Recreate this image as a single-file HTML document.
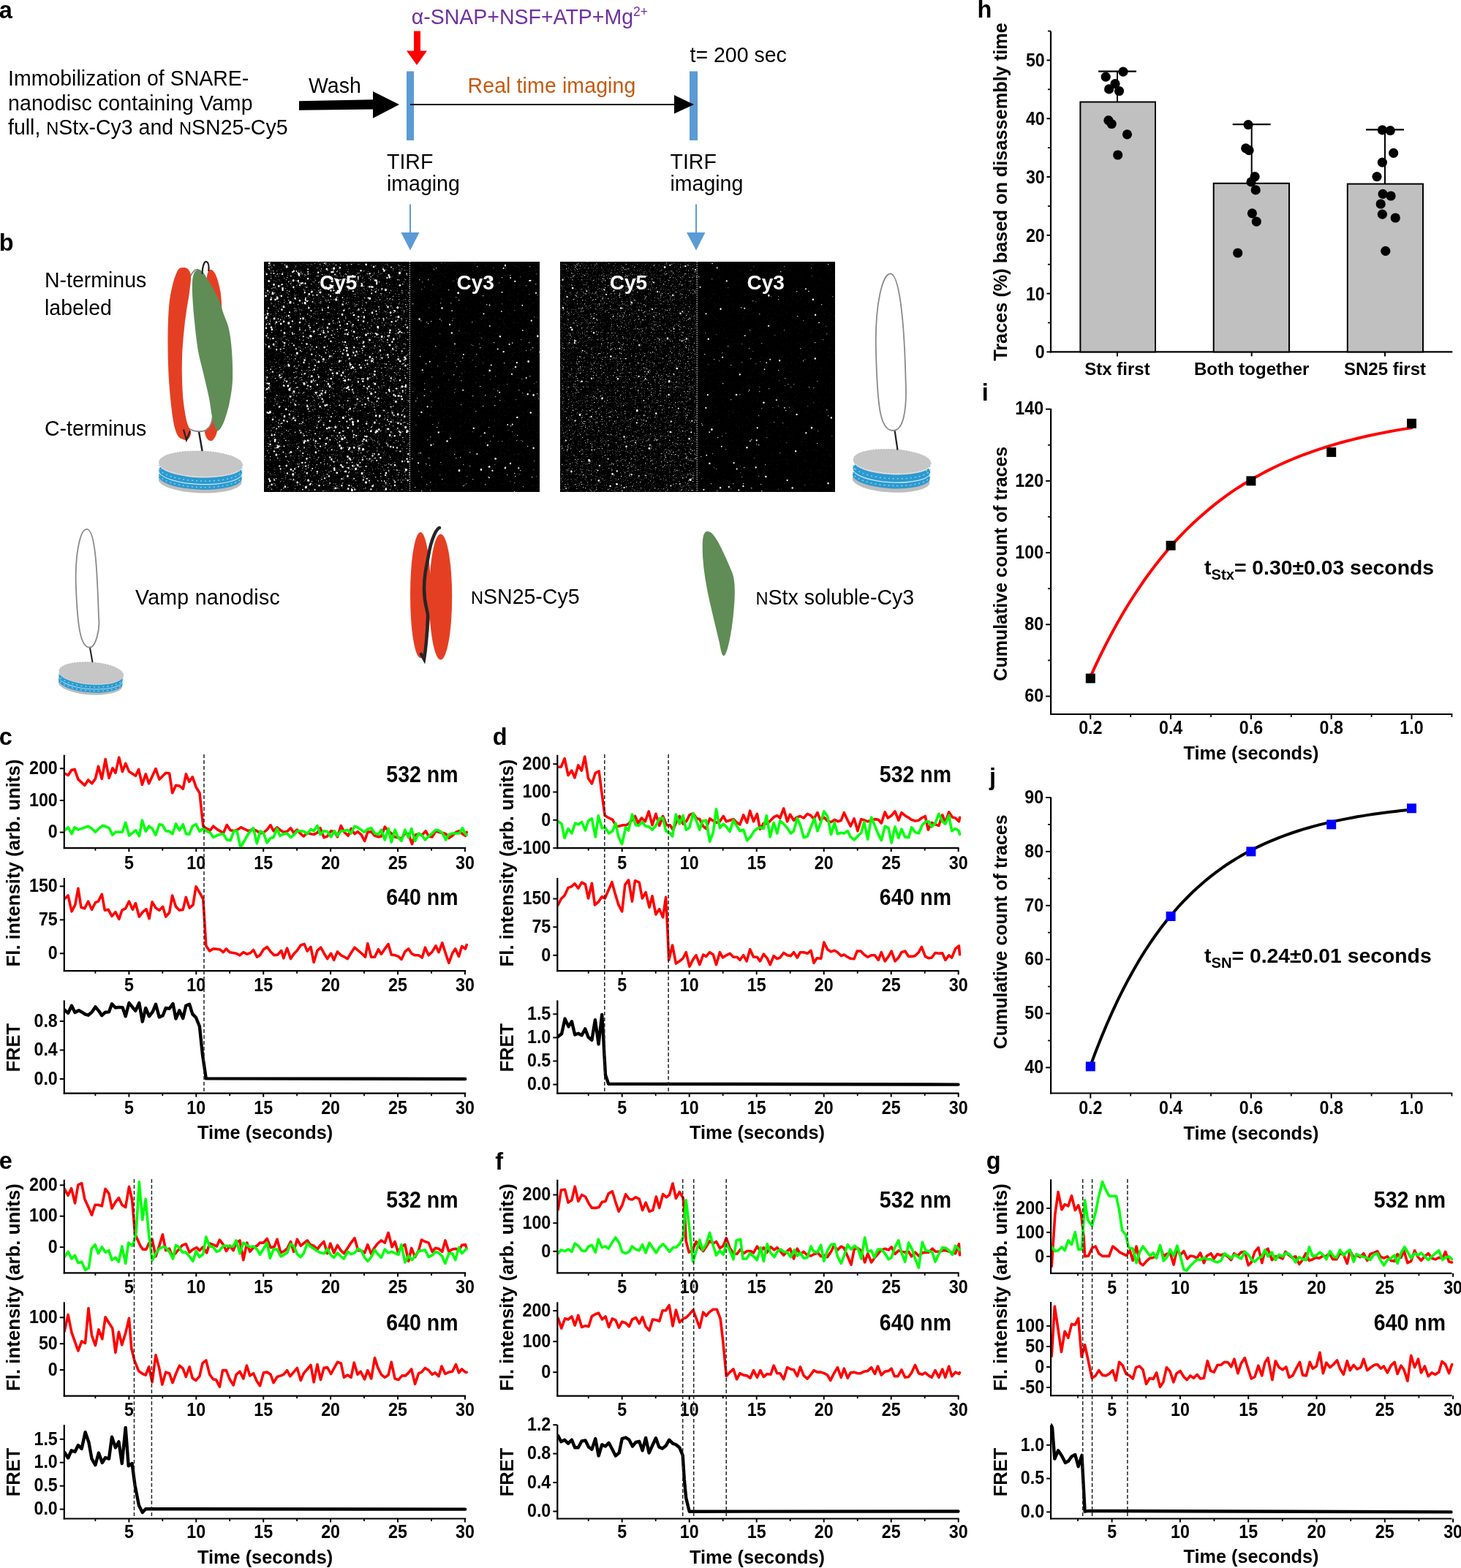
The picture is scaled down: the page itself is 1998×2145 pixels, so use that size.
<!DOCTYPE html>
<html><head><meta charset="utf-8"><style>
html,body{margin:0;padding:0;background:#fff;}
svg{display:block;}
text{font-family:'Liberation Sans', Arial, sans-serif;}
</style></head><body>
<svg xmlns="http://www.w3.org/2000/svg" width="1998" height="2145" viewBox="0 0 1998 2145" font-family="'Liberation Sans', Arial, sans-serif">
<rect width="1998" height="2145" fill="#fff"/>
<text x="-1.3" y="24.5" font-size="32.5" font-weight="bold">a</text>
<text transform="translate(11.0,117.0) scale(0.9727,1)" font-size="29.3">Immobilization of SNARE-</text>
<text transform="translate(11.0,150.7) scale(0.9727,1)" font-size="29.3" letter-spacing="0.11">nanodisc containing Vamp</text>
<text transform="translate(11.0,184.0) scale(0.9727,1)" font-size="29.3">full, <tspan font-size="24.3">N</tspan>Stx-Cy3 and <tspan font-size="24.3">N</tspan>SN25-Cy5</text>
<text transform="translate(422.0,127.0) scale(0.9727,1)" font-size="29.3">Wash</text>
<polygon points="409.0,138.3 510.0,136.3 510.0,125.0 546.0,143.0 510.0,161.8 510.0,149.5 409.0,150.8" fill="#000"/>
<rect x="556" y="97.5" width="10" height="94.5" fill="#5B9BD5"/>
<rect x="943" y="97.5" width="11" height="94.5" fill="#5B9BD5"/>
<line x1="561.0" y1="143.0" x2="924.0" y2="143.0" stroke="#000" stroke-width="2"/>
<polygon points="922.0,130.0 949.0,143.0 922.0,155.5" fill="#000"/>
<text transform="translate(639.5,127.0) scale(0.9727,1)" font-size="29.3" fill="#C55A11" letter-spacing="0.12">Real time imaging</text>
<text transform="translate(562.8,32.5) scale(0.9727,1)" font-size="29.3" fill="#7030A0">&#945;-SNAP+NSF+ATP+Mg<tspan font-size="18" dy="-10.2">2+</tspan></text>
<polygon points="566.0,42.5 575.0,42.5 575.0,69.5 584.0,69.5 570.0,89.0 556.0,69.5 566.0,69.5" fill="#FF0000"/>
<text transform="translate(943.5,85.0) scale(0.9727,1)" font-size="29.3">t= 200 sec</text>
<text transform="translate(529.0,230.8) scale(0.9727,1)" font-size="29.3">TIRF</text>
<text transform="translate(529.0,260.5) scale(0.9727,1)" font-size="29.3">imaging</text>
<text transform="translate(916.5,230.8) scale(0.9727,1)" font-size="29.3">TIRF</text>
<text transform="translate(916.5,260.5) scale(0.9727,1)" font-size="29.3">imaging</text>
<line x1="561.0" y1="279.4" x2="561.0" y2="320.0" stroke="#5B9BD5" stroke-width="2"/>
<polygon points="548.4,318.0 573.5,318.0 561.0,342.4" fill="#5B9BD5"/>
<line x1="952.0" y1="279.4" x2="952.0" y2="320.0" stroke="#5B9BD5" stroke-width="2"/>
<polygon points="939.0,318.0 964.5,318.0 952.0,342.4" fill="#5B9BD5"/>
<text x="-1.2" y="343.0" font-size="32.5" font-weight="bold">b</text>
<text transform="translate(61.0,392.8) scale(0.9727,1)" font-size="29.3">N-terminus</text>
<text transform="translate(61.0,430.7) scale(0.9727,1)" font-size="29.3">labeled</text>
<text transform="translate(61.0,596.4) scale(0.9727,1)" font-size="29.3">C-terminus</text>
<rect x="361" y="358" width="377" height="315" fill="#000"/>
<filter id="gr10" x="0" y="0" width="1" height="1" color-interpolation-filters="sRGB"><feTurbulence type="fractalNoise" baseFrequency="0.85" numOctaves="2" seed="7"/><feColorMatrix type="matrix" values="0 0 0 0 1 0 0 0 0 1 0 0 0 0 1 6 0 0 0 -3.9"/></filter>
<rect x="361.0" y="358" width="199.4" height="315" filter="url(#gr10)" opacity="0.5"/>
<path fill="rgb(210,210,210)" d="M463 507h1.3v1.3h-1.3zM525 657h1.3v1.3h-1.3zM443 634h1.3v1.3h-1.3zM422 562h1.3v1.3h-1.3zM452 584h1.3v1.3h-1.3zM402 500h1.3v1.3h-1.3zM510 663h1.3v1.3h-1.3zM505 516h1.3v1.3h-1.3zM543 382h1.3v1.3h-1.3zM528 434h1.3v1.3h-1.3zM400 546h1.3v1.3h-1.3zM531 634h1.3v1.3h-1.3zM543 419h1.3v1.3h-1.3zM537 534h1.3v1.3h-1.3zM410 662h1.3v1.3h-1.3zM514 488h1.3v1.3h-1.3zM404 508h1.3v1.3h-1.3zM505 535h1.3v1.3h-1.3zM447 634h1.3v1.3h-1.3zM533 521h1.3v1.3h-1.3zM413 374h1.3v1.3h-1.3zM452 644h1.3v1.3h-1.3zM434 541h1.3v1.3h-1.3zM384 669h1.3v1.3h-1.3zM402 551h1.3v1.3h-1.3zM418 411h1.3v1.3h-1.3zM518 385h1.3v1.3h-1.3zM480 498h1.3v1.3h-1.3zM498 643h1.3v1.3h-1.3zM388 519h1.3v1.3h-1.3zM391 432h1.3v1.3h-1.3zM420 429h1.3v1.3h-1.3zM507 445h1.3v1.3h-1.3zM423 625h1.3v1.3h-1.3zM548 659h1.3v1.3h-1.3zM433 536h1.3v1.3h-1.3zM489 585h1.3v1.3h-1.3zM437 361h1.3v1.3h-1.3zM461 667h1.3v1.3h-1.3zM365 456h1.3v1.3h-1.3zM541 479h1.3v1.3h-1.3zM365 616h1.3v1.3h-1.3zM367 664h1.3v1.3h-1.3zM450 539h1.3v1.3h-1.3zM387 547h1.3v1.3h-1.3zM439 488h1.3v1.3h-1.3zM481 618h1.3v1.3h-1.3zM532 400h1.3v1.3h-1.3zM466 636h1.3v1.3h-1.3zM399 454h1.3v1.3h-1.3zM392 379h1.3v1.3h-1.3zM547 519h1.3v1.3h-1.3zM380 578h1.3v1.3h-1.3zM381 574h1.3v1.3h-1.3zM508 550h1.3v1.3h-1.3zM482 459h1.3v1.3h-1.3zM378 552h1.3v1.3h-1.3zM366 428h1.3v1.3h-1.3zM525 658h1.3v1.3h-1.3zM552 604h1.3v1.3h-1.3zM429 547h1.3v1.3h-1.3zM521 503h1.3v1.3h-1.3zM517 529h1.3v1.3h-1.3zM499 502h1.3v1.3h-1.3zM394 385h1.3v1.3h-1.3zM367 363h1.3v1.3h-1.3zM489 610h1.3v1.3h-1.3zM511 556h1.3v1.3h-1.3zM472 433h1.3v1.3h-1.3zM476 396h1.3v1.3h-1.3zM553 645h1.3v1.3h-1.3zM441 494h1.3v1.3h-1.3zM389 362h1.3v1.3h-1.3zM363 471h1.3v1.3h-1.3zM521 657h1.3v1.3h-1.3zM397 550h1.3v1.3h-1.3zM410 616h1.3v1.3h-1.3zM465 480h1.3v1.3h-1.3zM516 604h1.3v1.3h-1.3zM396 434h1.3v1.3h-1.3zM485 505h1.3v1.3h-1.3zM369 624h1.3v1.3h-1.3zM372 399h1.3v1.3h-1.3zM394 410h1.3v1.3h-1.3zM449 402h1.3v1.3h-1.3zM487 461h1.3v1.3h-1.3zM469 520h1.3v1.3h-1.3zM498 589h1.3v1.3h-1.3zM549 397h1.3v1.3h-1.3zM555 419h1.3v1.3h-1.3zM456 483h1.3v1.3h-1.3zM483 558h1.3v1.3h-1.3zM411 372h1.3v1.3h-1.3zM438 412h1.3v1.3h-1.3zM557 498h1.3v1.3h-1.3zM490 616h1.3v1.3h-1.3zM417 510h1.3v1.3h-1.3zM431 520h1.3v1.3h-1.3zM370 406h1.3v1.3h-1.3zM380 425h1.3v1.3h-1.3zM403 516h1.3v1.3h-1.3zM533 669h1.3v1.3h-1.3zM449 463h1.3v1.3h-1.3zM502 587h1.3v1.3h-1.3zM463 576h1.3v1.3h-1.3zM413 414h1.3v1.3h-1.3zM393 406h1.3v1.3h-1.3zM417 451h1.3v1.3h-1.3zM520 651h1.3v1.3h-1.3zM473 535h1.3v1.3h-1.3zM388 568h1.3v1.3h-1.3zM472 569h1.3v1.3h-1.3zM395 398h1.3v1.3h-1.3zM543 437h1.3v1.3h-1.3zM424 471h1.3v1.3h-1.3zM471 451h1.3v1.3h-1.3zM503 547h1.3v1.3h-1.3zM513 542h1.3v1.3h-1.3zM505 511h1.3v1.3h-1.3zM537 555h1.3v1.3h-1.3zM381 439h1.3v1.3h-1.3zM538 519h1.3v1.3h-1.3zM366 462h1.3v1.3h-1.3zM419 531h1.3v1.3h-1.3zM516 657h1.3v1.3h-1.3zM395 619h1.3v1.3h-1.3zM423 588h1.3v1.3h-1.3zM434 512h1.3v1.3h-1.3zM473 472h1.3v1.3h-1.3zM546 537h1.3v1.3h-1.3zM389 517h1.3v1.3h-1.3zM445 410h1.3v1.3h-1.3zM412 579h1.3v1.3h-1.3zM433 647h1.3v1.3h-1.3zM379 626h1.3v1.3h-1.3zM455 513h1.3v1.3h-1.3zM534 431h1.3v1.3h-1.3zM468 467h1.3v1.3h-1.3zM498 556h1.3v1.3h-1.3zM482 481h1.3v1.3h-1.3zM506 382h1.3v1.3h-1.3zM426 658h1.3v1.3h-1.3zM548 435h1.3v1.3h-1.3zM553 577h1.3v1.3h-1.3zM558 548h1.3v1.3h-1.3zM518 570h1.3v1.3h-1.3zM461 605h1.3v1.3h-1.3zM381 637h1.3v1.3h-1.3zM376 663h1.3v1.3h-1.3zM377 612h1.3v1.3h-1.3zM380 605h1.3v1.3h-1.3zM464 391h1.3v1.3h-1.3zM469 595h1.3v1.3h-1.3zM403 490h1.3v1.3h-1.3zM534 591h1.3v1.3h-1.3zM433 377h1.3v1.3h-1.3zM469 517h1.3v1.3h-1.3zM507 531h1.3v1.3h-1.3zM416 400h1.3v1.3h-1.3zM557 454h1.3v1.3h-1.3zM498 449h1.3v1.3h-1.3zM431 611h1.3v1.3h-1.3zM431 486h1.3v1.3h-1.3zM378 405h1.3v1.3h-1.3zM447 369h1.3v1.3h-1.3zM482 535h1.3v1.3h-1.3zM405 515h1.3v1.3h-1.3zM480 452h1.3v1.3h-1.3zM450 543h1.3v1.3h-1.3zM405 515h1.3v1.3h-1.3zM460 371h1.3v1.3h-1.3zM518 607h1.3v1.3h-1.3zM421 636h1.3v1.3h-1.3zM435 386h1.3v1.3h-1.3zM412 469h1.3v1.3h-1.3zM524 437h1.3v1.3h-1.3zM410 429h1.3v1.3h-1.3zM447 648h1.3v1.3h-1.3zM491 638h1.3v1.3h-1.3zM501 530h1.3v1.3h-1.3zM391 588h1.3v1.3h-1.3zM447 473h1.3v1.3h-1.3zM558 400h1.3v1.3h-1.3zM379 374h1.3v1.3h-1.3zM519 409h1.3v1.3h-1.3zM534 418h1.3v1.3h-1.3zM377 654h1.3v1.3h-1.3zM520 647h1.3v1.3h-1.3zM477 645h1.3v1.3h-1.3zM554 416h1.3v1.3h-1.3zM493 619h1.3v1.3h-1.3zM520 589h1.3v1.3h-1.3zM520 401h1.3v1.3h-1.3zM554 488h1.3v1.3h-1.3zM367 610h1.3v1.3h-1.3zM531 576h1.3v1.3h-1.3zM551 528h1.3v1.3h-1.3zM440 375h1.3v1.3h-1.3zM527 581h1.3v1.3h-1.3zM537 484h1.3v1.3h-1.3zM550 562h1.3v1.3h-1.3zM448 410h1.3v1.3h-1.3zM370 380h1.3v1.3h-1.3zM499 485h1.3v1.3h-1.3zM463 495h1.3v1.3h-1.3zM512 460h1.3v1.3h-1.3zM464 373h1.3v1.3h-1.3zM531 643h1.3v1.3h-1.3zM502 441h1.3v1.3h-1.3zM530 639h1.3v1.3h-1.3zM402 456h1.3v1.3h-1.3zM371 669h1.3v1.3h-1.3zM498 407h1.3v1.3h-1.3zM476 439h1.3v1.3h-1.3zM525 444h1.3v1.3h-1.3zM552 476h1.3v1.3h-1.3zM489 517h1.3v1.3h-1.3zM496 469h1.3v1.3h-1.3zM425 432h1.3v1.3h-1.3zM408 611h1.3v1.3h-1.3zM551 560h1.3v1.3h-1.3zM463 548h1.3v1.3h-1.3zM388 473h1.3v1.3h-1.3zM557 504h1.3v1.3h-1.3zM550 388h1.3v1.3h-1.3zM486 508h1.3v1.3h-1.3zM434 606h1.3v1.3h-1.3zM464 401h1.3v1.3h-1.3zM510 495h1.3v1.3h-1.3zM512 435h1.3v1.3h-1.3zM371 407h1.3v1.3h-1.3zM456 541h1.3v1.3h-1.3zM407 416h1.3v1.3h-1.3zM557 464h1.3v1.3h-1.3zM374 362h1.3v1.3h-1.3zM481 533h1.3v1.3h-1.3zM412 519h1.3v1.3h-1.3zM435 449h1.3v1.3h-1.3zM533 625h1.3v1.3h-1.3zM412 506h1.3v1.3h-1.3zM455 461h1.3v1.3h-1.3zM476 454h1.3v1.3h-1.3zM434 451h1.3v1.3h-1.3zM474 639h1.3v1.3h-1.3zM553 513h1.3v1.3h-1.3zM408 499h1.3v1.3h-1.3zM485 553h1.3v1.3h-1.3zM559 646h1.3v1.3h-1.3zM377 654h1.3v1.3h-1.3zM458 480h1.3v1.3h-1.3zM425 643h1.3v1.3h-1.3zM537 478h1.3v1.3h-1.3zM451 636h1.3v1.3h-1.3zM526 502h1.3v1.3h-1.3zM501 627h1.3v1.3h-1.3zM521 509h1.3v1.3h-1.3zM386 467h1.3v1.3h-1.3zM369 463h1.3v1.3h-1.3zM446 478h1.3v1.3h-1.3zM520 485h1.3v1.3h-1.3zM457 380h1.3v1.3h-1.3zM507 584h1.3v1.3h-1.3zM407 569h1.3v1.3h-1.3zM551 497h1.3v1.3h-1.3zM469 412h1.3v1.3h-1.3zM436 599h1.3v1.3h-1.3zM550 536h1.3v1.3h-1.3zM502 374h1.3v1.3h-1.3zM499 667h1.3v1.3h-1.3zM476 560h1.3v1.3h-1.3zM518 435h1.3v1.3h-1.3zM513 652h1.3v1.3h-1.3zM414 593h1.3v1.3h-1.3zM414 455h1.3v1.3h-1.3zM537 367h1.3v1.3h-1.3zM445 359h1.3v1.3h-1.3zM518 473h1.3v1.3h-1.3zM481 445h1.3v1.3h-1.3zM403 591h1.3v1.3h-1.3zM493 638h1.3v1.3h-1.3zM477 421h1.3v1.3h-1.3zM445 534h1.3v1.3h-1.3zM374 418h1.3v1.3h-1.3zM443 520h1.3v1.3h-1.3zM465 595h1.3v1.3h-1.3zM458 661h1.3v1.3h-1.3zM495 625h1.3v1.3h-1.3zM518 579h1.3v1.3h-1.3zM366 461h1.3v1.3h-1.3zM450 413h1.3v1.3h-1.3zM539 509h1.3v1.3h-1.3zM557 579h1.3v1.3h-1.3zM491 609h1.3v1.3h-1.3zM509 620h1.3v1.3h-1.3zM482 427h1.3v1.3h-1.3zM369 603h1.3v1.3h-1.3zM409 464h1.3v1.3h-1.3zM389 520h1.3v1.3h-1.3zM426 474h1.3v1.3h-1.3zM460 400h1.3v1.3h-1.3zM471 530h1.3v1.3h-1.3zM494 421h1.3v1.3h-1.3zM464 576h1.3v1.3h-1.3zM368 399h1.3v1.3h-1.3zM533 408h1.3v1.3h-1.3zM465 382h1.3v1.3h-1.3zM379 406h1.3v1.3h-1.3zM528 417h1.3v1.3h-1.3zM454 565h1.3v1.3h-1.3zM394 631h1.3v1.3h-1.3zM534 590h1.3v1.3h-1.3zM429 521h1.3v1.3h-1.3zM421 639h1.3v1.3h-1.3zM365 506h1.3v1.3h-1.3zM382 502h1.3v1.3h-1.3zM510 491h1.3v1.3h-1.3zM506 456h1.3v1.3h-1.3zM497 653h1.3v1.3h-1.3zM480 668h1.3v1.3h-1.3zM489 373h1.3v1.3h-1.3zM548 574h1.3v1.3h-1.3zM404 548h1.3v1.3h-1.3zM498 543h1.3v1.3h-1.3zM460 406h1.3v1.3h-1.3zM508 583h1.3v1.3h-1.3zM362 543h1.3v1.3h-1.3zM419 523h1.3v1.3h-1.3zM401 414h1.3v1.3h-1.3zM471 514h1.3v1.3h-1.3zM399 455h1.3v1.3h-1.3zM376 517h1.3v1.3h-1.3zM395 414h1.3v1.3h-1.3zM430 609h1.3v1.3h-1.3zM385 593h1.3v1.3h-1.3zM409 579h1.3v1.3h-1.3zM373 370h1.3v1.3h-1.3zM438 632h1.3v1.3h-1.3zM411 516h1.3v1.3h-1.3zM491 461h1.3v1.3h-1.3zM473 414h1.3v1.3h-1.3zM480 361h1.3v1.3h-1.3zM476 567h1.3v1.3h-1.3zM435 616h1.3v1.3h-1.3zM463 384h1.3v1.3h-1.3zM431 492h1.3v1.3h-1.3zM383 437h1.3v1.3h-1.3zM374 584h1.3v1.3h-1.3zM439 655h1.3v1.3h-1.3zM476 396h1.3v1.3h-1.3zM421 462h1.3v1.3h-1.3z"/>
<path fill="rgb(170,170,170)" d="M550 590h1.3v1.3h-1.3zM424 600h1.3v1.3h-1.3zM470 471h1.3v1.3h-1.3zM468 660h1.3v1.3h-1.3zM442 547h1.3v1.3h-1.3zM414 465h1.3v1.3h-1.3zM553 630h1.3v1.3h-1.3zM464 382h1.3v1.3h-1.3zM515 429h1.3v1.3h-1.3zM483 626h1.3v1.3h-1.3zM374 554h1.3v1.3h-1.3zM530 610h1.3v1.3h-1.3zM391 363h1.3v1.3h-1.3zM497 370h1.3v1.3h-1.3zM517 457h1.3v1.3h-1.3zM400 562h1.3v1.3h-1.3zM455 390h1.3v1.3h-1.3zM404 486h1.3v1.3h-1.3zM478 439h1.3v1.3h-1.3zM495 606h1.3v1.3h-1.3zM374 661h1.3v1.3h-1.3zM498 499h1.3v1.3h-1.3zM397 562h1.3v1.3h-1.3zM414 537h1.3v1.3h-1.3zM469 377h1.3v1.3h-1.3zM513 502h1.3v1.3h-1.3zM500 362h1.3v1.3h-1.3zM387 522h1.3v1.3h-1.3zM436 399h1.3v1.3h-1.3zM445 361h1.3v1.3h-1.3zM493 608h1.3v1.3h-1.3zM451 554h1.3v1.3h-1.3zM515 612h1.3v1.3h-1.3zM377 467h1.3v1.3h-1.3zM404 424h1.3v1.3h-1.3zM514 574h1.3v1.3h-1.3zM466 493h1.3v1.3h-1.3zM387 476h1.3v1.3h-1.3zM439 452h1.3v1.3h-1.3zM440 447h1.3v1.3h-1.3zM402 421h1.3v1.3h-1.3zM418 603h1.3v1.3h-1.3zM510 523h1.3v1.3h-1.3zM482 666h1.3v1.3h-1.3zM521 464h1.3v1.3h-1.3zM435 397h1.3v1.3h-1.3zM406 372h1.3v1.3h-1.3zM473 375h1.3v1.3h-1.3zM507 631h1.3v1.3h-1.3zM481 486h1.3v1.3h-1.3zM419 626h1.3v1.3h-1.3zM377 495h1.3v1.3h-1.3zM552 426h1.3v1.3h-1.3zM515 616h1.3v1.3h-1.3zM369 439h1.3v1.3h-1.3zM475 505h1.3v1.3h-1.3zM371 593h1.3v1.3h-1.3zM397 623h1.3v1.3h-1.3zM495 450h1.3v1.3h-1.3zM529 408h1.3v1.3h-1.3zM366 431h1.3v1.3h-1.3zM433 635h1.3v1.3h-1.3zM480 528h1.3v1.3h-1.3zM413 623h1.3v1.3h-1.3zM414 523h1.3v1.3h-1.3zM490 424h1.3v1.3h-1.3zM447 427h1.3v1.3h-1.3zM438 633h1.3v1.3h-1.3zM366 666h1.3v1.3h-1.3zM444 612h1.3v1.3h-1.3zM453 497h1.3v1.3h-1.3zM537 582h1.3v1.3h-1.3zM438 574h1.3v1.3h-1.3zM485 557h1.3v1.3h-1.3zM454 452h1.3v1.3h-1.3zM484 463h1.3v1.3h-1.3zM368 527h1.3v1.3h-1.3zM494 476h1.3v1.3h-1.3zM375 545h1.3v1.3h-1.3zM552 424h1.3v1.3h-1.3zM375 400h1.3v1.3h-1.3zM460 664h1.3v1.3h-1.3zM446 459h1.3v1.3h-1.3zM404 524h1.3v1.3h-1.3zM525 497h1.3v1.3h-1.3zM387 667h1.3v1.3h-1.3zM526 670h1.3v1.3h-1.3zM401 540h1.3v1.3h-1.3zM449 427h1.3v1.3h-1.3zM437 534h1.3v1.3h-1.3zM495 476h1.3v1.3h-1.3zM402 571h1.3v1.3h-1.3zM553 558h1.3v1.3h-1.3zM433 628h1.3v1.3h-1.3zM456 524h1.3v1.3h-1.3zM421 558h1.3v1.3h-1.3zM416 645h1.3v1.3h-1.3zM549 669h1.3v1.3h-1.3zM469 600h1.3v1.3h-1.3zM441 671h1.3v1.3h-1.3zM554 382h1.3v1.3h-1.3zM483 562h1.3v1.3h-1.3zM497 623h1.3v1.3h-1.3zM439 367h1.3v1.3h-1.3zM455 438h1.3v1.3h-1.3zM475 371h1.3v1.3h-1.3zM503 565h1.3v1.3h-1.3zM543 541h1.3v1.3h-1.3zM433 495h1.3v1.3h-1.3zM440 421h1.3v1.3h-1.3zM552 470h1.3v1.3h-1.3zM541 456h1.3v1.3h-1.3zM436 575h1.3v1.3h-1.3zM366 402h1.3v1.3h-1.3zM495 482h1.3v1.3h-1.3zM367 619h1.3v1.3h-1.3zM424 477h1.3v1.3h-1.3zM427 560h1.3v1.3h-1.3zM499 624h1.3v1.3h-1.3zM448 560h1.3v1.3h-1.3zM444 609h1.3v1.3h-1.3zM427 506h1.3v1.3h-1.3zM388 599h1.3v1.3h-1.3zM525 573h1.3v1.3h-1.3zM495 417h1.3v1.3h-1.3zM407 372h1.3v1.3h-1.3zM397 530h1.3v1.3h-1.3zM487 384h1.3v1.3h-1.3zM397 387h1.3v1.3h-1.3zM376 570h1.3v1.3h-1.3zM527 426h1.3v1.3h-1.3zM466 597h1.3v1.3h-1.3zM448 518h1.3v1.3h-1.3zM517 396h1.3v1.3h-1.3zM487 635h1.3v1.3h-1.3zM526 636h1.3v1.3h-1.3zM439 487h1.3v1.3h-1.3zM460 601h1.3v1.3h-1.3zM405 541h1.3v1.3h-1.3zM409 448h1.3v1.3h-1.3zM369 362h1.3v1.3h-1.3zM407 494h1.3v1.3h-1.3zM544 656h1.3v1.3h-1.3zM531 644h1.3v1.3h-1.3zM363 400h1.3v1.3h-1.3zM404 523h1.3v1.3h-1.3zM401 521h1.3v1.3h-1.3zM418 641h1.3v1.3h-1.3zM467 556h1.3v1.3h-1.3zM381 514h1.3v1.3h-1.3zM559 649h1.3v1.3h-1.3zM476 413h1.3v1.3h-1.3zM435 544h1.3v1.3h-1.3zM538 427h1.3v1.3h-1.3zM487 553h1.3v1.3h-1.3zM524 438h1.3v1.3h-1.3zM420 621h1.3v1.3h-1.3zM504 380h1.3v1.3h-1.3zM388 413h1.3v1.3h-1.3zM457 457h1.3v1.3h-1.3zM433 581h1.3v1.3h-1.3zM469 553h1.3v1.3h-1.3zM481 526h1.3v1.3h-1.3zM527 513h1.3v1.3h-1.3zM514 429h1.3v1.3h-1.3zM532 661h1.3v1.3h-1.3zM532 533h1.3v1.3h-1.3zM416 525h1.3v1.3h-1.3zM551 446h1.3v1.3h-1.3zM532 514h1.3v1.3h-1.3zM501 576h1.3v1.3h-1.3zM399 469h1.3v1.3h-1.3zM429 491h1.3v1.3h-1.3zM384 389h1.3v1.3h-1.3zM469 478h1.3v1.3h-1.3zM485 402h1.3v1.3h-1.3zM479 441h1.3v1.3h-1.3zM524 523h1.3v1.3h-1.3zM542 473h1.3v1.3h-1.3zM534 397h1.3v1.3h-1.3zM545 415h1.3v1.3h-1.3zM371 394h1.3v1.3h-1.3zM441 405h1.3v1.3h-1.3zM376 377h1.3v1.3h-1.3zM554 537h1.3v1.3h-1.3zM541 433h1.3v1.3h-1.3zM518 570h1.3v1.3h-1.3zM423 450h1.3v1.3h-1.3zM431 606h1.3v1.3h-1.3zM553 369h1.3v1.3h-1.3zM404 503h1.3v1.3h-1.3zM384 583h1.3v1.3h-1.3zM495 615h1.3v1.3h-1.3zM374 654h1.3v1.3h-1.3zM461 370h1.3v1.3h-1.3zM554 533h1.3v1.3h-1.3zM363 533h1.3v1.3h-1.3zM418 590h1.3v1.3h-1.3zM383 579h1.3v1.3h-1.3zM507 600h1.3v1.3h-1.3zM388 482h1.3v1.3h-1.3zM404 364h1.3v1.3h-1.3zM388 472h1.3v1.3h-1.3zM544 649h1.3v1.3h-1.3zM383 658h1.3v1.3h-1.3zM508 629h1.3v1.3h-1.3zM435 625h1.3v1.3h-1.3zM365 425h1.3v1.3h-1.3zM449 490h1.3v1.3h-1.3zM410 579h1.3v1.3h-1.3zM545 646h1.3v1.3h-1.3zM532 529h1.3v1.3h-1.3zM454 522h1.3v1.3h-1.3zM486 595h1.3v1.3h-1.3zM480 664h1.3v1.3h-1.3zM469 612h1.3v1.3h-1.3zM387 508h1.3v1.3h-1.3zM555 438h1.3v1.3h-1.3zM465 449h1.3v1.3h-1.3zM544 362h1.3v1.3h-1.3zM385 515h1.3v1.3h-1.3zM438 370h1.3v1.3h-1.3zM536 409h1.3v1.3h-1.3zM453 487h1.3v1.3h-1.3zM373 393h1.3v1.3h-1.3zM435 552h1.3v1.3h-1.3zM537 566h1.3v1.3h-1.3zM422 497h1.3v1.3h-1.3zM528 387h1.3v1.3h-1.3zM452 486h1.3v1.3h-1.3zM492 589h1.3v1.3h-1.3zM517 370h1.3v1.3h-1.3zM466 382h1.3v1.3h-1.3zM433 366h1.3v1.3h-1.3zM544 603h1.3v1.3h-1.3zM412 480h1.3v1.3h-1.3zM467 488h1.3v1.3h-1.3zM484 637h1.3v1.3h-1.3zM450 504h1.3v1.3h-1.3zM374 472h1.3v1.3h-1.3zM472 374h1.3v1.3h-1.3zM419 595h1.3v1.3h-1.3zM406 663h1.3v1.3h-1.3zM385 511h1.3v1.3h-1.3zM547 608h1.3v1.3h-1.3zM366 606h1.3v1.3h-1.3zM552 455h1.3v1.3h-1.3zM454 525h1.3v1.3h-1.3zM408 553h1.3v1.3h-1.3zM495 380h1.3v1.3h-1.3zM416 375h1.3v1.3h-1.3zM540 445h1.3v1.3h-1.3zM394 471h1.3v1.3h-1.3zM530 564h1.3v1.3h-1.3zM430 559h1.3v1.3h-1.3zM403 646h1.3v1.3h-1.3zM472 435h1.3v1.3h-1.3zM550 497h1.3v1.3h-1.3zM525 460h1.3v1.3h-1.3zM398 485h1.3v1.3h-1.3zM401 509h1.3v1.3h-1.3zM371 454h1.3v1.3h-1.3zM408 537h1.3v1.3h-1.3zM537 405h1.3v1.3h-1.3zM498 556h1.3v1.3h-1.3zM417 475h1.3v1.3h-1.3zM509 483h1.3v1.3h-1.3zM510 647h1.3v1.3h-1.3zM435 377h1.3v1.3h-1.3zM447 615h1.3v1.3h-1.3zM383 642h1.3v1.3h-1.3zM408 386h1.3v1.3h-1.3zM393 666h1.3v1.3h-1.3zM492 377h1.3v1.3h-1.3zM461 629h1.3v1.3h-1.3zM402 553h1.3v1.3h-1.3zM488 464h1.3v1.3h-1.3zM458 599h1.3v1.3h-1.3zM391 382h1.3v1.3h-1.3zM496 651h1.3v1.3h-1.3zM544 487h1.3v1.3h-1.3zM463 468h1.3v1.3h-1.3zM428 454h1.3v1.3h-1.3zM400 537h1.3v1.3h-1.3zM431 383h1.3v1.3h-1.3zM476 646h1.3v1.3h-1.3zM554 471h1.3v1.3h-1.3zM555 486h1.3v1.3h-1.3zM397 655h1.3v1.3h-1.3zM378 612h1.3v1.3h-1.3zM489 437h1.3v1.3h-1.3zM473 386h1.3v1.3h-1.3zM402 537h1.3v1.3h-1.3zM407 610h1.3v1.3h-1.3zM474 362h1.3v1.3h-1.3zM540 474h1.3v1.3h-1.3zM540 517h1.3v1.3h-1.3zM392 397h1.3v1.3h-1.3zM497 474h1.3v1.3h-1.3zM517 372h1.3v1.3h-1.3zM531 494h1.3v1.3h-1.3zM376 442h1.3v1.3h-1.3zM367 443h1.3v1.3h-1.3zM545 409h1.3v1.3h-1.3zM472 505h1.3v1.3h-1.3zM415 536h1.3v1.3h-1.3zM438 414h1.3v1.3h-1.3zM367 598h1.3v1.3h-1.3zM421 515h1.3v1.3h-1.3zM425 388h1.3v1.3h-1.3zM536 564h1.3v1.3h-1.3zM436 385h1.3v1.3h-1.3zM450 394h1.3v1.3h-1.3zM446 521h1.3v1.3h-1.3zM382 516h1.3v1.3h-1.3zM396 523h1.3v1.3h-1.3zM493 387h1.3v1.3h-1.3zM362 430h1.3v1.3h-1.3zM497 391h1.3v1.3h-1.3zM556 509h1.3v1.3h-1.3zM486 657h1.3v1.3h-1.3zM492 561h1.3v1.3h-1.3zM465 361h1.3v1.3h-1.3zM492 548h1.3v1.3h-1.3zM541 602h1.3v1.3h-1.3zM455 369h1.3v1.3h-1.3zM513 363h1.3v1.3h-1.3zM364 432h1.3v1.3h-1.3zM378 520h1.3v1.3h-1.3zM442 663h1.3v1.3h-1.3zM380 412h1.3v1.3h-1.3zM473 563h1.3v1.3h-1.3zM368 368h1.3v1.3h-1.3zM505 448h1.3v1.3h-1.3z"/>
<path fill="rgb(90,90,90)" d="M390 620h1.3v1.3h-1.3zM446 492h1.3v1.3h-1.3zM367 472h1.3v1.3h-1.3zM511 511h1.3v1.3h-1.3zM518 531h1.3v1.3h-1.3zM458 581h1.3v1.3h-1.3zM552 656h1.3v1.3h-1.3zM469 501h1.3v1.3h-1.3zM385 565h1.3v1.3h-1.3zM453 518h1.3v1.3h-1.3zM489 405h1.3v1.3h-1.3zM413 508h1.3v1.3h-1.3zM463 438h1.3v1.3h-1.3zM511 441h1.3v1.3h-1.3zM524 641h1.3v1.3h-1.3zM520 463h1.3v1.3h-1.3zM378 473h1.3v1.3h-1.3zM504 658h1.3v1.3h-1.3zM418 617h1.3v1.3h-1.3zM488 475h1.3v1.3h-1.3zM552 631h1.3v1.3h-1.3zM392 464h1.3v1.3h-1.3zM539 521h1.3v1.3h-1.3zM445 671h1.3v1.3h-1.3zM525 617h1.3v1.3h-1.3zM492 391h1.3v1.3h-1.3zM526 605h1.3v1.3h-1.3zM525 436h1.3v1.3h-1.3zM436 592h1.3v1.3h-1.3zM425 571h1.3v1.3h-1.3zM363 623h1.3v1.3h-1.3zM383 645h1.3v1.3h-1.3zM491 549h1.3v1.3h-1.3zM410 439h1.3v1.3h-1.3zM376 546h1.3v1.3h-1.3zM413 538h1.3v1.3h-1.3zM528 565h1.3v1.3h-1.3zM505 376h1.3v1.3h-1.3zM435 543h1.3v1.3h-1.3zM424 651h1.3v1.3h-1.3zM424 453h1.3v1.3h-1.3zM554 494h1.3v1.3h-1.3zM512 474h1.3v1.3h-1.3zM543 546h1.3v1.3h-1.3zM420 541h1.3v1.3h-1.3zM441 547h1.3v1.3h-1.3zM528 586h1.3v1.3h-1.3zM439 570h1.3v1.3h-1.3zM485 543h1.3v1.3h-1.3zM512 395h1.3v1.3h-1.3zM437 574h1.3v1.3h-1.3zM459 591h1.3v1.3h-1.3zM559 567h1.3v1.3h-1.3zM530 468h1.3v1.3h-1.3zM434 568h1.3v1.3h-1.3zM518 499h1.3v1.3h-1.3zM412 374h1.3v1.3h-1.3zM469 509h1.3v1.3h-1.3zM483 386h1.3v1.3h-1.3zM495 414h1.3v1.3h-1.3zM393 376h1.3v1.3h-1.3zM550 421h1.3v1.3h-1.3zM463 502h1.3v1.3h-1.3zM504 407h1.3v1.3h-1.3zM417 637h1.3v1.3h-1.3zM388 458h1.3v1.3h-1.3zM400 548h1.3v1.3h-1.3zM468 584h1.3v1.3h-1.3zM550 603h1.3v1.3h-1.3zM419 482h1.3v1.3h-1.3zM369 535h1.3v1.3h-1.3zM497 646h1.3v1.3h-1.3zM393 373h1.3v1.3h-1.3zM405 425h1.3v1.3h-1.3zM374 383h1.3v1.3h-1.3zM380 377h1.3v1.3h-1.3zM429 456h1.3v1.3h-1.3zM378 666h1.3v1.3h-1.3zM545 405h1.3v1.3h-1.3zM384 464h1.3v1.3h-1.3zM380 617h1.3v1.3h-1.3zM431 429h1.3v1.3h-1.3zM395 491h1.3v1.3h-1.3zM471 443h1.3v1.3h-1.3zM527 590h1.3v1.3h-1.3zM473 601h1.3v1.3h-1.3zM411 371h1.3v1.3h-1.3zM490 433h1.3v1.3h-1.3zM477 613h1.3v1.3h-1.3zM372 515h1.3v1.3h-1.3zM374 409h1.3v1.3h-1.3zM376 548h1.3v1.3h-1.3zM378 370h1.3v1.3h-1.3zM415 545h1.3v1.3h-1.3zM486 646h1.3v1.3h-1.3zM457 462h1.3v1.3h-1.3zM404 462h1.3v1.3h-1.3zM417 415h1.3v1.3h-1.3zM458 661h1.3v1.3h-1.3zM436 568h1.3v1.3h-1.3zM460 538h1.3v1.3h-1.3zM544 534h1.3v1.3h-1.3zM493 544h1.3v1.3h-1.3zM432 494h1.3v1.3h-1.3zM446 657h1.3v1.3h-1.3zM526 415h1.3v1.3h-1.3zM522 612h1.3v1.3h-1.3zM401 492h1.3v1.3h-1.3zM438 538h1.3v1.3h-1.3zM382 614h1.3v1.3h-1.3zM488 646h1.3v1.3h-1.3zM442 658h1.3v1.3h-1.3zM454 506h1.3v1.3h-1.3zM419 361h1.3v1.3h-1.3zM552 506h1.3v1.3h-1.3zM426 492h1.3v1.3h-1.3zM558 411h1.3v1.3h-1.3zM505 646h1.3v1.3h-1.3zM372 595h1.3v1.3h-1.3zM423 608h1.3v1.3h-1.3zM467 533h1.3v1.3h-1.3zM472 392h1.3v1.3h-1.3zM531 654h1.3v1.3h-1.3zM511 551h1.3v1.3h-1.3zM545 587h1.3v1.3h-1.3zM419 664h1.3v1.3h-1.3zM521 527h1.3v1.3h-1.3zM416 657h1.3v1.3h-1.3zM540 531h1.3v1.3h-1.3zM452 398h1.3v1.3h-1.3zM414 638h1.3v1.3h-1.3zM467 661h1.3v1.3h-1.3zM403 530h1.3v1.3h-1.3zM516 377h1.3v1.3h-1.3zM534 481h1.3v1.3h-1.3zM518 578h1.3v1.3h-1.3zM379 550h1.3v1.3h-1.3zM435 402h1.3v1.3h-1.3zM504 462h1.3v1.3h-1.3zM468 595h1.3v1.3h-1.3zM507 553h1.3v1.3h-1.3zM443 631h1.3v1.3h-1.3zM458 466h1.3v1.3h-1.3zM480 446h1.3v1.3h-1.3zM460 563h1.3v1.3h-1.3zM370 613h1.3v1.3h-1.3zM547 420h1.3v1.3h-1.3zM540 401h1.3v1.3h-1.3zM503 464h1.3v1.3h-1.3zM475 387h1.3v1.3h-1.3zM511 372h1.3v1.3h-1.3zM421 508h1.3v1.3h-1.3zM404 383h1.3v1.3h-1.3zM460 584h1.3v1.3h-1.3zM546 506h1.3v1.3h-1.3zM458 383h1.3v1.3h-1.3zM435 640h1.3v1.3h-1.3zM533 520h1.3v1.3h-1.3zM556 435h1.3v1.3h-1.3zM398 574h1.3v1.3h-1.3zM524 527h1.3v1.3h-1.3zM438 469h1.3v1.3h-1.3zM394 602h1.3v1.3h-1.3zM473 553h1.3v1.3h-1.3zM541 452h1.3v1.3h-1.3zM532 623h1.3v1.3h-1.3zM461 480h1.3v1.3h-1.3zM465 582h1.3v1.3h-1.3zM466 623h1.3v1.3h-1.3zM555 655h1.3v1.3h-1.3zM384 505h1.3v1.3h-1.3zM448 442h1.3v1.3h-1.3zM521 471h1.3v1.3h-1.3zM394 524h1.3v1.3h-1.3zM515 587h1.3v1.3h-1.3zM551 578h1.3v1.3h-1.3zM433 399h1.3v1.3h-1.3zM419 522h1.3v1.3h-1.3zM447 452h1.3v1.3h-1.3zM521 544h1.3v1.3h-1.3zM418 439h1.3v1.3h-1.3zM424 434h1.3v1.3h-1.3zM504 491h1.3v1.3h-1.3zM428 573h1.3v1.3h-1.3zM425 594h1.3v1.3h-1.3zM438 428h1.3v1.3h-1.3zM533 444h1.3v1.3h-1.3zM439 652h1.3v1.3h-1.3zM503 616h1.3v1.3h-1.3zM511 594h1.3v1.3h-1.3zM389 647h1.3v1.3h-1.3zM525 527h1.3v1.3h-1.3zM384 565h1.3v1.3h-1.3zM450 505h1.3v1.3h-1.3zM376 591h1.3v1.3h-1.3zM400 392h1.3v1.3h-1.3zM502 392h1.3v1.3h-1.3zM409 660h1.3v1.3h-1.3zM451 390h1.3v1.3h-1.3zM391 388h1.3v1.3h-1.3zM538 541h1.3v1.3h-1.3zM364 520h1.3v1.3h-1.3zM546 643h1.3v1.3h-1.3zM453 367h1.3v1.3h-1.3zM414 664h1.3v1.3h-1.3zM446 652h1.3v1.3h-1.3zM504 528h1.3v1.3h-1.3zM514 670h1.3v1.3h-1.3zM549 616h1.3v1.3h-1.3zM554 462h1.3v1.3h-1.3zM455 665h1.3v1.3h-1.3zM478 544h1.3v1.3h-1.3zM377 587h1.3v1.3h-1.3zM458 442h1.3v1.3h-1.3zM373 570h1.3v1.3h-1.3zM508 468h1.3v1.3h-1.3zM482 446h1.3v1.3h-1.3zM495 461h1.3v1.3h-1.3zM363 372h1.3v1.3h-1.3zM505 564h1.3v1.3h-1.3zM501 536h1.3v1.3h-1.3zM537 610h1.3v1.3h-1.3zM511 523h1.3v1.3h-1.3zM444 600h1.3v1.3h-1.3zM369 533h1.3v1.3h-1.3zM398 385h1.3v1.3h-1.3zM418 416h1.3v1.3h-1.3zM532 586h1.3v1.3h-1.3zM435 626h1.3v1.3h-1.3zM392 391h1.3v1.3h-1.3zM490 628h1.3v1.3h-1.3zM414 575h1.3v1.3h-1.3zM400 651h1.3v1.3h-1.3zM427 385h1.3v1.3h-1.3zM387 658h1.3v1.3h-1.3zM429 539h1.3v1.3h-1.3zM370 649h1.3v1.3h-1.3zM514 515h1.3v1.3h-1.3zM409 662h1.3v1.3h-1.3zM428 599h1.3v1.3h-1.3zM559 390h1.3v1.3h-1.3zM497 400h1.3v1.3h-1.3zM546 577h1.3v1.3h-1.3zM440 540h1.3v1.3h-1.3zM532 389h1.3v1.3h-1.3zM364 589h1.3v1.3h-1.3zM400 657h1.3v1.3h-1.3zM556 503h1.3v1.3h-1.3zM516 496h1.3v1.3h-1.3zM405 504h1.3v1.3h-1.3zM428 444h1.3v1.3h-1.3zM426 473h1.3v1.3h-1.3zM407 633h1.3v1.3h-1.3zM525 549h1.3v1.3h-1.3zM452 611h1.3v1.3h-1.3zM476 505h1.3v1.3h-1.3zM557 590h1.3v1.3h-1.3zM431 426h1.3v1.3h-1.3zM453 530h1.3v1.3h-1.3zM418 521h1.3v1.3h-1.3zM488 400h1.3v1.3h-1.3zM474 483h1.3v1.3h-1.3zM404 409h1.3v1.3h-1.3zM550 415h1.3v1.3h-1.3zM404 572h1.3v1.3h-1.3zM546 368h1.3v1.3h-1.3zM422 442h1.3v1.3h-1.3zM482 638h1.3v1.3h-1.3zM533 602h1.3v1.3h-1.3zM469 617h1.3v1.3h-1.3zM501 414h1.3v1.3h-1.3zM497 668h1.3v1.3h-1.3zM503 554h1.3v1.3h-1.3zM459 375h1.3v1.3h-1.3zM442 650h1.3v1.3h-1.3zM486 435h1.3v1.3h-1.3zM481 478h1.3v1.3h-1.3zM440 621h1.3v1.3h-1.3zM510 629h1.3v1.3h-1.3zM433 425h1.3v1.3h-1.3zM531 436h1.3v1.3h-1.3zM424 555h1.3v1.3h-1.3zM457 615h1.3v1.3h-1.3zM552 640h1.3v1.3h-1.3zM453 451h1.3v1.3h-1.3zM556 547h1.3v1.3h-1.3zM438 398h1.3v1.3h-1.3zM444 625h1.3v1.3h-1.3zM464 541h1.3v1.3h-1.3zM409 387h1.3v1.3h-1.3zM402 626h1.3v1.3h-1.3zM453 621h1.3v1.3h-1.3zM399 538h1.3v1.3h-1.3zM471 524h1.3v1.3h-1.3zM523 365h1.3v1.3h-1.3zM407 606h1.3v1.3h-1.3zM559 531h1.3v1.3h-1.3zM407 407h1.3v1.3h-1.3zM525 455h1.3v1.3h-1.3zM488 396h1.3v1.3h-1.3zM422 502h1.3v1.3h-1.3zM428 509h1.3v1.3h-1.3zM402 485h1.3v1.3h-1.3zM537 577h1.3v1.3h-1.3zM392 415h1.3v1.3h-1.3zM511 423h1.3v1.3h-1.3zM493 616h1.3v1.3h-1.3zM547 452h1.3v1.3h-1.3zM436 414h1.3v1.3h-1.3zM372 595h1.3v1.3h-1.3zM437 448h1.3v1.3h-1.3zM484 388h1.3v1.3h-1.3zM518 426h1.3v1.3h-1.3zM366 636h1.3v1.3h-1.3zM482 588h1.3v1.3h-1.3zM373 599h1.3v1.3h-1.3zM542 587h1.3v1.3h-1.3zM443 526h1.3v1.3h-1.3zM530 601h1.3v1.3h-1.3zM514 531h1.3v1.3h-1.3zM548 545h1.3v1.3h-1.3zM510 532h1.3v1.3h-1.3zM380 591h1.3v1.3h-1.3zM546 413h1.3v1.3h-1.3zM401 630h1.3v1.3h-1.3zM430 421h1.3v1.3h-1.3zM545 420h1.3v1.3h-1.3zM477 555h1.3v1.3h-1.3zM549 613h1.3v1.3h-1.3zM525 404h1.3v1.3h-1.3zM392 629h1.3v1.3h-1.3zM427 662h1.3v1.3h-1.3zM517 595h1.3v1.3h-1.3zM459 555h1.3v1.3h-1.3zM501 617h1.3v1.3h-1.3zM533 552h1.3v1.3h-1.3zM383 671h1.3v1.3h-1.3zM455 668h1.3v1.3h-1.3zM424 506h1.3v1.3h-1.3zM446 606h1.3v1.3h-1.3zM390 650h1.3v1.3h-1.3zM448 590h1.3v1.3h-1.3zM510 424h1.3v1.3h-1.3zM516 451h1.3v1.3h-1.3zM432 538h1.3v1.3h-1.3zM432 481h1.3v1.3h-1.3zM558 479h1.3v1.3h-1.3zM439 558h1.3v1.3h-1.3zM369 657h1.3v1.3h-1.3zM454 585h1.3v1.3h-1.3zM551 566h1.3v1.3h-1.3zM433 505h1.3v1.3h-1.3zM507 362h1.3v1.3h-1.3zM534 520h1.3v1.3h-1.3zM490 484h1.3v1.3h-1.3zM465 613h1.3v1.3h-1.3zM425 554h1.3v1.3h-1.3zM478 614h1.3v1.3h-1.3zM404 639h1.3v1.3h-1.3zM471 547h1.3v1.3h-1.3zM535 515h1.3v1.3h-1.3zM488 545h1.3v1.3h-1.3zM393 589h1.3v1.3h-1.3zM504 407h1.3v1.3h-1.3zM407 649h1.3v1.3h-1.3zM402 395h1.3v1.3h-1.3zM525 665h1.3v1.3h-1.3zM379 375h1.3v1.3h-1.3zM515 384h1.3v1.3h-1.3z"/>
<path fill="rgb(130,130,130)" d="M549 437h1.3v1.3h-1.3zM427 404h1.3v1.3h-1.3zM388 380h1.3v1.3h-1.3zM417 392h1.3v1.3h-1.3zM556 423h1.3v1.3h-1.3zM417 437h1.3v1.3h-1.3zM394 526h1.3v1.3h-1.3zM485 405h1.3v1.3h-1.3zM370 588h1.3v1.3h-1.3zM466 377h1.3v1.3h-1.3zM479 428h1.3v1.3h-1.3zM463 598h1.3v1.3h-1.3zM532 409h1.3v1.3h-1.3zM535 365h1.3v1.3h-1.3zM416 523h1.3v1.3h-1.3zM363 544h1.3v1.3h-1.3zM489 620h1.3v1.3h-1.3zM527 485h1.3v1.3h-1.3zM521 401h1.3v1.3h-1.3zM457 561h1.3v1.3h-1.3zM367 532h1.3v1.3h-1.3zM394 402h1.3v1.3h-1.3zM440 655h1.3v1.3h-1.3zM445 643h1.3v1.3h-1.3zM487 600h1.3v1.3h-1.3zM437 396h1.3v1.3h-1.3zM487 551h1.3v1.3h-1.3zM522 583h1.3v1.3h-1.3zM429 385h1.3v1.3h-1.3zM401 369h1.3v1.3h-1.3zM559 392h1.3v1.3h-1.3zM478 382h1.3v1.3h-1.3zM476 528h1.3v1.3h-1.3zM461 453h1.3v1.3h-1.3zM458 569h1.3v1.3h-1.3zM462 459h1.3v1.3h-1.3zM517 554h1.3v1.3h-1.3zM552 364h1.3v1.3h-1.3zM529 361h1.3v1.3h-1.3zM399 573h1.3v1.3h-1.3zM408 474h1.3v1.3h-1.3zM554 409h1.3v1.3h-1.3zM499 651h1.3v1.3h-1.3zM465 644h1.3v1.3h-1.3zM557 485h1.3v1.3h-1.3zM554 649h1.3v1.3h-1.3zM449 528h1.3v1.3h-1.3zM403 404h1.3v1.3h-1.3zM422 572h1.3v1.3h-1.3zM414 572h1.3v1.3h-1.3zM486 418h1.3v1.3h-1.3zM512 412h1.3v1.3h-1.3zM456 366h1.3v1.3h-1.3zM517 406h1.3v1.3h-1.3zM390 653h1.3v1.3h-1.3zM451 557h1.3v1.3h-1.3zM551 650h1.3v1.3h-1.3zM519 491h1.3v1.3h-1.3zM385 433h1.3v1.3h-1.3zM425 460h1.3v1.3h-1.3zM511 602h1.3v1.3h-1.3zM388 476h1.3v1.3h-1.3zM535 562h1.3v1.3h-1.3zM445 495h1.3v1.3h-1.3zM385 424h1.3v1.3h-1.3zM487 541h1.3v1.3h-1.3zM543 433h1.3v1.3h-1.3zM549 367h1.3v1.3h-1.3zM417 452h1.3v1.3h-1.3zM452 409h1.3v1.3h-1.3zM373 565h1.3v1.3h-1.3zM438 584h1.3v1.3h-1.3zM484 415h1.3v1.3h-1.3zM549 498h1.3v1.3h-1.3zM375 393h1.3v1.3h-1.3zM556 613h1.3v1.3h-1.3zM434 502h1.3v1.3h-1.3zM488 484h1.3v1.3h-1.3zM371 501h1.3v1.3h-1.3zM416 493h1.3v1.3h-1.3zM476 512h1.3v1.3h-1.3zM418 574h1.3v1.3h-1.3zM509 514h1.3v1.3h-1.3zM521 489h1.3v1.3h-1.3zM460 616h1.3v1.3h-1.3zM469 653h1.3v1.3h-1.3zM542 512h1.3v1.3h-1.3zM464 477h1.3v1.3h-1.3zM422 445h1.3v1.3h-1.3zM526 571h1.3v1.3h-1.3zM525 425h1.3v1.3h-1.3zM522 638h1.3v1.3h-1.3zM386 372h1.3v1.3h-1.3zM523 518h1.3v1.3h-1.3zM502 618h1.3v1.3h-1.3zM405 390h1.3v1.3h-1.3zM396 593h1.3v1.3h-1.3zM444 392h1.3v1.3h-1.3zM445 508h1.3v1.3h-1.3zM489 460h1.3v1.3h-1.3zM534 664h1.3v1.3h-1.3zM401 569h1.3v1.3h-1.3zM383 480h1.3v1.3h-1.3zM440 595h1.3v1.3h-1.3zM389 420h1.3v1.3h-1.3zM446 570h1.3v1.3h-1.3zM406 503h1.3v1.3h-1.3zM393 487h1.3v1.3h-1.3zM362 624h1.3v1.3h-1.3zM394 465h1.3v1.3h-1.3zM504 610h1.3v1.3h-1.3zM414 566h1.3v1.3h-1.3zM552 385h1.3v1.3h-1.3zM502 374h1.3v1.3h-1.3zM486 416h1.3v1.3h-1.3zM520 374h1.3v1.3h-1.3zM445 600h1.3v1.3h-1.3zM536 501h1.3v1.3h-1.3zM395 655h1.3v1.3h-1.3zM510 432h1.3v1.3h-1.3zM509 376h1.3v1.3h-1.3zM425 425h1.3v1.3h-1.3zM537 540h1.3v1.3h-1.3zM389 501h1.3v1.3h-1.3zM446 412h1.3v1.3h-1.3zM504 548h1.3v1.3h-1.3zM541 616h1.3v1.3h-1.3zM524 368h1.3v1.3h-1.3zM432 539h1.3v1.3h-1.3zM387 460h1.3v1.3h-1.3zM438 543h1.3v1.3h-1.3zM461 428h1.3v1.3h-1.3zM408 652h1.3v1.3h-1.3zM505 660h1.3v1.3h-1.3zM543 463h1.3v1.3h-1.3zM539 632h1.3v1.3h-1.3zM429 477h1.3v1.3h-1.3zM514 394h1.3v1.3h-1.3zM550 400h1.3v1.3h-1.3zM490 412h1.3v1.3h-1.3zM435 657h1.3v1.3h-1.3zM547 530h1.3v1.3h-1.3zM478 501h1.3v1.3h-1.3zM369 476h1.3v1.3h-1.3zM382 629h1.3v1.3h-1.3zM512 543h1.3v1.3h-1.3zM393 494h1.3v1.3h-1.3zM527 441h1.3v1.3h-1.3zM477 581h1.3v1.3h-1.3zM523 664h1.3v1.3h-1.3zM463 518h1.3v1.3h-1.3zM456 409h1.3v1.3h-1.3zM385 360h1.3v1.3h-1.3zM520 488h1.3v1.3h-1.3zM408 623h1.3v1.3h-1.3zM530 421h1.3v1.3h-1.3zM502 533h1.3v1.3h-1.3zM402 425h1.3v1.3h-1.3zM546 458h1.3v1.3h-1.3zM488 416h1.3v1.3h-1.3zM537 574h1.3v1.3h-1.3zM546 460h1.3v1.3h-1.3zM450 381h1.3v1.3h-1.3zM506 373h1.3v1.3h-1.3zM417 489h1.3v1.3h-1.3zM549 435h1.3v1.3h-1.3zM407 635h1.3v1.3h-1.3zM430 360h1.3v1.3h-1.3zM369 628h1.3v1.3h-1.3zM369 647h1.3v1.3h-1.3zM371 365h1.3v1.3h-1.3zM533 503h1.3v1.3h-1.3zM425 361h1.3v1.3h-1.3zM508 437h1.3v1.3h-1.3zM435 457h1.3v1.3h-1.3zM421 418h1.3v1.3h-1.3zM395 566h1.3v1.3h-1.3zM377 428h1.3v1.3h-1.3zM453 502h1.3v1.3h-1.3zM498 421h1.3v1.3h-1.3zM510 532h1.3v1.3h-1.3zM428 518h1.3v1.3h-1.3zM485 497h1.3v1.3h-1.3zM510 381h1.3v1.3h-1.3zM390 394h1.3v1.3h-1.3zM416 397h1.3v1.3h-1.3zM524 619h1.3v1.3h-1.3zM489 382h1.3v1.3h-1.3zM544 509h1.3v1.3h-1.3zM393 608h1.3v1.3h-1.3zM542 420h1.3v1.3h-1.3zM414 603h1.3v1.3h-1.3zM427 542h1.3v1.3h-1.3zM438 396h1.3v1.3h-1.3zM400 535h1.3v1.3h-1.3zM521 403h1.3v1.3h-1.3zM527 662h1.3v1.3h-1.3zM364 518h1.3v1.3h-1.3zM546 363h1.3v1.3h-1.3zM528 669h1.3v1.3h-1.3zM429 428h1.3v1.3h-1.3zM521 396h1.3v1.3h-1.3zM491 480h1.3v1.3h-1.3zM419 506h1.3v1.3h-1.3zM370 370h1.3v1.3h-1.3zM412 424h1.3v1.3h-1.3zM405 607h1.3v1.3h-1.3zM455 531h1.3v1.3h-1.3zM422 670h1.3v1.3h-1.3zM421 368h1.3v1.3h-1.3zM404 422h1.3v1.3h-1.3zM492 460h1.3v1.3h-1.3zM385 654h1.3v1.3h-1.3zM524 467h1.3v1.3h-1.3zM511 553h1.3v1.3h-1.3zM473 501h1.3v1.3h-1.3zM442 578h1.3v1.3h-1.3zM391 364h1.3v1.3h-1.3zM488 595h1.3v1.3h-1.3zM424 479h1.3v1.3h-1.3zM457 423h1.3v1.3h-1.3zM517 449h1.3v1.3h-1.3zM484 667h1.3v1.3h-1.3zM479 617h1.3v1.3h-1.3zM559 483h1.3v1.3h-1.3zM494 432h1.3v1.3h-1.3zM522 441h1.3v1.3h-1.3zM389 460h1.3v1.3h-1.3zM481 572h1.3v1.3h-1.3zM381 621h1.3v1.3h-1.3zM550 656h1.3v1.3h-1.3zM515 517h1.3v1.3h-1.3zM525 568h1.3v1.3h-1.3zM419 461h1.3v1.3h-1.3zM409 634h1.3v1.3h-1.3zM425 531h1.3v1.3h-1.3zM403 668h1.3v1.3h-1.3zM541 577h1.3v1.3h-1.3zM426 453h1.3v1.3h-1.3zM514 397h1.3v1.3h-1.3zM470 438h1.3v1.3h-1.3zM454 510h1.3v1.3h-1.3zM548 454h1.3v1.3h-1.3zM372 585h1.3v1.3h-1.3zM365 536h1.3v1.3h-1.3zM422 602h1.3v1.3h-1.3zM410 374h1.3v1.3h-1.3zM538 547h1.3v1.3h-1.3zM511 374h1.3v1.3h-1.3zM492 444h1.3v1.3h-1.3zM543 670h1.3v1.3h-1.3zM432 635h1.3v1.3h-1.3zM435 393h1.3v1.3h-1.3zM525 478h1.3v1.3h-1.3zM506 598h1.3v1.3h-1.3zM473 382h1.3v1.3h-1.3zM491 373h1.3v1.3h-1.3zM482 459h1.3v1.3h-1.3zM413 640h1.3v1.3h-1.3zM472 515h1.3v1.3h-1.3zM422 506h1.3v1.3h-1.3zM491 469h1.3v1.3h-1.3zM370 414h1.3v1.3h-1.3zM531 471h1.3v1.3h-1.3zM474 407h1.3v1.3h-1.3zM388 410h1.3v1.3h-1.3zM497 435h1.3v1.3h-1.3zM481 641h1.3v1.3h-1.3zM394 589h1.3v1.3h-1.3zM551 577h1.3v1.3h-1.3zM545 382h1.3v1.3h-1.3zM522 466h1.3v1.3h-1.3zM447 565h1.3v1.3h-1.3zM540 500h1.3v1.3h-1.3zM417 655h1.3v1.3h-1.3zM556 376h1.3v1.3h-1.3zM458 626h1.3v1.3h-1.3zM546 513h1.3v1.3h-1.3zM449 645h1.3v1.3h-1.3zM526 369h1.3v1.3h-1.3zM443 628h1.3v1.3h-1.3zM518 465h1.3v1.3h-1.3zM454 479h1.3v1.3h-1.3zM469 655h1.3v1.3h-1.3zM389 427h1.3v1.3h-1.3zM549 400h1.3v1.3h-1.3zM375 612h1.3v1.3h-1.3zM370 377h1.3v1.3h-1.3zM475 611h1.3v1.3h-1.3zM535 597h1.3v1.3h-1.3zM454 630h1.3v1.3h-1.3zM558 606h1.3v1.3h-1.3zM500 654h1.3v1.3h-1.3zM484 418h1.3v1.3h-1.3zM467 631h1.3v1.3h-1.3zM530 570h1.3v1.3h-1.3zM392 400h1.3v1.3h-1.3zM382 374h1.3v1.3h-1.3zM448 512h1.3v1.3h-1.3zM508 439h1.3v1.3h-1.3zM457 668h1.3v1.3h-1.3zM518 422h1.3v1.3h-1.3zM402 501h1.3v1.3h-1.3zM365 438h1.3v1.3h-1.3zM488 424h1.3v1.3h-1.3zM455 441h1.3v1.3h-1.3zM548 370h1.3v1.3h-1.3zM467 533h1.3v1.3h-1.3zM366 645h1.3v1.3h-1.3zM469 531h1.3v1.3h-1.3zM488 664h1.3v1.3h-1.3zM489 361h1.3v1.3h-1.3zM498 385h1.3v1.3h-1.3zM366 441h1.3v1.3h-1.3zM453 595h1.3v1.3h-1.3zM431 639h1.3v1.3h-1.3zM394 545h1.3v1.3h-1.3zM422 657h1.3v1.3h-1.3zM511 476h1.3v1.3h-1.3zM535 504h1.3v1.3h-1.3zM513 564h1.3v1.3h-1.3zM538 605h1.3v1.3h-1.3zM392 500h1.3v1.3h-1.3zM376 392h1.3v1.3h-1.3zM552 496h1.3v1.3h-1.3zM541 492h1.3v1.3h-1.3zM433 613h1.3v1.3h-1.3zM460 377h1.3v1.3h-1.3zM428 408h1.3v1.3h-1.3zM439 571h1.3v1.3h-1.3zM492 525h1.3v1.3h-1.3zM406 634h1.3v1.3h-1.3zM454 439h1.3v1.3h-1.3zM533 498h1.3v1.3h-1.3zM531 461h1.3v1.3h-1.3zM380 611h1.3v1.3h-1.3zM517 633h1.3v1.3h-1.3zM394 561h1.3v1.3h-1.3zM507 454h1.3v1.3h-1.3zM363 436h1.3v1.3h-1.3zM545 402h1.3v1.3h-1.3zM554 654h1.3v1.3h-1.3zM409 423h1.3v1.3h-1.3zM507 491h1.3v1.3h-1.3zM424 532h1.3v1.3h-1.3zM453 596h1.3v1.3h-1.3zM472 493h1.3v1.3h-1.3z"/>
<path fill="#fff" d="M501.4 497.9a1.1 1.1 0 1 0 2.2 0a1.1 1.1 0 1 0 -2.2 0zM538.7 636.3a1.3 1.3 0 1 0 2.7 0a1.3 1.3 0 1 0 -2.7 0zM490.5 499.2a1.1 1.1 0 1 0 2.2 0a1.1 1.1 0 1 0 -2.2 0zM494.6 628.8a1.3 1.3 0 1 0 2.6 0a1.3 1.3 0 1 0 -2.6 0zM538.0 424.7a1.0 1.0 0 1 0 2.0 0a1.0 1.0 0 1 0 -2.0 0zM556.6 631.5a1.1 1.1 0 1 0 2.1 0a1.1 1.1 0 1 0 -2.1 0zM434.6 577.0a1.1 1.1 0 1 0 2.2 0a1.1 1.1 0 1 0 -2.2 0zM420.0 368.1a0.9 0.9 0 1 0 1.8 0a0.9 0.9 0 1 0 -1.8 0zM508.9 392.7a1.0 1.0 0 1 0 2.0 0a1.0 1.0 0 1 0 -2.0 0zM456.1 589.3a1.0 1.0 0 1 0 2.0 0a1.0 1.0 0 1 0 -2.0 0zM557.1 620.9a1.2 1.2 0 1 0 2.4 0a1.2 1.2 0 1 0 -2.4 0zM472.0 475.3a0.9 0.9 0 1 0 1.8 0a0.9 0.9 0 1 0 -1.8 0zM382.9 442.9a1.3 1.3 0 1 0 2.6 0a1.3 1.3 0 1 0 -2.6 0zM370.3 662.9a1.3 1.3 0 1 0 2.6 0a1.3 1.3 0 1 0 -2.6 0zM508.3 623.4a1.2 1.2 0 1 0 2.5 0a1.2 1.2 0 1 0 -2.5 0zM429.6 669.8a1.0 1.0 0 1 0 2.0 0a1.0 1.0 0 1 0 -2.0 0zM415.8 414.6a1.4 1.4 0 1 0 2.7 0a1.4 1.4 0 1 0 -2.7 0zM494.0 518.3a1.0 1.0 0 1 0 2.0 0a1.0 1.0 0 1 0 -2.0 0zM409.1 390.2a1.0 1.0 0 1 0 2.0 0a1.0 1.0 0 1 0 -2.0 0zM435.2 571.2a0.9 0.9 0 1 0 1.8 0a0.9 0.9 0 1 0 -1.8 0zM436.2 486.3a0.8 0.8 0 1 0 1.7 0a0.8 0.8 0 1 0 -1.7 0zM514.1 386.4a1.2 1.2 0 1 0 2.4 0a1.2 1.2 0 1 0 -2.4 0zM502.5 407.5a1.1 1.1 0 1 0 2.2 0a1.1 1.1 0 1 0 -2.2 0zM542.0 643.1a0.9 0.9 0 1 0 1.9 0a0.9 0.9 0 1 0 -1.9 0zM416.5 632.7a1.0 1.0 0 1 0 2.1 0a1.0 1.0 0 1 0 -2.1 0zM556.6 657.1a1.1 1.1 0 1 0 2.2 0a1.1 1.1 0 1 0 -2.2 0zM467.9 638.8a1.0 1.0 0 1 0 1.9 0a1.0 1.0 0 1 0 -1.9 0zM432.9 526.4a1.0 1.0 0 1 0 1.9 0a1.0 1.0 0 1 0 -1.9 0zM546.0 520.3a0.9 0.9 0 1 0 1.7 0a0.9 0.9 0 1 0 -1.7 0zM396.7 542.6a0.9 0.9 0 1 0 1.8 0a0.9 0.9 0 1 0 -1.8 0zM550.0 598.5a0.8 0.8 0 1 0 1.6 0a0.8 0.8 0 1 0 -1.6 0zM366.2 421.5a1.0 1.0 0 1 0 2.1 0a1.0 1.0 0 1 0 -2.1 0zM393.3 498.4a0.9 0.9 0 1 0 1.8 0a0.9 0.9 0 1 0 -1.8 0zM467.6 483.7a1.1 1.1 0 1 0 2.3 0a1.1 1.1 0 1 0 -2.3 0zM414.5 605.6a1.4 1.4 0 1 0 2.8 0a1.4 1.4 0 1 0 -2.8 0zM504.4 374.3a1.1 1.1 0 1 0 2.2 0a1.1 1.1 0 1 0 -2.2 0zM477.7 559.1a1.1 1.1 0 1 0 2.1 0a1.1 1.1 0 1 0 -2.1 0zM410.5 387.6a1.4 1.4 0 1 0 2.8 0a1.4 1.4 0 1 0 -2.8 0zM449.9 528.6a1.2 1.2 0 1 0 2.3 0a1.2 1.2 0 1 0 -2.3 0zM364.8 429.2a1.2 1.2 0 1 0 2.3 0a1.2 1.2 0 1 0 -2.3 0zM539.0 664.0a1.0 1.0 0 1 0 1.9 0a1.0 1.0 0 1 0 -1.9 0zM371.6 401.6a1.4 1.4 0 1 0 2.7 0a1.4 1.4 0 1 0 -2.7 0zM423.8 460.0a1.4 1.4 0 1 0 2.9 0a1.4 1.4 0 1 0 -2.9 0zM539.3 425.5a0.9 0.9 0 1 0 1.7 0a0.9 0.9 0 1 0 -1.7 0zM463.2 440.6a1.0 1.0 0 1 0 2.0 0a1.0 1.0 0 1 0 -2.0 0zM468.1 571.4a1.4 1.4 0 1 0 2.7 0a1.4 1.4 0 1 0 -2.7 0zM489.0 381.3a0.9 0.9 0 1 0 1.8 0a0.9 0.9 0 1 0 -1.8 0zM498.4 553.0a1.3 1.3 0 1 0 2.6 0a1.3 1.3 0 1 0 -2.6 0zM424.8 522.0a1.3 1.3 0 1 0 2.5 0a1.3 1.3 0 1 0 -2.5 0zM384.9 374.9a1.2 1.2 0 1 0 2.4 0a1.2 1.2 0 1 0 -2.4 0zM483.1 654.7a1.0 1.0 0 1 0 2.0 0a1.0 1.0 0 1 0 -2.0 0zM453.6 510.8a1.2 1.2 0 1 0 2.5 0a1.2 1.2 0 1 0 -2.5 0zM481.2 377.2a1.2 1.2 0 1 0 2.4 0a1.2 1.2 0 1 0 -2.4 0zM548.6 528.9a1.3 1.3 0 1 0 2.5 0a1.3 1.3 0 1 0 -2.5 0zM473.2 479.7a1.1 1.1 0 1 0 2.1 0a1.1 1.1 0 1 0 -2.1 0zM400.2 392.8a1.2 1.2 0 1 0 2.4 0a1.2 1.2 0 1 0 -2.4 0zM428.0 601.9a0.8 0.8 0 1 0 1.6 0a0.8 0.8 0 1 0 -1.6 0zM533.9 635.8a0.8 0.8 0 1 0 1.7 0a0.8 0.8 0 1 0 -1.7 0zM413.1 577.8a0.9 0.9 0 1 0 1.9 0a0.9 0.9 0 1 0 -1.9 0zM421.7 502.3a0.8 0.8 0 1 0 1.7 0a0.8 0.8 0 1 0 -1.7 0zM546.2 617.5a1.1 1.1 0 1 0 2.2 0a1.1 1.1 0 1 0 -2.2 0zM455.4 367.1a1.3 1.3 0 1 0 2.5 0a1.3 1.3 0 1 0 -2.5 0zM496.0 427.4a0.8 0.8 0 1 0 1.6 0a0.8 0.8 0 1 0 -1.6 0zM544.2 541.5a1.2 1.2 0 1 0 2.3 0a1.2 1.2 0 1 0 -2.3 0zM529.2 419.7a1.3 1.3 0 1 0 2.6 0a1.3 1.3 0 1 0 -2.6 0zM366.2 565.2a1.1 1.1 0 1 0 2.2 0a1.1 1.1 0 1 0 -2.2 0zM459.7 510.6a1.3 1.3 0 1 0 2.5 0a1.3 1.3 0 1 0 -2.5 0zM495.3 614.7a1.4 1.4 0 1 0 2.7 0a1.4 1.4 0 1 0 -2.7 0zM388.9 665.7a1.1 1.1 0 1 0 2.1 0a1.1 1.1 0 1 0 -2.1 0zM397.0 377.5a0.8 0.8 0 1 0 1.7 0a0.8 0.8 0 1 0 -1.7 0zM513.5 589.3a0.9 0.9 0 1 0 1.9 0a0.9 0.9 0 1 0 -1.9 0zM506.4 378.8a0.8 0.8 0 1 0 1.6 0a0.8 0.8 0 1 0 -1.6 0zM554.0 526.9a1.0 1.0 0 1 0 1.9 0a1.0 1.0 0 1 0 -1.9 0zM372.7 471.2a1.3 1.3 0 1 0 2.7 0a1.3 1.3 0 1 0 -2.7 0zM371.7 508.6a1.2 1.2 0 1 0 2.4 0a1.2 1.2 0 1 0 -2.4 0zM555.0 591.1a1.3 1.3 0 1 0 2.6 0a1.3 1.3 0 1 0 -2.6 0zM499.4 361.9a1.3 1.3 0 1 0 2.6 0a1.3 1.3 0 1 0 -2.6 0zM380.8 556.6a1.2 1.2 0 1 0 2.5 0a1.2 1.2 0 1 0 -2.5 0zM491.4 633.0a1.0 1.0 0 1 0 2.0 0a1.0 1.0 0 1 0 -2.0 0zM488.3 636.5a1.1 1.1 0 1 0 2.1 0a1.1 1.1 0 1 0 -2.1 0zM496.1 518.3a1.0 1.0 0 1 0 2.0 0a1.0 1.0 0 1 0 -2.0 0zM524.2 561.5a0.9 0.9 0 1 0 1.9 0a0.9 0.9 0 1 0 -1.9 0zM504.5 408.4a1.3 1.3 0 1 0 2.5 0a1.3 1.3 0 1 0 -2.5 0zM470.0 424.3a0.9 0.9 0 1 0 1.8 0a0.9 0.9 0 1 0 -1.8 0zM435.2 664.2a1.3 1.3 0 1 0 2.6 0a1.3 1.3 0 1 0 -2.6 0zM400.5 371.1a1.2 1.2 0 1 0 2.4 0a1.2 1.2 0 1 0 -2.4 0zM553.9 642.8a1.4 1.4 0 1 0 2.7 0a1.4 1.4 0 1 0 -2.7 0zM449.3 443.1a1.1 1.1 0 1 0 2.1 0a1.1 1.1 0 1 0 -2.1 0zM414.7 525.1a1.4 1.4 0 1 0 2.7 0a1.4 1.4 0 1 0 -2.7 0zM488.9 433.3a1.3 1.3 0 1 0 2.6 0a1.3 1.3 0 1 0 -2.6 0zM493.8 388.0a1.1 1.1 0 1 0 2.2 0a1.1 1.1 0 1 0 -2.2 0zM478.0 628.8a1.2 1.2 0 1 0 2.5 0a1.2 1.2 0 1 0 -2.5 0zM533.5 556.5a1.0 1.0 0 1 0 2.1 0a1.0 1.0 0 1 0 -2.1 0zM480.8 632.6a0.8 0.8 0 1 0 1.6 0a0.8 0.8 0 1 0 -1.6 0zM436.4 556.3a1.2 1.2 0 1 0 2.4 0a1.2 1.2 0 1 0 -2.4 0zM380.2 583.8a1.0 1.0 0 1 0 2.0 0a1.0 1.0 0 1 0 -2.0 0zM385.3 396.7a1.3 1.3 0 1 0 2.6 0a1.3 1.3 0 1 0 -2.6 0zM458.7 362.5a0.8 0.8 0 1 0 1.6 0a0.8 0.8 0 1 0 -1.6 0zM413.1 387.1a0.9 0.9 0 1 0 1.7 0a0.9 0.9 0 1 0 -1.7 0zM390.1 624.6a1.0 1.0 0 1 0 2.0 0a1.0 1.0 0 1 0 -2.0 0zM524.3 370.3a1.1 1.1 0 1 0 2.1 0a1.1 1.1 0 1 0 -2.1 0zM450.5 390.3a1.3 1.3 0 1 0 2.6 0a1.3 1.3 0 1 0 -2.6 0zM504.0 392.3a1.4 1.4 0 1 0 2.8 0a1.4 1.4 0 1 0 -2.8 0zM528.3 380.2a1.1 1.1 0 1 0 2.2 0a1.1 1.1 0 1 0 -2.2 0zM372.2 463.0a1.3 1.3 0 1 0 2.7 0a1.3 1.3 0 1 0 -2.7 0zM548.6 545.9a1.2 1.2 0 1 0 2.5 0a1.2 1.2 0 1 0 -2.5 0zM470.4 645.1a0.9 0.9 0 1 0 1.8 0a0.9 0.9 0 1 0 -1.8 0zM426.6 412.9a0.9 0.9 0 1 0 1.8 0a0.9 0.9 0 1 0 -1.8 0zM457.0 375.4a1.0 1.0 0 1 0 2.0 0a1.0 1.0 0 1 0 -2.0 0zM405.3 660.0a1.4 1.4 0 1 0 2.8 0a1.4 1.4 0 1 0 -2.8 0zM427.1 403.5a0.8 0.8 0 1 0 1.6 0a0.8 0.8 0 1 0 -1.6 0zM481.3 589.6a0.8 0.8 0 1 0 1.6 0a0.8 0.8 0 1 0 -1.6 0zM399.4 648.9a1.4 1.4 0 1 0 2.7 0a1.4 1.4 0 1 0 -2.7 0zM449.7 487.6a1.3 1.3 0 1 0 2.6 0a1.3 1.3 0 1 0 -2.6 0zM417.0 666.6a1.4 1.4 0 1 0 2.7 0a1.4 1.4 0 1 0 -2.7 0zM514.1 457.3a1.3 1.3 0 1 0 2.5 0a1.3 1.3 0 1 0 -2.5 0zM408.6 411.2a1.3 1.3 0 1 0 2.6 0a1.3 1.3 0 1 0 -2.6 0zM504.7 627.6a0.9 0.9 0 1 0 1.7 0a0.9 0.9 0 1 0 -1.7 0zM364.4 564.3a1.2 1.2 0 1 0 2.4 0a1.2 1.2 0 1 0 -2.4 0zM447.7 454.1a1.0 1.0 0 1 0 2.1 0a1.0 1.0 0 1 0 -2.1 0zM454.4 372.2a1.1 1.1 0 1 0 2.3 0a1.1 1.1 0 1 0 -2.3 0zM441.4 452.6a1.0 1.0 0 1 0 2.0 0a1.0 1.0 0 1 0 -2.0 0zM463.5 554.2a0.9 0.9 0 1 0 1.9 0a0.9 0.9 0 1 0 -1.9 0zM527.2 537.4a0.9 0.9 0 1 0 1.8 0a0.9 0.9 0 1 0 -1.8 0zM464.3 445.2a0.9 0.9 0 1 0 1.7 0a0.9 0.9 0 1 0 -1.7 0zM521.6 489.7a1.0 1.0 0 1 0 2.1 0a1.0 1.0 0 1 0 -2.1 0zM504.2 465.2a1.3 1.3 0 1 0 2.7 0a1.3 1.3 0 1 0 -2.7 0zM400.1 383.7a1.2 1.2 0 1 0 2.3 0a1.2 1.2 0 1 0 -2.3 0zM420.3 559.5a1.0 1.0 0 1 0 2.0 0a1.0 1.0 0 1 0 -2.0 0zM392.4 528.0a1.4 1.4 0 1 0 2.8 0a1.4 1.4 0 1 0 -2.8 0zM514.1 630.0a1.0 1.0 0 1 0 2.1 0a1.0 1.0 0 1 0 -2.1 0zM380.7 610.4a1.1 1.1 0 1 0 2.2 0a1.1 1.1 0 1 0 -2.2 0zM529.0 485.4a1.3 1.3 0 1 0 2.6 0a1.3 1.3 0 1 0 -2.6 0zM470.4 598.6a1.1 1.1 0 1 0 2.1 0a1.1 1.1 0 1 0 -2.1 0zM446.2 553.9a1.0 1.0 0 1 0 1.9 0a1.0 1.0 0 1 0 -1.9 0zM471.9 644.9a1.1 1.1 0 1 0 2.1 0a1.1 1.1 0 1 0 -2.1 0zM466.9 430.3a1.2 1.2 0 1 0 2.3 0a1.2 1.2 0 1 0 -2.3 0zM482.7 453.8a1.4 1.4 0 1 0 2.8 0a1.4 1.4 0 1 0 -2.8 0zM467.7 509.7a1.3 1.3 0 1 0 2.6 0a1.3 1.3 0 1 0 -2.6 0zM421.4 402.4a1.4 1.4 0 1 0 2.8 0a1.4 1.4 0 1 0 -2.8 0zM537.5 540.0a1.1 1.1 0 1 0 2.3 0a1.1 1.1 0 1 0 -2.3 0zM482.4 482.7a1.1 1.1 0 1 0 2.2 0a1.1 1.1 0 1 0 -2.2 0zM556.4 589.8a1.1 1.1 0 1 0 2.1 0a1.1 1.1 0 1 0 -2.1 0zM387.6 610.4a0.9 0.9 0 1 0 1.8 0a0.9 0.9 0 1 0 -1.8 0zM545.6 390.3a1.3 1.3 0 1 0 2.7 0a1.3 1.3 0 1 0 -2.7 0zM484.4 669.7a0.9 0.9 0 1 0 1.7 0a0.9 0.9 0 1 0 -1.7 0zM494.7 603.5a1.0 1.0 0 1 0 2.0 0a1.0 1.0 0 1 0 -2.0 0zM546.0 594.9a0.9 0.9 0 1 0 1.9 0a0.9 0.9 0 1 0 -1.9 0zM374.0 435.8a1.2 1.2 0 1 0 2.3 0a1.2 1.2 0 1 0 -2.3 0zM398.7 439.4a1.2 1.2 0 1 0 2.4 0a1.2 1.2 0 1 0 -2.4 0zM473.5 633.1a1.0 1.0 0 1 0 2.0 0a1.0 1.0 0 1 0 -2.0 0zM420.3 374.8a0.9 0.9 0 1 0 1.8 0a0.9 0.9 0 1 0 -1.8 0zM365.3 397.7a1.0 1.0 0 1 0 1.9 0a1.0 1.0 0 1 0 -1.9 0zM418.9 547.9a1.0 1.0 0 1 0 2.0 0a1.0 1.0 0 1 0 -2.0 0zM496.9 433.6a1.1 1.1 0 1 0 2.1 0a1.1 1.1 0 1 0 -2.1 0zM495.0 521.6a1.3 1.3 0 1 0 2.6 0a1.3 1.3 0 1 0 -2.6 0zM366.4 524.9a1.4 1.4 0 1 0 2.8 0a1.4 1.4 0 1 0 -2.8 0zM425.0 484.7a1.2 1.2 0 1 0 2.5 0a1.2 1.2 0 1 0 -2.5 0zM529.6 608.7a0.8 0.8 0 1 0 1.7 0a0.8 0.8 0 1 0 -1.7 0zM489.4 423.0a1.1 1.1 0 1 0 2.2 0a1.1 1.1 0 1 0 -2.2 0zM482.9 594.8a1.1 1.1 0 1 0 2.2 0a1.1 1.1 0 1 0 -2.2 0zM551.9 488.8a1.4 1.4 0 1 0 2.8 0a1.4 1.4 0 1 0 -2.8 0zM426.2 641.1a1.0 1.0 0 1 0 2.0 0a1.0 1.0 0 1 0 -2.0 0zM378.0 408.0a1.3 1.3 0 1 0 2.5 0a1.3 1.3 0 1 0 -2.5 0zM482.8 431.0a1.3 1.3 0 1 0 2.6 0a1.3 1.3 0 1 0 -2.6 0zM486.9 462.1a1.1 1.1 0 1 0 2.3 0a1.1 1.1 0 1 0 -2.3 0zM469.0 424.8a1.1 1.1 0 1 0 2.2 0a1.1 1.1 0 1 0 -2.2 0zM548.6 454.9a0.9 0.9 0 1 0 1.8 0a0.9 0.9 0 1 0 -1.8 0zM495.1 479.4a0.8 0.8 0 1 0 1.7 0a0.8 0.8 0 1 0 -1.7 0zM374.8 601.7a1.4 1.4 0 1 0 2.9 0a1.4 1.4 0 1 0 -2.9 0zM488.4 575.9a1.2 1.2 0 1 0 2.3 0a1.2 1.2 0 1 0 -2.3 0zM375.0 603.6a1.0 1.0 0 1 0 1.9 0a1.0 1.0 0 1 0 -1.9 0zM473.1 531.0a1.3 1.3 0 1 0 2.6 0a1.3 1.3 0 1 0 -2.6 0zM460.4 450.5a0.8 0.8 0 1 0 1.7 0a0.8 0.8 0 1 0 -1.7 0zM362.2 404.8a1.4 1.4 0 1 0 2.8 0a1.4 1.4 0 1 0 -2.8 0zM400.5 656.0a0.9 0.9 0 1 0 1.8 0a0.9 0.9 0 1 0 -1.8 0zM443.3 554.8a1.4 1.4 0 1 0 2.9 0a1.4 1.4 0 1 0 -2.9 0zM424.4 425.1a1.0 1.0 0 1 0 2.0 0a1.0 1.0 0 1 0 -2.0 0zM387.6 455.5a1.4 1.4 0 1 0 2.8 0a1.4 1.4 0 1 0 -2.8 0zM482.7 537.6a0.8 0.8 0 1 0 1.7 0a0.8 0.8 0 1 0 -1.7 0zM546.4 504.4a0.9 0.9 0 1 0 1.8 0a0.9 0.9 0 1 0 -1.8 0zM369.8 373.8a0.8 0.8 0 1 0 1.6 0a0.8 0.8 0 1 0 -1.6 0zM512.6 456.0a1.0 1.0 0 1 0 2.0 0a1.0 1.0 0 1 0 -2.0 0zM430.7 537.3a1.3 1.3 0 1 0 2.6 0a1.3 1.3 0 1 0 -2.6 0zM415.2 612.3a0.9 0.9 0 1 0 1.8 0a0.9 0.9 0 1 0 -1.8 0zM517.2 419.8a0.9 0.9 0 1 0 1.8 0a0.9 0.9 0 1 0 -1.8 0zM543.8 433.5a1.3 1.3 0 1 0 2.5 0a1.3 1.3 0 1 0 -2.5 0zM553.6 491.0a1.2 1.2 0 1 0 2.3 0a1.2 1.2 0 1 0 -2.3 0zM544.5 450.5a0.8 0.8 0 1 0 1.7 0a0.8 0.8 0 1 0 -1.7 0zM386.4 618.6a1.0 1.0 0 1 0 2.0 0a1.0 1.0 0 1 0 -2.0 0zM363.9 532.1a1.3 1.3 0 1 0 2.6 0a1.3 1.3 0 1 0 -2.6 0zM507.9 427.7a1.2 1.2 0 1 0 2.3 0a1.2 1.2 0 1 0 -2.3 0zM510.9 512.6a1.4 1.4 0 1 0 2.8 0a1.4 1.4 0 1 0 -2.8 0zM390.8 521.7a1.3 1.3 0 1 0 2.6 0a1.3 1.3 0 1 0 -2.6 0zM473.6 443.1a1.3 1.3 0 1 0 2.6 0a1.3 1.3 0 1 0 -2.6 0zM487.5 546.0a1.3 1.3 0 1 0 2.7 0a1.3 1.3 0 1 0 -2.7 0zM436.9 600.1a0.9 0.9 0 1 0 1.7 0a0.9 0.9 0 1 0 -1.7 0zM395.0 427.3a1.0 1.0 0 1 0 2.1 0a1.0 1.0 0 1 0 -2.1 0zM428.1 453.3a1.3 1.3 0 1 0 2.7 0a1.3 1.3 0 1 0 -2.7 0zM417.0 407.7a1.0 1.0 0 1 0 2.0 0a1.0 1.0 0 1 0 -2.0 0zM363.4 459.4a1.1 1.1 0 1 0 2.2 0a1.1 1.1 0 1 0 -2.2 0zM415.7 603.2a1.2 1.2 0 1 0 2.4 0a1.2 1.2 0 1 0 -2.4 0zM410.7 591.7a0.9 0.9 0 1 0 1.7 0a0.9 0.9 0 1 0 -1.7 0zM493.8 647.6a1.3 1.3 0 1 0 2.5 0a1.3 1.3 0 1 0 -2.5 0zM486.5 480.9a1.1 1.1 0 1 0 2.1 0a1.1 1.1 0 1 0 -2.1 0zM493.6 390.7a1.4 1.4 0 1 0 2.7 0a1.4 1.4 0 1 0 -2.7 0zM419.1 412.1a1.1 1.1 0 1 0 2.2 0a1.1 1.1 0 1 0 -2.2 0zM478.4 519.8a0.8 0.8 0 1 0 1.6 0a0.8 0.8 0 1 0 -1.6 0zM385.2 394.4a1.3 1.3 0 1 0 2.6 0a1.3 1.3 0 1 0 -2.6 0zM511.1 578.2a1.3 1.3 0 1 0 2.5 0a1.3 1.3 0 1 0 -2.5 0zM545.2 453.8a1.4 1.4 0 1 0 2.8 0a1.4 1.4 0 1 0 -2.8 0zM511.2 508.1a1.3 1.3 0 1 0 2.7 0a1.3 1.3 0 1 0 -2.7 0zM504.7 488.3a1.2 1.2 0 1 0 2.3 0a1.2 1.2 0 1 0 -2.3 0zM473.4 476.1a1.3 1.3 0 1 0 2.6 0a1.3 1.3 0 1 0 -2.6 0zM511.1 620.9a0.9 0.9 0 1 0 1.9 0a0.9 0.9 0 1 0 -1.9 0zM452.3 372.2a1.4 1.4 0 1 0 2.8 0a1.4 1.4 0 1 0 -2.8 0zM412.0 633.0a1.3 1.3 0 1 0 2.6 0a1.3 1.3 0 1 0 -2.6 0zM514.0 388.5a1.1 1.1 0 1 0 2.2 0a1.1 1.1 0 1 0 -2.2 0zM463.2 398.6a0.8 0.8 0 1 0 1.7 0a0.8 0.8 0 1 0 -1.7 0zM542.7 420.8a1.1 1.1 0 1 0 2.1 0a1.1 1.1 0 1 0 -2.1 0zM476.6 627.3a1.0 1.0 0 1 0 2.1 0a1.0 1.0 0 1 0 -2.1 0zM466.1 664.3a1.2 1.2 0 1 0 2.5 0a1.2 1.2 0 1 0 -2.5 0zM369.1 409.6a1.4 1.4 0 1 0 2.9 0a1.4 1.4 0 1 0 -2.9 0zM405.2 529.9a1.0 1.0 0 1 0 2.0 0a1.0 1.0 0 1 0 -2.0 0zM502.0 544.8a1.4 1.4 0 1 0 2.8 0a1.4 1.4 0 1 0 -2.8 0zM447.5 420.7a1.2 1.2 0 1 0 2.5 0a1.2 1.2 0 1 0 -2.5 0zM543.0 585.8a0.9 0.9 0 1 0 1.8 0a0.9 0.9 0 1 0 -1.8 0zM482.0 503.0a1.2 1.2 0 1 0 2.5 0a1.2 1.2 0 1 0 -2.5 0zM413.4 435.6a1.2 1.2 0 1 0 2.3 0a1.2 1.2 0 1 0 -2.3 0zM409.9 435.8a1.0 1.0 0 1 0 2.0 0a1.0 1.0 0 1 0 -2.0 0zM419.1 554.4a0.9 0.9 0 1 0 1.8 0a0.9 0.9 0 1 0 -1.8 0zM404.5 370.9a0.9 0.9 0 1 0 1.8 0a0.9 0.9 0 1 0 -1.8 0zM465.5 613.1a1.4 1.4 0 1 0 2.7 0a1.4 1.4 0 1 0 -2.7 0zM378.4 609.5a1.1 1.1 0 1 0 2.2 0a1.1 1.1 0 1 0 -2.2 0zM474.9 529.9a1.2 1.2 0 1 0 2.3 0a1.2 1.2 0 1 0 -2.3 0zM445.5 368.0a1.3 1.3 0 1 0 2.6 0a1.3 1.3 0 1 0 -2.6 0zM533.8 576.6a0.9 0.9 0 1 0 1.9 0a0.9 0.9 0 1 0 -1.9 0zM536.1 477.0a1.0 1.0 0 1 0 1.9 0a1.0 1.0 0 1 0 -1.9 0zM419.8 381.2a1.3 1.3 0 1 0 2.6 0a1.3 1.3 0 1 0 -2.6 0zM399.3 457.1a1.0 1.0 0 1 0 2.0 0a1.0 1.0 0 1 0 -2.0 0zM444.6 482.7a0.9 0.9 0 1 0 1.8 0a0.9 0.9 0 1 0 -1.8 0zM460.6 398.1a1.3 1.3 0 1 0 2.7 0a1.3 1.3 0 1 0 -2.7 0zM500.9 654.7a1.0 1.0 0 1 0 2.0 0a1.0 1.0 0 1 0 -2.0 0zM551.8 492.5a0.9 0.9 0 1 0 1.8 0a0.9 0.9 0 1 0 -1.8 0zM536.7 611.9a1.2 1.2 0 1 0 2.4 0a1.2 1.2 0 1 0 -2.4 0zM439.6 545.8a1.0 1.0 0 1 0 1.9 0a1.0 1.0 0 1 0 -1.9 0zM469.4 478.7a0.9 0.9 0 1 0 1.8 0a0.9 0.9 0 1 0 -1.8 0zM475.6 519.4a1.0 1.0 0 1 0 1.9 0a1.0 1.0 0 1 0 -1.9 0zM533.6 517.4a1.2 1.2 0 1 0 2.4 0a1.2 1.2 0 1 0 -2.4 0zM382.6 477.8a1.0 1.0 0 1 0 2.0 0a1.0 1.0 0 1 0 -2.0 0zM521.5 395.1a0.9 0.9 0 1 0 1.7 0a0.9 0.9 0 1 0 -1.7 0zM413.2 620.1a1.1 1.1 0 1 0 2.2 0a1.1 1.1 0 1 0 -2.2 0zM383.0 516.4a1.0 1.0 0 1 0 2.0 0a1.0 1.0 0 1 0 -2.0 0zM553.6 517.0a0.9 0.9 0 1 0 1.8 0a0.9 0.9 0 1 0 -1.8 0zM429.7 500.1a1.1 1.1 0 1 0 2.3 0a1.1 1.1 0 1 0 -2.3 0zM508.1 490.5a1.0 1.0 0 1 0 2.1 0a1.0 1.0 0 1 0 -2.1 0zM432.8 645.2a1.2 1.2 0 1 0 2.4 0a1.2 1.2 0 1 0 -2.4 0zM418.5 647.2a1.3 1.3 0 1 0 2.6 0a1.3 1.3 0 1 0 -2.6 0zM468.1 589.8a1.1 1.1 0 1 0 2.2 0a1.1 1.1 0 1 0 -2.2 0zM407.2 374.7a1.4 1.4 0 1 0 2.7 0a1.4 1.4 0 1 0 -2.7 0zM409.9 479.7a0.8 0.8 0 1 0 1.7 0a0.8 0.8 0 1 0 -1.7 0zM371.7 573.7a1.3 1.3 0 1 0 2.6 0a1.3 1.3 0 1 0 -2.6 0zM501.8 531.6a0.9 0.9 0 1 0 1.7 0a0.9 0.9 0 1 0 -1.7 0zM542.2 612.5a0.9 0.9 0 1 0 1.7 0a0.9 0.9 0 1 0 -1.7 0zM362.8 448.8a1.2 1.2 0 1 0 2.4 0a1.2 1.2 0 1 0 -2.4 0zM418.0 627.6a1.3 1.3 0 1 0 2.7 0a1.3 1.3 0 1 0 -2.7 0zM532.0 454.9a1.0 1.0 0 1 0 1.9 0a1.0 1.0 0 1 0 -1.9 0zM479.3 503.9a1.1 1.1 0 1 0 2.3 0a1.1 1.1 0 1 0 -2.3 0zM386.8 439.9a1.3 1.3 0 1 0 2.6 0a1.3 1.3 0 1 0 -2.6 0zM409.1 588.8a0.9 0.9 0 1 0 1.8 0a0.9 0.9 0 1 0 -1.8 0zM402.5 408.1a1.1 1.1 0 1 0 2.1 0a1.1 1.1 0 1 0 -2.1 0zM368.4 607.9a1.2 1.2 0 1 0 2.4 0a1.2 1.2 0 1 0 -2.4 0zM386.8 575.3a1.3 1.3 0 1 0 2.6 0a1.3 1.3 0 1 0 -2.6 0zM386.7 419.6a1.2 1.2 0 1 0 2.3 0a1.2 1.2 0 1 0 -2.3 0zM460.5 596.3a0.9 0.9 0 1 0 1.8 0a0.9 0.9 0 1 0 -1.8 0zM511.8 383.5a1.3 1.3 0 1 0 2.7 0a1.3 1.3 0 1 0 -2.7 0zM463.1 493.9a1.3 1.3 0 1 0 2.7 0a1.3 1.3 0 1 0 -2.7 0zM490.0 613.5a1.3 1.3 0 1 0 2.5 0a1.3 1.3 0 1 0 -2.5 0zM534.4 440.3a1.3 1.3 0 1 0 2.6 0a1.3 1.3 0 1 0 -2.6 0zM514.5 548.8a1.1 1.1 0 1 0 2.2 0a1.1 1.1 0 1 0 -2.2 0zM381.3 513.3a1.2 1.2 0 1 0 2.4 0a1.2 1.2 0 1 0 -2.4 0zM366.8 360.3a1.4 1.4 0 1 0 2.9 0a1.4 1.4 0 1 0 -2.9 0zM543.3 491.6a1.4 1.4 0 1 0 2.9 0a1.4 1.4 0 1 0 -2.9 0zM413.0 669.7a0.9 0.9 0 1 0 1.8 0a0.9 0.9 0 1 0 -1.8 0zM530.5 376.3a1.2 1.2 0 1 0 2.4 0a1.2 1.2 0 1 0 -2.4 0zM395.7 413.5a1.4 1.4 0 1 0 2.7 0a1.4 1.4 0 1 0 -2.7 0zM534.0 365.6a0.8 0.8 0 1 0 1.7 0a0.8 0.8 0 1 0 -1.7 0zM447.9 525.3a1.2 1.2 0 1 0 2.3 0a1.2 1.2 0 1 0 -2.3 0zM367.8 442.9a0.9 0.9 0 1 0 1.8 0a0.9 0.9 0 1 0 -1.8 0zM555.3 374.7a0.9 0.9 0 1 0 1.8 0a0.9 0.9 0 1 0 -1.8 0zM384.8 389.1a1.0 1.0 0 1 0 2.1 0a1.0 1.0 0 1 0 -2.1 0zM366.5 384.5a1.2 1.2 0 1 0 2.3 0a1.2 1.2 0 1 0 -2.3 0zM518.3 568.8a1.2 1.2 0 1 0 2.3 0a1.2 1.2 0 1 0 -2.3 0zM425.6 398.8a1.1 1.1 0 1 0 2.3 0a1.1 1.1 0 1 0 -2.3 0zM367.8 658.0a1.4 1.4 0 1 0 2.8 0a1.4 1.4 0 1 0 -2.8 0zM364.2 516.3a1.1 1.1 0 1 0 2.3 0a1.1 1.1 0 1 0 -2.3 0zM441.3 455.1a1.3 1.3 0 1 0 2.6 0a1.3 1.3 0 1 0 -2.6 0zM382.6 641.2a1.0 1.0 0 1 0 2.0 0a1.0 1.0 0 1 0 -2.0 0zM430.5 603.6a1.3 1.3 0 1 0 2.6 0a1.3 1.3 0 1 0 -2.6 0zM495.9 467.9a1.3 1.3 0 1 0 2.6 0a1.3 1.3 0 1 0 -2.6 0zM547.6 542.2a1.2 1.2 0 1 0 2.5 0a1.2 1.2 0 1 0 -2.5 0zM419.1 555.9a1.3 1.3 0 1 0 2.6 0a1.3 1.3 0 1 0 -2.6 0zM474.3 651.3a1.2 1.2 0 1 0 2.3 0a1.2 1.2 0 1 0 -2.3 0zM499.2 659.9a1.4 1.4 0 1 0 2.7 0a1.4 1.4 0 1 0 -2.7 0zM516.9 587.5a1.3 1.3 0 1 0 2.7 0a1.3 1.3 0 1 0 -2.7 0zM458.6 408.9a0.9 0.9 0 1 0 1.7 0a0.9 0.9 0 1 0 -1.7 0zM516.5 545.2a1.1 1.1 0 1 0 2.2 0a1.1 1.1 0 1 0 -2.2 0zM452.3 385.2a0.9 0.9 0 1 0 1.8 0a0.9 0.9 0 1 0 -1.8 0zM506.8 494.0a1.4 1.4 0 1 0 2.8 0a1.4 1.4 0 1 0 -2.8 0zM485.9 595.9a1.1 1.1 0 1 0 2.2 0a1.1 1.1 0 1 0 -2.2 0zM452.8 615.2a0.9 0.9 0 1 0 1.9 0a0.9 0.9 0 1 0 -1.9 0zM531.7 472.2a1.3 1.3 0 1 0 2.7 0a1.3 1.3 0 1 0 -2.7 0zM423.2 448.1a0.9 0.9 0 1 0 1.7 0a0.9 0.9 0 1 0 -1.7 0zM432.3 585.2a0.9 0.9 0 1 0 1.8 0a0.9 0.9 0 1 0 -1.8 0zM456.1 643.0a1.2 1.2 0 1 0 2.5 0a1.2 1.2 0 1 0 -2.5 0zM373.8 617.5a1.1 1.1 0 1 0 2.3 0a1.1 1.1 0 1 0 -2.3 0zM477.6 573.7a1.0 1.0 0 1 0 1.9 0a1.0 1.0 0 1 0 -1.9 0zM366.6 474.2a1.2 1.2 0 1 0 2.3 0a1.2 1.2 0 1 0 -2.3 0zM531.3 459.2a0.9 0.9 0 1 0 1.9 0a0.9 0.9 0 1 0 -1.9 0zM430.1 593.3a1.0 1.0 0 1 0 2.0 0a1.0 1.0 0 1 0 -2.0 0zM535.4 564.6a1.2 1.2 0 1 0 2.4 0a1.2 1.2 0 1 0 -2.4 0zM390.8 364.9a1.4 1.4 0 1 0 2.7 0a1.4 1.4 0 1 0 -2.7 0zM501.7 518.0a1.3 1.3 0 1 0 2.5 0a1.3 1.3 0 1 0 -2.5 0zM476.2 664.1a1.2 1.2 0 1 0 2.4 0a1.2 1.2 0 1 0 -2.4 0zM472.5 451.3a1.3 1.3 0 1 0 2.6 0a1.3 1.3 0 1 0 -2.6 0zM539.1 659.4a1.0 1.0 0 1 0 2.1 0a1.0 1.0 0 1 0 -2.1 0zM378.5 611.7a1.4 1.4 0 1 0 2.9 0a1.4 1.4 0 1 0 -2.9 0zM541.1 531.6a1.2 1.2 0 1 0 2.4 0a1.2 1.2 0 1 0 -2.4 0zM416.8 410.1a1.0 1.0 0 1 0 1.9 0a1.0 1.0 0 1 0 -1.9 0zM411.8 512.1a0.8 0.8 0 1 0 1.6 0a0.8 0.8 0 1 0 -1.6 0zM495.9 656.5a0.9 0.9 0 1 0 1.7 0a0.9 0.9 0 1 0 -1.7 0zM442.8 360.1a0.9 0.9 0 1 0 1.9 0a0.9 0.9 0 1 0 -1.9 0zM387.9 469.3a1.3 1.3 0 1 0 2.6 0a1.3 1.3 0 1 0 -2.6 0zM470.7 468.0a1.3 1.3 0 1 0 2.7 0a1.3 1.3 0 1 0 -2.7 0zM532.8 611.1a1.4 1.4 0 1 0 2.8 0a1.4 1.4 0 1 0 -2.8 0zM363.5 375.0a1.2 1.2 0 1 0 2.4 0a1.2 1.2 0 1 0 -2.4 0zM440.6 437.1a1.0 1.0 0 1 0 2.0 0a1.0 1.0 0 1 0 -2.0 0zM396.7 642.3a1.3 1.3 0 1 0 2.7 0a1.3 1.3 0 1 0 -2.7 0zM500.0 597.1a1.4 1.4 0 1 0 2.8 0a1.4 1.4 0 1 0 -2.8 0zM515.5 447.5a1.3 1.3 0 1 0 2.5 0a1.3 1.3 0 1 0 -2.5 0zM389.8 602.5a0.8 0.8 0 1 0 1.7 0a0.8 0.8 0 1 0 -1.7 0zM526.9 647.1a1.1 1.1 0 1 0 2.1 0a1.1 1.1 0 1 0 -2.1 0zM423.1 662.7a1.0 1.0 0 1 0 1.9 0a1.0 1.0 0 1 0 -1.9 0zM508.1 665.0a1.4 1.4 0 1 0 2.8 0a1.4 1.4 0 1 0 -2.8 0zM386.8 527.5a1.3 1.3 0 1 0 2.7 0a1.3 1.3 0 1 0 -2.7 0zM454.7 394.1a0.8 0.8 0 1 0 1.7 0a0.8 0.8 0 1 0 -1.7 0zM488.7 522.4a1.2 1.2 0 1 0 2.4 0a1.2 1.2 0 1 0 -2.4 0zM458.3 410.3a1.4 1.4 0 1 0 2.9 0a1.4 1.4 0 1 0 -2.9 0zM496.5 528.3a1.1 1.1 0 1 0 2.3 0a1.1 1.1 0 1 0 -2.3 0zM513.1 383.9a1.4 1.4 0 1 0 2.8 0a1.4 1.4 0 1 0 -2.8 0zM543.1 578.9a1.3 1.3 0 1 0 2.7 0a1.3 1.3 0 1 0 -2.7 0zM488.7 379.2a1.1 1.1 0 1 0 2.2 0a1.1 1.1 0 1 0 -2.2 0zM396.3 447.1a1.1 1.1 0 1 0 2.2 0a1.1 1.1 0 1 0 -2.2 0zM512.2 626.6a0.9 0.9 0 1 0 1.8 0a0.9 0.9 0 1 0 -1.8 0zM444.8 392.6a1.0 1.0 0 1 0 2.1 0a1.0 1.0 0 1 0 -2.1 0zM498.6 424.4a0.9 0.9 0 1 0 1.8 0a0.9 0.9 0 1 0 -1.8 0zM496.3 473.8a1.3 1.3 0 1 0 2.7 0a1.3 1.3 0 1 0 -2.7 0zM535.2 467.7a1.2 1.2 0 1 0 2.4 0a1.2 1.2 0 1 0 -2.4 0zM476.7 612.8a1.4 1.4 0 1 0 2.8 0a1.4 1.4 0 1 0 -2.8 0zM406.8 384.2a1.1 1.1 0 1 0 2.1 0a1.1 1.1 0 1 0 -2.1 0zM441.1 491.5a1.3 1.3 0 1 0 2.5 0a1.3 1.3 0 1 0 -2.5 0zM482.9 612.4a1.3 1.3 0 1 0 2.7 0a1.3 1.3 0 1 0 -2.7 0zM473.7 605.3a0.8 0.8 0 1 0 1.6 0a0.8 0.8 0 1 0 -1.6 0zM399.8 644.3a1.0 1.0 0 1 0 2.0 0a1.0 1.0 0 1 0 -2.0 0zM522.9 368.2a1.1 1.1 0 1 0 2.2 0a1.1 1.1 0 1 0 -2.2 0zM474.8 668.6a1.4 1.4 0 1 0 2.8 0a1.4 1.4 0 1 0 -2.8 0zM474.3 485.6a1.4 1.4 0 1 0 2.7 0a1.4 1.4 0 1 0 -2.7 0zM402.2 641.4a0.9 0.9 0 1 0 1.7 0a0.9 0.9 0 1 0 -1.7 0zM457.6 667.8a1.4 1.4 0 1 0 2.8 0a1.4 1.4 0 1 0 -2.8 0zM414.3 495.8a1.2 1.2 0 1 0 2.4 0a1.2 1.2 0 1 0 -2.4 0zM427.7 520.1a0.8 0.8 0 1 0 1.7 0a0.8 0.8 0 1 0 -1.7 0zM428.6 505.6a1.2 1.2 0 1 0 2.5 0a1.2 1.2 0 1 0 -2.5 0zM480.0 670.5a1.4 1.4 0 1 0 2.7 0a1.4 1.4 0 1 0 -2.7 0zM434.9 515.6a1.0 1.0 0 1 0 1.9 0a1.0 1.0 0 1 0 -1.9 0zM537.8 568.3a1.0 1.0 0 1 0 2.0 0a1.0 1.0 0 1 0 -2.0 0zM508.7 493.4a1.0 1.0 0 1 0 2.0 0a1.0 1.0 0 1 0 -2.0 0zM553.4 584.5a1.3 1.3 0 1 0 2.5 0a1.3 1.3 0 1 0 -2.5 0zM481.2 577.5a1.3 1.3 0 1 0 2.5 0a1.3 1.3 0 1 0 -2.5 0zM445.8 586.2a1.3 1.3 0 1 0 2.6 0a1.3 1.3 0 1 0 -2.6 0zM438.4 538.4a1.4 1.4 0 1 0 2.8 0a1.4 1.4 0 1 0 -2.8 0zM369.3 505.1a0.9 0.9 0 1 0 1.8 0a0.9 0.9 0 1 0 -1.8 0zM499.3 458.1a1.3 1.3 0 1 0 2.5 0a1.3 1.3 0 1 0 -2.5 0zM423.5 528.9a1.2 1.2 0 1 0 2.4 0a1.2 1.2 0 1 0 -2.4 0zM366.5 530.3a1.0 1.0 0 1 0 1.9 0a1.0 1.0 0 1 0 -1.9 0zM539.9 549.5a1.4 1.4 0 1 0 2.9 0a1.4 1.4 0 1 0 -2.9 0zM408.1 377.1a1.1 1.1 0 1 0 2.2 0a1.1 1.1 0 1 0 -2.2 0zM379.8 391.4a1.4 1.4 0 1 0 2.8 0a1.4 1.4 0 1 0 -2.8 0zM505.8 589.9a1.4 1.4 0 1 0 2.9 0a1.4 1.4 0 1 0 -2.9 0zM512.4 591.5a1.4 1.4 0 1 0 2.8 0a1.4 1.4 0 1 0 -2.8 0zM512.6 399.4a1.1 1.1 0 1 0 2.2 0a1.1 1.1 0 1 0 -2.2 0zM482.4 597.9a1.0 1.0 0 1 0 2.0 0a1.0 1.0 0 1 0 -2.0 0zM366.9 655.4a1.2 1.2 0 1 0 2.4 0a1.2 1.2 0 1 0 -2.4 0zM466.3 655.1a1.1 1.1 0 1 0 2.2 0a1.1 1.1 0 1 0 -2.2 0zM549.6 534.6a1.1 1.1 0 1 0 2.2 0a1.1 1.1 0 1 0 -2.2 0zM451.0 405.1a1.0 1.0 0 1 0 1.9 0a1.0 1.0 0 1 0 -1.9 0zM419.6 602.6a1.3 1.3 0 1 0 2.7 0a1.3 1.3 0 1 0 -2.7 0zM470.6 520.6a1.3 1.3 0 1 0 2.5 0a1.3 1.3 0 1 0 -2.5 0zM485.2 641.4a1.4 1.4 0 1 0 2.7 0a1.4 1.4 0 1 0 -2.7 0zM420.0 527.6a1.1 1.1 0 1 0 2.3 0a1.1 1.1 0 1 0 -2.3 0zM513.6 425.7a0.9 0.9 0 1 0 1.7 0a0.9 0.9 0 1 0 -1.7 0zM526.1 396.6a1.4 1.4 0 1 0 2.7 0a1.4 1.4 0 1 0 -2.7 0zM366.9 367.4a0.8 0.8 0 1 0 1.7 0a0.8 0.8 0 1 0 -1.7 0zM381.7 637.6a0.9 0.9 0 1 0 1.8 0a0.9 0.9 0 1 0 -1.8 0zM459.4 646.8a1.4 1.4 0 1 0 2.8 0a1.4 1.4 0 1 0 -2.8 0zM373.4 389.3a1.2 1.2 0 1 0 2.3 0a1.2 1.2 0 1 0 -2.3 0zM400.0 572.0a1.2 1.2 0 1 0 2.5 0a1.2 1.2 0 1 0 -2.5 0zM532.2 451.8a1.3 1.3 0 1 0 2.7 0a1.3 1.3 0 1 0 -2.7 0zM556.9 631.8a1.2 1.2 0 1 0 2.5 0a1.2 1.2 0 1 0 -2.5 0zM526.5 660.5a1.1 1.1 0 1 0 2.2 0a1.1 1.1 0 1 0 -2.2 0zM394.0 500.1a1.2 1.2 0 1 0 2.3 0a1.2 1.2 0 1 0 -2.3 0zM519.0 479.5a1.1 1.1 0 1 0 2.1 0a1.1 1.1 0 1 0 -2.1 0zM475.5 640.1a1.2 1.2 0 1 0 2.4 0a1.2 1.2 0 1 0 -2.4 0zM556.6 447.4a0.8 0.8 0 1 0 1.6 0a0.8 0.8 0 1 0 -1.6 0zM417.1 637.7a1.1 1.1 0 1 0 2.3 0a1.1 1.1 0 1 0 -2.3 0zM538.3 657.3a0.8 0.8 0 1 0 1.6 0a0.8 0.8 0 1 0 -1.6 0zM365.3 428.9a0.9 0.9 0 1 0 1.7 0a0.9 0.9 0 1 0 -1.7 0zM405.0 483.3a1.4 1.4 0 1 0 2.7 0a1.4 1.4 0 1 0 -2.7 0zM538.5 596.2a1.2 1.2 0 1 0 2.5 0a1.2 1.2 0 1 0 -2.5 0zM461.7 435.6a0.9 0.9 0 1 0 1.8 0a0.9 0.9 0 1 0 -1.8 0zM402.4 575.1a1.3 1.3 0 1 0 2.6 0a1.3 1.3 0 1 0 -2.6 0zM498.7 493.1a1.1 1.1 0 1 0 2.2 0a1.1 1.1 0 1 0 -2.2 0zM424.3 661.3a0.9 0.9 0 1 0 1.8 0a0.9 0.9 0 1 0 -1.8 0zM476.7 627.2a1.4 1.4 0 1 0 2.8 0a1.4 1.4 0 1 0 -2.8 0zM443.3 654.2a0.9 0.9 0 1 0 1.7 0a0.9 0.9 0 1 0 -1.7 0zM377.9 540.8a0.8 0.8 0 1 0 1.6 0a0.8 0.8 0 1 0 -1.6 0zM374.5 594.7a1.0 1.0 0 1 0 1.9 0a1.0 1.0 0 1 0 -1.9 0zM540.6 439.4a0.9 0.9 0 1 0 1.7 0a0.9 0.9 0 1 0 -1.7 0zM531.9 580.1a0.8 0.8 0 1 0 1.6 0a0.8 0.8 0 1 0 -1.6 0zM451.3 397.4a1.2 1.2 0 1 0 2.4 0a1.2 1.2 0 1 0 -2.4 0zM409.1 451.0a0.9 0.9 0 1 0 1.8 0a0.9 0.9 0 1 0 -1.8 0zM387.9 569.6a1.2 1.2 0 1 0 2.3 0a1.2 1.2 0 1 0 -2.3 0zM549.2 631.2a1.0 1.0 0 1 0 1.9 0a1.0 1.0 0 1 0 -1.9 0zM467.2 416.6a1.4 1.4 0 1 0 2.8 0a1.4 1.4 0 1 0 -2.8 0zM363.6 443.5a0.9 0.9 0 1 0 1.9 0a0.9 0.9 0 1 0 -1.9 0zM484.1 389.2a1.1 1.1 0 1 0 2.3 0a1.1 1.1 0 1 0 -2.3 0zM509.8 365.0a1.3 1.3 0 1 0 2.6 0a1.3 1.3 0 1 0 -2.6 0zM421.4 445.5a1.0 1.0 0 1 0 2.0 0a1.0 1.0 0 1 0 -2.0 0zM553.1 500.2a1.3 1.3 0 1 0 2.7 0a1.3 1.3 0 1 0 -2.7 0zM373.5 374.1a1.0 1.0 0 1 0 2.0 0a1.0 1.0 0 1 0 -2.0 0zM383.8 404.9a1.1 1.1 0 1 0 2.1 0a1.1 1.1 0 1 0 -2.1 0zM479.9 572.7a1.1 1.1 0 1 0 2.2 0a1.1 1.1 0 1 0 -2.2 0zM452.3 628.4a1.1 1.1 0 1 0 2.1 0a1.1 1.1 0 1 0 -2.1 0zM434.0 372.7a1.2 1.2 0 1 0 2.4 0a1.2 1.2 0 1 0 -2.4 0zM498.1 597.0a0.9 0.9 0 1 0 1.9 0a0.9 0.9 0 1 0 -1.9 0zM543.5 455.6a1.0 1.0 0 1 0 2.0 0a1.0 1.0 0 1 0 -2.0 0zM530.2 488.7a0.9 0.9 0 1 0 1.9 0a0.9 0.9 0 1 0 -1.9 0zM504.0 657.6a1.0 1.0 0 1 0 2.0 0a1.0 1.0 0 1 0 -2.0 0zM418.2 470.6a1.3 1.3 0 1 0 2.6 0a1.3 1.3 0 1 0 -2.6 0zM421.1 421.3a1.2 1.2 0 1 0 2.4 0a1.2 1.2 0 1 0 -2.4 0zM396.4 618.5a1.4 1.4 0 1 0 2.9 0a1.4 1.4 0 1 0 -2.9 0zM532.7 427.7a1.4 1.4 0 1 0 2.8 0a1.4 1.4 0 1 0 -2.8 0zM494.3 553.9a0.9 0.9 0 1 0 1.9 0a0.9 0.9 0 1 0 -1.9 0zM474.6 548.3a0.9 0.9 0 1 0 1.9 0a0.9 0.9 0 1 0 -1.9 0zM375.3 409.8a1.4 1.4 0 1 0 2.8 0a1.4 1.4 0 1 0 -2.8 0zM527.9 606.5a0.9 0.9 0 1 0 1.8 0a0.9 0.9 0 1 0 -1.8 0zM390.0 559.9a1.3 1.3 0 1 0 2.6 0a1.3 1.3 0 1 0 -2.6 0zM461.6 389.6a0.9 0.9 0 1 0 1.8 0a0.9 0.9 0 1 0 -1.8 0zM544.9 590.0a0.9 0.9 0 1 0 1.8 0a0.9 0.9 0 1 0 -1.8 0zM431.8 474.8a1.1 1.1 0 1 0 2.2 0a1.1 1.1 0 1 0 -2.2 0zM451.2 466.9a1.2 1.2 0 1 0 2.5 0a1.2 1.2 0 1 0 -2.5 0zM546.2 591.7a1.3 1.3 0 1 0 2.7 0a1.3 1.3 0 1 0 -2.7 0zM420.2 372.0a0.9 0.9 0 1 0 1.9 0a0.9 0.9 0 1 0 -1.9 0zM450.5 601.6a0.9 0.9 0 1 0 1.7 0a0.9 0.9 0 1 0 -1.7 0zM436.2 540.7a1.3 1.3 0 1 0 2.6 0a1.3 1.3 0 1 0 -2.6 0zM441.5 581.3a1.1 1.1 0 1 0 2.2 0a1.1 1.1 0 1 0 -2.2 0zM446.1 599.2a1.2 1.2 0 1 0 2.4 0a1.2 1.2 0 1 0 -2.4 0zM555.4 627.7a1.2 1.2 0 1 0 2.4 0a1.2 1.2 0 1 0 -2.4 0zM519.1 626.2a1.3 1.3 0 1 0 2.6 0a1.3 1.3 0 1 0 -2.6 0zM369.5 447.9a1.4 1.4 0 1 0 2.9 0a1.4 1.4 0 1 0 -2.9 0zM480.8 532.9a1.2 1.2 0 1 0 2.4 0a1.2 1.2 0 1 0 -2.4 0zM364.3 524.4a1.0 1.0 0 1 0 2.1 0a1.0 1.0 0 1 0 -2.1 0zM377.4 586.3a0.9 0.9 0 1 0 1.8 0a0.9 0.9 0 1 0 -1.8 0zM476.1 614.7a0.9 0.9 0 1 0 1.7 0a0.9 0.9 0 1 0 -1.7 0zM483.0 475.3a1.2 1.2 0 1 0 2.5 0a1.2 1.2 0 1 0 -2.5 0zM395.4 531.8a1.0 1.0 0 1 0 1.9 0a1.0 1.0 0 1 0 -1.9 0zM440.8 549.8a1.0 1.0 0 1 0 2.0 0a1.0 1.0 0 1 0 -2.0 0zM432.4 403.7a1.1 1.1 0 1 0 2.2 0a1.1 1.1 0 1 0 -2.2 0zM499.4 638.1a1.1 1.1 0 1 0 2.3 0a1.1 1.1 0 1 0 -2.3 0zM444.0 536.9a1.1 1.1 0 1 0 2.1 0a1.1 1.1 0 1 0 -2.1 0zM436.7 400.2a1.4 1.4 0 1 0 2.8 0a1.4 1.4 0 1 0 -2.8 0zM523.3 435.7a1.0 1.0 0 1 0 2.0 0a1.0 1.0 0 1 0 -2.0 0zM492.4 370.3a1.2 1.2 0 1 0 2.4 0a1.2 1.2 0 1 0 -2.4 0zM383.8 452.1a0.8 0.8 0 1 0 1.6 0a0.8 0.8 0 1 0 -1.6 0zM467.7 407.2a0.8 0.8 0 1 0 1.7 0a0.8 0.8 0 1 0 -1.7 0zM406.0 613.5a0.9 0.9 0 1 0 1.9 0a0.9 0.9 0 1 0 -1.9 0zM414.8 596.1a1.0 1.0 0 1 0 2.0 0a1.0 1.0 0 1 0 -2.0 0zM481.7 444.1a1.1 1.1 0 1 0 2.2 0a1.1 1.1 0 1 0 -2.2 0zM530.9 533.4a1.2 1.2 0 1 0 2.3 0a1.2 1.2 0 1 0 -2.3 0zM432.2 442.3a0.9 0.9 0 1 0 1.8 0a0.9 0.9 0 1 0 -1.8 0zM463.8 366.3a1.2 1.2 0 1 0 2.4 0a1.2 1.2 0 1 0 -2.4 0zM377.4 478.2a0.9 0.9 0 1 0 1.7 0a0.9 0.9 0 1 0 -1.7 0zM513.2 568.7a1.1 1.1 0 1 0 2.1 0a1.1 1.1 0 1 0 -2.1 0zM395.6 542.6a1.3 1.3 0 1 0 2.6 0a1.3 1.3 0 1 0 -2.6 0zM439.8 534.6a1.1 1.1 0 1 0 2.2 0a1.1 1.1 0 1 0 -2.2 0zM415.4 492.4a1.2 1.2 0 1 0 2.5 0a1.2 1.2 0 1 0 -2.5 0zM463.5 604.1a0.9 0.9 0 1 0 1.9 0a0.9 0.9 0 1 0 -1.9 0zM420.3 657.2a1.3 1.3 0 1 0 2.5 0a1.3 1.3 0 1 0 -2.5 0zM453.1 384.7a1.4 1.4 0 1 0 2.9 0a1.4 1.4 0 1 0 -2.9 0zM447.9 395.6a1.2 1.2 0 1 0 2.4 0a1.2 1.2 0 1 0 -2.4 0zM481.4 580.8a1.4 1.4 0 1 0 2.9 0a1.4 1.4 0 1 0 -2.9 0zM496.3 601.1a1.3 1.3 0 1 0 2.7 0a1.3 1.3 0 1 0 -2.7 0zM465.6 513.4a1.3 1.3 0 1 0 2.6 0a1.3 1.3 0 1 0 -2.6 0zM507.0 401.5a1.1 1.1 0 1 0 2.2 0a1.1 1.1 0 1 0 -2.2 0zM537.2 463.9a1.2 1.2 0 1 0 2.3 0a1.2 1.2 0 1 0 -2.3 0zM451.5 506.0a1.0 1.0 0 1 0 1.9 0a1.0 1.0 0 1 0 -1.9 0zM368.0 563.8a1.4 1.4 0 1 0 2.7 0a1.4 1.4 0 1 0 -2.7 0zM512.0 472.9a0.8 0.8 0 1 0 1.6 0a0.8 0.8 0 1 0 -1.6 0zM451.4 518.0a1.3 1.3 0 1 0 2.6 0a1.3 1.3 0 1 0 -2.6 0zM514.5 590.0a1.4 1.4 0 1 0 2.8 0a1.4 1.4 0 1 0 -2.8 0zM528.8 574.2a1.0 1.0 0 1 0 2.0 0a1.0 1.0 0 1 0 -2.0 0zM376.7 440.7a1.3 1.3 0 1 0 2.6 0a1.3 1.3 0 1 0 -2.6 0zM439.7 424.1a1.1 1.1 0 1 0 2.2 0a1.1 1.1 0 1 0 -2.2 0zM506.4 538.6a1.4 1.4 0 1 0 2.7 0a1.4 1.4 0 1 0 -2.7 0zM450.1 625.6a1.2 1.2 0 1 0 2.4 0a1.2 1.2 0 1 0 -2.4 0zM450.4 660.8a0.8 0.8 0 1 0 1.7 0a0.8 0.8 0 1 0 -1.7 0zM455.5 397.3a1.0 1.0 0 1 0 2.1 0a1.0 1.0 0 1 0 -2.1 0zM555.3 588.5a0.8 0.8 0 1 0 1.6 0a0.8 0.8 0 1 0 -1.6 0zM408.6 441.3a1.3 1.3 0 1 0 2.6 0a1.3 1.3 0 1 0 -2.6 0zM393.5 442.0a1.4 1.4 0 1 0 2.7 0a1.4 1.4 0 1 0 -2.7 0zM511.5 525.2a1.4 1.4 0 1 0 2.9 0a1.4 1.4 0 1 0 -2.9 0zM525.9 650.1a1.1 1.1 0 1 0 2.3 0a1.1 1.1 0 1 0 -2.3 0zM370.9 450.7a1.1 1.1 0 1 0 2.1 0a1.1 1.1 0 1 0 -2.1 0zM481.7 398.3a1.1 1.1 0 1 0 2.3 0a1.1 1.1 0 1 0 -2.3 0zM529.4 459.7a1.1 1.1 0 1 0 2.2 0a1.1 1.1 0 1 0 -2.2 0zM502.3 456.3a1.0 1.0 0 1 0 2.0 0a1.0 1.0 0 1 0 -2.0 0zM390.4 637.1a1.4 1.4 0 1 0 2.8 0a1.4 1.4 0 1 0 -2.8 0zM394.8 566.9a1.1 1.1 0 1 0 2.1 0a1.1 1.1 0 1 0 -2.1 0zM448.7 585.2a1.4 1.4 0 1 0 2.8 0a1.4 1.4 0 1 0 -2.8 0zM434.8 495.0a1.2 1.2 0 1 0 2.3 0a1.2 1.2 0 1 0 -2.3 0zM394.5 533.0a1.4 1.4 0 1 0 2.7 0a1.4 1.4 0 1 0 -2.7 0zM463.2 592.0a1.2 1.2 0 1 0 2.5 0a1.2 1.2 0 1 0 -2.5 0zM399.0 372.2a1.1 1.1 0 1 0 2.2 0a1.1 1.1 0 1 0 -2.2 0zM376.7 622.2a1.3 1.3 0 1 0 2.5 0a1.3 1.3 0 1 0 -2.5 0zM457.5 584.3a1.3 1.3 0 1 0 2.5 0a1.3 1.3 0 1 0 -2.5 0zM545.2 373.5a1.4 1.4 0 1 0 2.7 0a1.4 1.4 0 1 0 -2.7 0zM391.8 576.7a1.1 1.1 0 1 0 2.2 0a1.1 1.1 0 1 0 -2.2 0zM400.7 472.3a1.1 1.1 0 1 0 2.3 0a1.1 1.1 0 1 0 -2.3 0zM461.5 383.2a1.3 1.3 0 1 0 2.6 0a1.3 1.3 0 1 0 -2.6 0zM547.1 579.9a1.1 1.1 0 1 0 2.3 0a1.1 1.1 0 1 0 -2.3 0zM450.0 576.0a1.2 1.2 0 1 0 2.4 0a1.2 1.2 0 1 0 -2.4 0zM403.2 553.7a1.0 1.0 0 1 0 1.9 0a1.0 1.0 0 1 0 -1.9 0zM473.9 457.3a1.4 1.4 0 1 0 2.9 0a1.4 1.4 0 1 0 -2.9 0zM424.9 399.4a1.2 1.2 0 1 0 2.4 0a1.2 1.2 0 1 0 -2.4 0zM384.2 423.4a1.2 1.2 0 1 0 2.4 0a1.2 1.2 0 1 0 -2.4 0zM484.6 486.2a1.3 1.3 0 1 0 2.6 0a1.3 1.3 0 1 0 -2.6 0zM446.6 448.4a1.3 1.3 0 1 0 2.6 0a1.3 1.3 0 1 0 -2.6 0zM548.9 480.4a0.9 0.9 0 1 0 1.7 0a0.9 0.9 0 1 0 -1.7 0zM437.0 457.5a1.0 1.0 0 1 0 2.1 0a1.0 1.0 0 1 0 -2.1 0zM391.7 647.5a1.2 1.2 0 1 0 2.4 0a1.2 1.2 0 1 0 -2.4 0zM424.8 514.8a1.4 1.4 0 1 0 2.9 0a1.4 1.4 0 1 0 -2.9 0zM455.4 631.8a1.1 1.1 0 1 0 2.3 0a1.1 1.1 0 1 0 -2.3 0zM418.8 393.1a0.8 0.8 0 1 0 1.6 0a0.8 0.8 0 1 0 -1.6 0zM444.3 607.1a1.4 1.4 0 1 0 2.9 0a1.4 1.4 0 1 0 -2.9 0zM499.8 602.7a1.2 1.2 0 1 0 2.3 0a1.2 1.2 0 1 0 -2.3 0zM511.6 560.5a0.8 0.8 0 1 0 1.7 0a0.8 0.8 0 1 0 -1.7 0zM477.5 496.7a1.0 1.0 0 1 0 2.0 0a1.0 1.0 0 1 0 -2.0 0zM455.8 640.7a1.4 1.4 0 1 0 2.8 0a1.4 1.4 0 1 0 -2.8 0zM384.4 578.9a1.0 1.0 0 1 0 2.0 0a1.0 1.0 0 1 0 -2.0 0zM492.4 503.0a1.2 1.2 0 1 0 2.3 0a1.2 1.2 0 1 0 -2.3 0zM407.2 638.4a1.0 1.0 0 1 0 2.0 0a1.0 1.0 0 1 0 -2.0 0zM506.2 669.4a1.2 1.2 0 1 0 2.4 0a1.2 1.2 0 1 0 -2.4 0zM548.4 567.8a1.1 1.1 0 1 0 2.2 0a1.1 1.1 0 1 0 -2.2 0zM529.0 465.0a1.0 1.0 0 1 0 2.0 0a1.0 1.0 0 1 0 -2.0 0zM415.9 400.0a0.9 0.9 0 1 0 1.7 0a0.9 0.9 0 1 0 -1.7 0zM452.5 458.4a1.0 1.0 0 1 0 2.0 0a1.0 1.0 0 1 0 -2.0 0zM448.7 651.4a1.2 1.2 0 1 0 2.4 0a1.2 1.2 0 1 0 -2.4 0zM512.2 536.6a1.1 1.1 0 1 0 2.3 0a1.1 1.1 0 1 0 -2.3 0zM443.5 460.9a1.1 1.1 0 1 0 2.2 0a1.1 1.1 0 1 0 -2.2 0zM430.7 618.8a1.2 1.2 0 1 0 2.3 0a1.2 1.2 0 1 0 -2.3 0zM476.8 490.5a1.0 1.0 0 1 0 2.1 0a1.0 1.0 0 1 0 -2.1 0zM473.2 576.7a1.1 1.1 0 1 0 2.3 0a1.1 1.1 0 1 0 -2.3 0zM526.7 668.9a1.2 1.2 0 1 0 2.3 0a1.2 1.2 0 1 0 -2.3 0zM542.9 566.8a1.3 1.3 0 1 0 2.5 0a1.3 1.3 0 1 0 -2.5 0zM529.2 586.9a1.4 1.4 0 1 0 2.9 0a1.4 1.4 0 1 0 -2.9 0zM555.5 448.2a0.9 0.9 0 1 0 1.9 0a0.9 0.9 0 1 0 -1.9 0zM474.0 624.7a1.4 1.4 0 1 0 2.9 0a1.4 1.4 0 1 0 -2.9 0zM442.3 475.1a1.4 1.4 0 1 0 2.9 0a1.4 1.4 0 1 0 -2.9 0zM499.9 579.6a1.3 1.3 0 1 0 2.6 0a1.3 1.3 0 1 0 -2.6 0zM531.4 379.0a1.3 1.3 0 1 0 2.5 0a1.3 1.3 0 1 0 -2.5 0zM501.5 493.0a0.8 0.8 0 1 0 1.7 0a0.8 0.8 0 1 0 -1.7 0zM474.6 585.2a1.3 1.3 0 1 0 2.6 0a1.3 1.3 0 1 0 -2.6 0zM393.6 432.0a1.2 1.2 0 1 0 2.4 0a1.2 1.2 0 1 0 -2.4 0zM503.5 528.7a1.0 1.0 0 1 0 1.9 0a1.0 1.0 0 1 0 -1.9 0zM539.7 541.6a1.0 1.0 0 1 0 1.9 0a1.0 1.0 0 1 0 -1.9 0zM451.9 570.1a1.0 1.0 0 1 0 2.0 0a1.0 1.0 0 1 0 -2.0 0zM531.7 535.5a1.0 1.0 0 1 0 2.0 0a1.0 1.0 0 1 0 -2.0 0zM477.9 498.9a1.1 1.1 0 1 0 2.1 0a1.1 1.1 0 1 0 -2.1 0zM413.7 460.3a1.1 1.1 0 1 0 2.3 0a1.1 1.1 0 1 0 -2.3 0zM553.2 528.9a1.3 1.3 0 1 0 2.6 0a1.3 1.3 0 1 0 -2.6 0zM507.3 392.4a1.1 1.1 0 1 0 2.1 0a1.1 1.1 0 1 0 -2.1 0zM553.6 444.4a0.8 0.8 0 1 0 1.6 0a0.8 0.8 0 1 0 -1.6 0zM481.0 637.2a1.2 1.2 0 1 0 2.5 0a1.2 1.2 0 1 0 -2.5 0zM507.4 396.6a0.8 0.8 0 1 0 1.6 0a0.8 0.8 0 1 0 -1.6 0zM415.5 511.4a1.1 1.1 0 1 0 2.2 0a1.1 1.1 0 1 0 -2.2 0zM465.1 636.3a1.2 1.2 0 1 0 2.5 0a1.2 1.2 0 1 0 -2.5 0zM436.9 610.6a1.2 1.2 0 1 0 2.4 0a1.2 1.2 0 1 0 -2.4 0zM495.7 439.7a1.3 1.3 0 1 0 2.7 0a1.3 1.3 0 1 0 -2.7 0zM545.8 494.1a1.4 1.4 0 1 0 2.8 0a1.4 1.4 0 1 0 -2.8 0zM471.0 456.9a1.0 1.0 0 1 0 2.0 0a1.0 1.0 0 1 0 -2.0 0zM363.0 434.7a1.3 1.3 0 1 0 2.5 0a1.3 1.3 0 1 0 -2.5 0zM423.3 459.8a1.4 1.4 0 1 0 2.7 0a1.4 1.4 0 1 0 -2.7 0zM467.0 638.5a1.3 1.3 0 1 0 2.7 0a1.3 1.3 0 1 0 -2.7 0zM516.6 621.5a1.3 1.3 0 1 0 2.6 0a1.3 1.3 0 1 0 -2.6 0zM476.2 532.9a1.1 1.1 0 1 0 2.3 0a1.1 1.1 0 1 0 -2.3 0zM400.9 535.6a1.3 1.3 0 1 0 2.6 0a1.3 1.3 0 1 0 -2.6 0zM481.0 501.7a1.0 1.0 0 1 0 1.9 0a1.0 1.0 0 1 0 -1.9 0zM533.5 577.2a1.1 1.1 0 1 0 2.3 0a1.1 1.1 0 1 0 -2.3 0zM463.4 609.5a1.2 1.2 0 1 0 2.3 0a1.2 1.2 0 1 0 -2.3 0zM527.2 498.1a0.9 0.9 0 1 0 1.8 0a0.9 0.9 0 1 0 -1.8 0zM466.5 600.6a1.4 1.4 0 1 0 2.7 0a1.4 1.4 0 1 0 -2.7 0zM374.1 656.6a1.1 1.1 0 1 0 2.2 0a1.1 1.1 0 1 0 -2.2 0zM552.3 569.8a1.1 1.1 0 1 0 2.1 0a1.1 1.1 0 1 0 -2.1 0zM370.5 595.4a1.2 1.2 0 1 0 2.4 0a1.2 1.2 0 1 0 -2.4 0zM416.3 387.7a1.2 1.2 0 1 0 2.4 0a1.2 1.2 0 1 0 -2.4 0zM488.9 438.1a1.0 1.0 0 1 0 2.0 0a1.0 1.0 0 1 0 -2.0 0zM520.9 460.7a1.3 1.3 0 1 0 2.5 0a1.3 1.3 0 1 0 -2.5 0zM403.9 477.3a1.0 1.0 0 1 0 2.0 0a1.0 1.0 0 1 0 -2.0 0zM532.0 595.4a1.2 1.2 0 1 0 2.3 0a1.2 1.2 0 1 0 -2.3 0zM499.8 414.0a0.8 0.8 0 1 0 1.6 0a0.8 0.8 0 1 0 -1.6 0zM379.6 436.1a0.8 0.8 0 1 0 1.7 0a0.8 0.8 0 1 0 -1.7 0z"/>
<filter id="gr11" x="0" y="0" width="1" height="1" color-interpolation-filters="sRGB"><feTurbulence type="fractalNoise" baseFrequency="0.85" numOctaves="2" seed="8"/><feColorMatrix type="matrix" values="0 0 0 0 1 0 0 0 0 1 0 0 0 0 1 5 0 0 0 -3.4"/></filter>
<rect x="561.4" y="358" width="176.6" height="315" filter="url(#gr11)" opacity="0.2"/>
<path fill="rgb(130,130,130)" d="M577 385h1.3v1.3h-1.3zM627 452h1.3v1.3h-1.3zM691 638h1.3v1.3h-1.3zM603 438h1.3v1.3h-1.3zM713 518h1.3v1.3h-1.3zM635 663h1.3v1.3h-1.3zM584 601h1.3v1.3h-1.3zM576 395h1.3v1.3h-1.3zM705 546h1.3v1.3h-1.3zM593 368h1.3v1.3h-1.3zM667 638h1.3v1.3h-1.3zM588 535h1.3v1.3h-1.3zM677 514h1.3v1.3h-1.3zM682 386h1.3v1.3h-1.3zM686 603h1.3v1.3h-1.3zM572 619h1.3v1.3h-1.3zM591 580h1.3v1.3h-1.3zM590 548h1.3v1.3h-1.3zM700 590h1.3v1.3h-1.3zM599 578h1.3v1.3h-1.3zM646 472h1.3v1.3h-1.3zM590 515h1.3v1.3h-1.3zM622 496h1.3v1.3h-1.3zM730 630h1.3v1.3h-1.3zM714 603h1.3v1.3h-1.3zM658 462h1.3v1.3h-1.3zM655 470h1.3v1.3h-1.3zM572 644h1.3v1.3h-1.3zM598 500h1.3v1.3h-1.3zM580 524h1.3v1.3h-1.3zM638 651h1.3v1.3h-1.3zM678 627h1.3v1.3h-1.3zM623 406h1.3v1.3h-1.3zM693 525h1.3v1.3h-1.3zM712 464h1.3v1.3h-1.3zM638 395h1.3v1.3h-1.3zM647 396h1.3v1.3h-1.3zM725 478h1.3v1.3h-1.3zM730 433h1.3v1.3h-1.3zM621 536h1.3v1.3h-1.3zM703 660h1.3v1.3h-1.3zM637 661h1.3v1.3h-1.3zM599 529h1.3v1.3h-1.3zM588 670h1.3v1.3h-1.3zM670 603h1.3v1.3h-1.3zM714 537h1.3v1.3h-1.3zM589 556h1.3v1.3h-1.3zM719 390h1.3v1.3h-1.3zM736 545h1.3v1.3h-1.3zM564 535h1.3v1.3h-1.3zM650 501h1.3v1.3h-1.3zM657 596h1.3v1.3h-1.3zM572 568h1.3v1.3h-1.3z"/>
<path fill="rgb(90,90,90)" d="M670 518h1.3v1.3h-1.3zM610 487h1.3v1.3h-1.3zM624 381h1.3v1.3h-1.3zM729 642h1.3v1.3h-1.3zM676 635h1.3v1.3h-1.3zM733 522h1.3v1.3h-1.3zM613 519h1.3v1.3h-1.3zM601 649h1.3v1.3h-1.3zM667 651h1.3v1.3h-1.3zM701 504h1.3v1.3h-1.3zM591 389h1.3v1.3h-1.3zM733 374h1.3v1.3h-1.3zM686 415h1.3v1.3h-1.3zM631 510h1.3v1.3h-1.3zM620 483h1.3v1.3h-1.3zM601 456h1.3v1.3h-1.3zM663 605h1.3v1.3h-1.3zM563 521h1.3v1.3h-1.3zM710 648h1.3v1.3h-1.3zM661 513h1.3v1.3h-1.3zM703 424h1.3v1.3h-1.3zM588 568h1.3v1.3h-1.3zM578 509h1.3v1.3h-1.3zM660 496h1.3v1.3h-1.3zM694 588h1.3v1.3h-1.3zM724 534h1.3v1.3h-1.3zM629 494h1.3v1.3h-1.3zM586 420h1.3v1.3h-1.3zM619 384h1.3v1.3h-1.3zM619 435h1.3v1.3h-1.3zM603 359h1.3v1.3h-1.3zM675 532h1.3v1.3h-1.3zM711 378h1.3v1.3h-1.3zM712 602h1.3v1.3h-1.3zM733 651h1.3v1.3h-1.3zM609 494h1.3v1.3h-1.3zM730 524h1.3v1.3h-1.3zM568 581h1.3v1.3h-1.3zM723 402h1.3v1.3h-1.3zM644 471h1.3v1.3h-1.3zM681 603h1.3v1.3h-1.3zM646 590h1.3v1.3h-1.3zM592 367h1.3v1.3h-1.3zM735 403h1.3v1.3h-1.3zM606 510h1.3v1.3h-1.3zM674 366h1.3v1.3h-1.3zM697 658h1.3v1.3h-1.3zM628 515h1.3v1.3h-1.3zM580 392h1.3v1.3h-1.3zM622 532h1.3v1.3h-1.3zM646 492h1.3v1.3h-1.3zM603 408h1.3v1.3h-1.3z"/>
<path fill="rgb(210,210,210)" d="M652 364h1.3v1.3h-1.3zM689 496h1.3v1.3h-1.3zM629 625h1.3v1.3h-1.3zM656 528h1.3v1.3h-1.3zM568 548h1.3v1.3h-1.3zM660 555h1.3v1.3h-1.3zM627 410h1.3v1.3h-1.3zM704 651h1.3v1.3h-1.3zM585 382h1.3v1.3h-1.3zM680 534h1.3v1.3h-1.3zM582 497h1.3v1.3h-1.3zM663 662h1.3v1.3h-1.3zM646 541h1.3v1.3h-1.3zM601 436h1.3v1.3h-1.3zM737 481h1.3v1.3h-1.3zM728 475h1.3v1.3h-1.3zM665 416h1.3v1.3h-1.3zM576 671h1.3v1.3h-1.3zM573 382h1.3v1.3h-1.3zM597 584h1.3v1.3h-1.3zM703 672h1.3v1.3h-1.3zM574 487h1.3v1.3h-1.3zM604 655h1.3v1.3h-1.3zM721 610h1.3v1.3h-1.3zM586 626h1.3v1.3h-1.3zM703 647h1.3v1.3h-1.3zM675 468h1.3v1.3h-1.3zM563 627h1.3v1.3h-1.3zM635 377h1.3v1.3h-1.3zM656 475h1.3v1.3h-1.3zM582 634h1.3v1.3h-1.3zM589 439h1.3v1.3h-1.3zM567 666h1.3v1.3h-1.3zM707 595h1.3v1.3h-1.3zM711 643h1.3v1.3h-1.3zM734 538h1.3v1.3h-1.3zM632 489h1.3v1.3h-1.3zM660 404h1.3v1.3h-1.3zM698 582h1.3v1.3h-1.3zM564 415h1.3v1.3h-1.3zM595 473h1.3v1.3h-1.3zM613 396h1.3v1.3h-1.3zM723 468h1.3v1.3h-1.3zM642 618h1.3v1.3h-1.3zM620 512h1.3v1.3h-1.3zM663 540h1.3v1.3h-1.3zM580 532h1.3v1.3h-1.3zM621 621h1.3v1.3h-1.3zM587 636h1.3v1.3h-1.3zM686 379h1.3v1.3h-1.3zM633 664h1.3v1.3h-1.3zM727 652h1.3v1.3h-1.3zM676 554h1.3v1.3h-1.3zM585 442h1.3v1.3h-1.3z"/>
<path fill="rgb(170,170,170)" d="M625 400h1.3v1.3h-1.3zM719 479h1.3v1.3h-1.3zM651 484h1.3v1.3h-1.3zM602 632h1.3v1.3h-1.3zM574 619h1.3v1.3h-1.3zM642 637h1.3v1.3h-1.3zM709 533h1.3v1.3h-1.3zM645 440h1.3v1.3h-1.3zM588 597h1.3v1.3h-1.3zM588 659h1.3v1.3h-1.3zM576 652h1.3v1.3h-1.3zM618 438h1.3v1.3h-1.3zM683 547h1.3v1.3h-1.3zM674 596h1.3v1.3h-1.3zM570 544h1.3v1.3h-1.3zM583 662h1.3v1.3h-1.3zM693 649h1.3v1.3h-1.3zM633 635h1.3v1.3h-1.3zM724 364h1.3v1.3h-1.3zM677 542h1.3v1.3h-1.3zM630 520h1.3v1.3h-1.3zM624 501h1.3v1.3h-1.3zM602 414h1.3v1.3h-1.3zM623 626h1.3v1.3h-1.3zM697 376h1.3v1.3h-1.3zM583 440h1.3v1.3h-1.3zM616 414h1.3v1.3h-1.3zM706 602h1.3v1.3h-1.3zM647 381h1.3v1.3h-1.3zM575 438h1.3v1.3h-1.3zM575 619h1.3v1.3h-1.3zM592 607h1.3v1.3h-1.3zM732 388h1.3v1.3h-1.3zM596 366h1.3v1.3h-1.3zM668 584h1.3v1.3h-1.3zM715 665h1.3v1.3h-1.3zM650 562h1.3v1.3h-1.3zM724 514h1.3v1.3h-1.3zM669 380h1.3v1.3h-1.3zM630 553h1.3v1.3h-1.3zM646 655h1.3v1.3h-1.3z"/>
<path fill="#fff" d="M660.5 429.2a1.0 1.0 0 1 0 2.0 0a1.0 1.0 0 1 0 -2.0 0zM651.3 621.0a1.0 1.0 0 1 0 2.1 0a1.0 1.0 0 1 0 -2.1 0zM616.6 455.4a1.2 1.2 0 1 0 2.4 0a1.2 1.2 0 1 0 -2.4 0zM668.7 417.3a0.9 0.9 0 1 0 1.8 0a0.9 0.9 0 1 0 -1.8 0zM695.5 471.0a1.1 1.1 0 1 0 2.2 0a1.1 1.1 0 1 0 -2.2 0zM632.2 533.7a1.0 1.0 0 1 0 2.0 0a1.0 1.0 0 1 0 -2.0 0zM687.5 481.2a1.1 1.1 0 1 0 2.3 0a1.1 1.1 0 1 0 -2.3 0zM724.4 383.8a1.1 1.1 0 1 0 2.2 0a1.1 1.1 0 1 0 -2.2 0zM579.6 541.3a0.8 0.8 0 1 0 1.6 0a0.8 0.8 0 1 0 -1.6 0zM598.6 591.5a1.2 1.2 0 1 0 2.4 0a1.2 1.2 0 1 0 -2.4 0zM672.3 643.9a1.1 1.1 0 1 0 2.2 0a1.1 1.1 0 1 0 -2.2 0zM687.6 366.9a1.0 1.0 0 1 0 2.0 0a1.0 1.0 0 1 0 -2.0 0zM713.9 451.9a0.8 0.8 0 1 0 1.7 0a0.8 0.8 0 1 0 -1.7 0zM617.2 425.1a0.8 0.8 0 1 0 1.7 0a0.8 0.8 0 1 0 -1.7 0zM703.8 502.1a1.2 1.2 0 1 0 2.5 0a1.2 1.2 0 1 0 -2.5 0zM731.9 400.8a1.1 1.1 0 1 0 2.2 0a1.1 1.1 0 1 0 -2.2 0zM586.7 494.8a1.0 1.0 0 1 0 2.0 0a1.0 1.0 0 1 0 -2.0 0zM724.5 564.5a1.2 1.2 0 1 0 2.5 0a1.2 1.2 0 1 0 -2.5 0zM713.3 417.7a1.0 1.0 0 1 0 2.0 0a1.0 1.0 0 1 0 -2.0 0zM615.2 599.6a0.8 0.8 0 1 0 1.6 0a0.8 0.8 0 1 0 -1.6 0zM668.3 381.5a1.1 1.1 0 1 0 2.3 0a1.1 1.1 0 1 0 -2.3 0zM668.6 506.9a1.1 1.1 0 1 0 2.1 0a1.1 1.1 0 1 0 -2.1 0zM583.5 556.3a1.1 1.1 0 1 0 2.2 0a1.1 1.1 0 1 0 -2.2 0zM626.9 643.7a1.1 1.1 0 1 0 2.1 0a1.1 1.1 0 1 0 -2.1 0zM621.1 470.4a0.9 0.9 0 1 0 1.8 0a0.9 0.9 0 1 0 -1.8 0zM697.1 380.0a1.0 1.0 0 1 0 2.0 0a1.0 1.0 0 1 0 -2.0 0zM728.4 612.9a1.2 1.2 0 1 0 2.4 0a1.2 1.2 0 1 0 -2.4 0zM571.0 633.4a1.1 1.1 0 1 0 2.2 0a1.1 1.1 0 1 0 -2.2 0zM705.7 496.2a1.1 1.1 0 1 0 2.3 0a1.1 1.1 0 1 0 -2.3 0zM665.6 609.0a1.2 1.2 0 1 0 2.4 0a1.2 1.2 0 1 0 -2.4 0zM689.7 640.2a1.2 1.2 0 1 0 2.4 0a1.2 1.2 0 1 0 -2.4 0zM685.6 399.7a0.9 0.9 0 1 0 1.9 0a0.9 0.9 0 1 0 -1.9 0zM697.1 634.0a1.0 1.0 0 1 0 1.9 0a1.0 1.0 0 1 0 -1.9 0zM690.0 363.1a1.0 1.0 0 1 0 1.9 0a1.0 1.0 0 1 0 -1.9 0zM632.9 484.9a1.0 1.0 0 1 0 2.0 0a1.0 1.0 0 1 0 -2.0 0zM721.5 494.5a1.2 1.2 0 1 0 2.3 0a1.2 1.2 0 1 0 -2.3 0zM610.3 603.6a1.2 1.2 0 1 0 2.5 0a1.2 1.2 0 1 0 -2.5 0zM708.4 640.4a0.9 0.9 0 1 0 1.7 0a0.9 0.9 0 1 0 -1.7 0zM667.9 653.2a0.9 0.9 0 1 0 1.9 0a0.9 0.9 0 1 0 -1.9 0zM575.2 563.9a1.1 1.1 0 1 0 2.3 0a1.1 1.1 0 1 0 -2.3 0zM656.9 642.4a1.1 1.1 0 1 0 2.1 0a1.1 1.1 0 1 0 -2.1 0zM588.3 608.9a1.2 1.2 0 1 0 2.4 0a1.2 1.2 0 1 0 -2.4 0zM703.2 384.9a1.1 1.1 0 1 0 2.2 0a1.1 1.1 0 1 0 -2.2 0zM676.3 627.4a1.2 1.2 0 1 0 2.5 0a1.2 1.2 0 1 0 -2.5 0zM682.7 460.2a1.2 1.2 0 1 0 2.4 0a1.2 1.2 0 1 0 -2.4 0zM718.7 516.9a1.0 1.0 0 1 0 2.0 0a1.0 1.0 0 1 0 -2.0 0zM723.1 384.1a1.0 1.0 0 1 0 2.0 0a1.0 1.0 0 1 0 -2.0 0zM693.3 581.0a0.9 0.9 0 1 0 1.8 0a0.9 0.9 0 1 0 -1.8 0zM720.5 539.2a1.2 1.2 0 1 0 2.4 0a1.2 1.2 0 1 0 -2.4 0zM728.3 540.4a1.3 1.3 0 1 0 2.6 0a1.3 1.3 0 1 0 -2.6 0zM706.1 571.1a1.2 1.2 0 1 0 2.5 0a1.2 1.2 0 1 0 -2.5 0zM576.6 506.3a1.1 1.1 0 1 0 2.2 0a1.1 1.1 0 1 0 -2.2 0zM603.2 421.4a1.2 1.2 0 1 0 2.5 0a1.2 1.2 0 1 0 -2.5 0zM700.0 469.3a0.8 0.8 0 1 0 1.6 0a0.8 0.8 0 1 0 -1.6 0zM614.1 444.0a1.0 1.0 0 1 0 1.9 0a1.0 1.0 0 1 0 -1.9 0zM685.0 425.9a0.8 0.8 0 1 0 1.7 0a0.8 0.8 0 1 0 -1.7 0zM625.7 400.7a1.1 1.1 0 1 0 2.1 0a1.1 1.1 0 1 0 -2.1 0zM669.0 445.9a0.8 0.8 0 1 0 1.7 0a0.8 0.8 0 1 0 -1.7 0zM734.3 459.8a1.1 1.1 0 1 0 2.1 0a1.1 1.1 0 1 0 -2.1 0zM699.9 580.6a0.9 0.9 0 1 0 1.7 0a0.9 0.9 0 1 0 -1.7 0zM626.9 643.4a1.2 1.2 0 1 0 2.5 0a1.2 1.2 0 1 0 -2.5 0zM572.4 436.5a1.2 1.2 0 1 0 2.4 0a1.2 1.2 0 1 0 -2.4 0zM682.2 536.7a1.0 1.0 0 1 0 2.0 0a1.0 1.0 0 1 0 -2.0 0zM646.6 585.9a1.1 1.1 0 1 0 2.3 0a1.1 1.1 0 1 0 -2.3 0zM725.6 438.7a1.1 1.1 0 1 0 2.3 0a1.1 1.1 0 1 0 -2.3 0zM698.9 511.8a1.1 1.1 0 1 0 2.2 0a1.1 1.1 0 1 0 -2.2 0zM668.0 638.4a1.2 1.2 0 1 0 2.5 0a1.2 1.2 0 1 0 -2.5 0zM661.7 592.3a1.1 1.1 0 1 0 2.3 0a1.1 1.1 0 1 0 -2.3 0zM679.6 477.6a1.0 1.0 0 1 0 2.0 0a1.0 1.0 0 1 0 -2.0 0zM670.7 499.6a1.0 1.0 0 1 0 2.0 0a1.0 1.0 0 1 0 -2.0 0z"/>
<line x1="560.4" y1="358.0" x2="560.4" y2="673.0" stroke="#bbb" stroke-width="1.3" stroke-dasharray="1.5 1.5"/>
<rect x="766" y="358" width="376" height="315" fill="#000"/>
<filter id="gr20" x="0" y="0" width="1" height="1" color-interpolation-filters="sRGB"><feTurbulence type="fractalNoise" baseFrequency="0.85" numOctaves="2" seed="14"/><feColorMatrix type="matrix" values="0 0 0 0 1 0 0 0 0 1 0 0 0 0 1 6 0 0 0 -3.8"/></filter>
<rect x="766.0" y="358" width="187.2" height="315" filter="url(#gr20)" opacity="0.5"/>
<path fill="rgb(110,110,110)" d="M815 666h1.3v1.3h-1.3zM822 454h1.3v1.3h-1.3zM902 587h1.3v1.3h-1.3zM777 510h1.3v1.3h-1.3zM818 389h1.3v1.3h-1.3zM795 583h1.3v1.3h-1.3zM840 392h1.3v1.3h-1.3zM802 512h1.3v1.3h-1.3zM831 520h1.3v1.3h-1.3zM826 618h1.3v1.3h-1.3zM938 472h1.3v1.3h-1.3zM787 531h1.3v1.3h-1.3zM931 584h1.3v1.3h-1.3zM893 659h1.3v1.3h-1.3zM863 572h1.3v1.3h-1.3zM932 390h1.3v1.3h-1.3zM895 474h1.3v1.3h-1.3zM909 385h1.3v1.3h-1.3zM801 621h1.3v1.3h-1.3zM771 491h1.3v1.3h-1.3zM785 368h1.3v1.3h-1.3zM882 562h1.3v1.3h-1.3zM881 392h1.3v1.3h-1.3zM809 401h1.3v1.3h-1.3zM775 642h1.3v1.3h-1.3zM822 395h1.3v1.3h-1.3zM822 365h1.3v1.3h-1.3zM769 469h1.3v1.3h-1.3zM787 465h1.3v1.3h-1.3zM949 615h1.3v1.3h-1.3zM864 530h1.3v1.3h-1.3zM794 422h1.3v1.3h-1.3zM945 636h1.3v1.3h-1.3zM850 574h1.3v1.3h-1.3zM930 631h1.3v1.3h-1.3zM871 361h1.3v1.3h-1.3zM853 438h1.3v1.3h-1.3zM932 666h1.3v1.3h-1.3zM812 545h1.3v1.3h-1.3zM872 598h1.3v1.3h-1.3zM822 494h1.3v1.3h-1.3zM936 640h1.3v1.3h-1.3zM903 518h1.3v1.3h-1.3zM788 549h1.3v1.3h-1.3zM945 586h1.3v1.3h-1.3zM913 590h1.3v1.3h-1.3zM905 466h1.3v1.3h-1.3zM833 412h1.3v1.3h-1.3zM855 376h1.3v1.3h-1.3zM801 389h1.3v1.3h-1.3zM881 404h1.3v1.3h-1.3zM944 384h1.3v1.3h-1.3zM950 398h1.3v1.3h-1.3zM950 426h1.3v1.3h-1.3zM798 401h1.3v1.3h-1.3zM808 671h1.3v1.3h-1.3zM941 497h1.3v1.3h-1.3zM881 515h1.3v1.3h-1.3zM845 611h1.3v1.3h-1.3zM821 411h1.3v1.3h-1.3zM904 554h1.3v1.3h-1.3zM800 549h1.3v1.3h-1.3zM823 491h1.3v1.3h-1.3zM888 385h1.3v1.3h-1.3zM807 631h1.3v1.3h-1.3zM922 485h1.3v1.3h-1.3zM832 564h1.3v1.3h-1.3zM815 360h1.3v1.3h-1.3zM942 434h1.3v1.3h-1.3zM898 510h1.3v1.3h-1.3zM894 577h1.3v1.3h-1.3zM879 600h1.3v1.3h-1.3zM937 568h1.3v1.3h-1.3zM851 430h1.3v1.3h-1.3zM869 382h1.3v1.3h-1.3zM943 532h1.3v1.3h-1.3zM918 591h1.3v1.3h-1.3zM916 489h1.3v1.3h-1.3zM932 644h1.3v1.3h-1.3zM827 538h1.3v1.3h-1.3zM784 622h1.3v1.3h-1.3zM902 496h1.3v1.3h-1.3zM928 658h1.3v1.3h-1.3zM868 590h1.3v1.3h-1.3zM892 495h1.3v1.3h-1.3zM793 641h1.3v1.3h-1.3zM851 471h1.3v1.3h-1.3zM819 394h1.3v1.3h-1.3zM825 374h1.3v1.3h-1.3zM929 497h1.3v1.3h-1.3zM804 462h1.3v1.3h-1.3zM893 439h1.3v1.3h-1.3zM814 400h1.3v1.3h-1.3zM797 529h1.3v1.3h-1.3zM837 433h1.3v1.3h-1.3zM950 621h1.3v1.3h-1.3zM805 577h1.3v1.3h-1.3zM868 628h1.3v1.3h-1.3zM927 623h1.3v1.3h-1.3zM895 444h1.3v1.3h-1.3zM786 403h1.3v1.3h-1.3zM866 623h1.3v1.3h-1.3zM777 514h1.3v1.3h-1.3zM828 498h1.3v1.3h-1.3zM889 559h1.3v1.3h-1.3zM848 646h1.3v1.3h-1.3zM855 514h1.3v1.3h-1.3zM794 565h1.3v1.3h-1.3zM938 542h1.3v1.3h-1.3zM887 601h1.3v1.3h-1.3zM784 528h1.3v1.3h-1.3zM815 360h1.3v1.3h-1.3zM873 496h1.3v1.3h-1.3zM920 379h1.3v1.3h-1.3zM776 643h1.3v1.3h-1.3zM772 562h1.3v1.3h-1.3zM843 486h1.3v1.3h-1.3zM845 585h1.3v1.3h-1.3zM917 431h1.3v1.3h-1.3zM922 461h1.3v1.3h-1.3zM873 432h1.3v1.3h-1.3zM938 438h1.3v1.3h-1.3zM909 423h1.3v1.3h-1.3zM793 462h1.3v1.3h-1.3zM785 623h1.3v1.3h-1.3zM917 405h1.3v1.3h-1.3zM826 549h1.3v1.3h-1.3zM892 393h1.3v1.3h-1.3zM788 405h1.3v1.3h-1.3zM795 642h1.3v1.3h-1.3zM873 568h1.3v1.3h-1.3zM773 415h1.3v1.3h-1.3zM933 523h1.3v1.3h-1.3zM877 581h1.3v1.3h-1.3zM808 449h1.3v1.3h-1.3zM885 462h1.3v1.3h-1.3zM896 565h1.3v1.3h-1.3zM805 400h1.3v1.3h-1.3zM940 647h1.3v1.3h-1.3zM916 407h1.3v1.3h-1.3zM767 610h1.3v1.3h-1.3zM799 366h1.3v1.3h-1.3zM921 473h1.3v1.3h-1.3zM862 659h1.3v1.3h-1.3zM942 629h1.3v1.3h-1.3zM892 459h1.3v1.3h-1.3zM849 494h1.3v1.3h-1.3zM895 476h1.3v1.3h-1.3zM941 370h1.3v1.3h-1.3zM910 585h1.3v1.3h-1.3zM906 519h1.3v1.3h-1.3zM788 401h1.3v1.3h-1.3zM876 667h1.3v1.3h-1.3zM890 448h1.3v1.3h-1.3zM891 541h1.3v1.3h-1.3zM813 401h1.3v1.3h-1.3zM850 506h1.3v1.3h-1.3zM925 521h1.3v1.3h-1.3zM882 361h1.3v1.3h-1.3zM910 424h1.3v1.3h-1.3zM892 474h1.3v1.3h-1.3zM942 379h1.3v1.3h-1.3zM823 385h1.3v1.3h-1.3zM934 434h1.3v1.3h-1.3zM886 481h1.3v1.3h-1.3zM877 540h1.3v1.3h-1.3zM858 575h1.3v1.3h-1.3zM867 384h1.3v1.3h-1.3zM950 484h1.3v1.3h-1.3zM872 599h1.3v1.3h-1.3zM836 643h1.3v1.3h-1.3zM815 562h1.3v1.3h-1.3zM846 417h1.3v1.3h-1.3zM883 653h1.3v1.3h-1.3zM807 670h1.3v1.3h-1.3zM777 469h1.3v1.3h-1.3zM925 443h1.3v1.3h-1.3zM783 474h1.3v1.3h-1.3zM813 603h1.3v1.3h-1.3zM881 610h1.3v1.3h-1.3zM844 505h1.3v1.3h-1.3zM868 552h1.3v1.3h-1.3zM787 632h1.3v1.3h-1.3zM886 395h1.3v1.3h-1.3zM861 462h1.3v1.3h-1.3zM810 499h1.3v1.3h-1.3zM811 516h1.3v1.3h-1.3zM878 462h1.3v1.3h-1.3zM938 556h1.3v1.3h-1.3zM792 592h1.3v1.3h-1.3zM894 595h1.3v1.3h-1.3zM823 573h1.3v1.3h-1.3zM809 607h1.3v1.3h-1.3zM844 498h1.3v1.3h-1.3zM913 615h1.3v1.3h-1.3zM851 365h1.3v1.3h-1.3zM790 468h1.3v1.3h-1.3zM858 418h1.3v1.3h-1.3zM898 650h1.3v1.3h-1.3zM952 555h1.3v1.3h-1.3zM828 604h1.3v1.3h-1.3zM836 446h1.3v1.3h-1.3zM894 468h1.3v1.3h-1.3zM868 529h1.3v1.3h-1.3zM866 602h1.3v1.3h-1.3zM771 428h1.3v1.3h-1.3zM822 512h1.3v1.3h-1.3zM791 506h1.3v1.3h-1.3zM939 568h1.3v1.3h-1.3zM789 362h1.3v1.3h-1.3zM913 412h1.3v1.3h-1.3zM870 380h1.3v1.3h-1.3zM934 607h1.3v1.3h-1.3zM842 386h1.3v1.3h-1.3zM903 530h1.3v1.3h-1.3zM843 666h1.3v1.3h-1.3zM864 637h1.3v1.3h-1.3zM817 395h1.3v1.3h-1.3zM859 583h1.3v1.3h-1.3zM849 629h1.3v1.3h-1.3zM872 653h1.3v1.3h-1.3zM937 416h1.3v1.3h-1.3zM802 448h1.3v1.3h-1.3zM856 368h1.3v1.3h-1.3zM874 381h1.3v1.3h-1.3zM817 613h1.3v1.3h-1.3zM860 497h1.3v1.3h-1.3zM924 653h1.3v1.3h-1.3zM915 616h1.3v1.3h-1.3zM879 520h1.3v1.3h-1.3zM809 485h1.3v1.3h-1.3zM839 521h1.3v1.3h-1.3zM808 498h1.3v1.3h-1.3zM876 382h1.3v1.3h-1.3zM818 520h1.3v1.3h-1.3zM854 497h1.3v1.3h-1.3zM810 543h1.3v1.3h-1.3zM930 485h1.3v1.3h-1.3zM826 413h1.3v1.3h-1.3zM811 517h1.3v1.3h-1.3zM781 460h1.3v1.3h-1.3zM949 620h1.3v1.3h-1.3zM849 629h1.3v1.3h-1.3zM806 669h1.3v1.3h-1.3zM792 649h1.3v1.3h-1.3zM944 627h1.3v1.3h-1.3zM833 533h1.3v1.3h-1.3zM874 419h1.3v1.3h-1.3zM800 459h1.3v1.3h-1.3zM843 591h1.3v1.3h-1.3zM941 449h1.3v1.3h-1.3zM796 456h1.3v1.3h-1.3zM771 443h1.3v1.3h-1.3zM900 668h1.3v1.3h-1.3zM787 528h1.3v1.3h-1.3zM802 642h1.3v1.3h-1.3zM801 418h1.3v1.3h-1.3zM890 612h1.3v1.3h-1.3zM872 617h1.3v1.3h-1.3zM827 583h1.3v1.3h-1.3zM902 580h1.3v1.3h-1.3zM880 373h1.3v1.3h-1.3zM888 506h1.3v1.3h-1.3zM947 646h1.3v1.3h-1.3zM945 654h1.3v1.3h-1.3zM838 458h1.3v1.3h-1.3zM908 628h1.3v1.3h-1.3zM933 486h1.3v1.3h-1.3zM814 399h1.3v1.3h-1.3zM855 572h1.3v1.3h-1.3zM869 499h1.3v1.3h-1.3zM948 453h1.3v1.3h-1.3zM908 571h1.3v1.3h-1.3zM917 631h1.3v1.3h-1.3zM846 617h1.3v1.3h-1.3zM910 599h1.3v1.3h-1.3zM865 381h1.3v1.3h-1.3zM935 421h1.3v1.3h-1.3zM944 400h1.3v1.3h-1.3zM842 489h1.3v1.3h-1.3zM785 644h1.3v1.3h-1.3zM868 410h1.3v1.3h-1.3zM823 576h1.3v1.3h-1.3zM936 503h1.3v1.3h-1.3zM854 629h1.3v1.3h-1.3zM768 499h1.3v1.3h-1.3zM919 410h1.3v1.3h-1.3zM905 422h1.3v1.3h-1.3zM846 447h1.3v1.3h-1.3zM858 367h1.3v1.3h-1.3zM767 390h1.3v1.3h-1.3zM902 370h1.3v1.3h-1.3zM788 511h1.3v1.3h-1.3zM787 475h1.3v1.3h-1.3zM868 547h1.3v1.3h-1.3zM839 363h1.3v1.3h-1.3zM880 503h1.3v1.3h-1.3zM837 476h1.3v1.3h-1.3zM863 638h1.3v1.3h-1.3zM927 598h1.3v1.3h-1.3zM873 424h1.3v1.3h-1.3zM848 588h1.3v1.3h-1.3zM950 448h1.3v1.3h-1.3zM929 464h1.3v1.3h-1.3zM881 483h1.3v1.3h-1.3zM879 590h1.3v1.3h-1.3zM896 430h1.3v1.3h-1.3zM862 504h1.3v1.3h-1.3zM787 580h1.3v1.3h-1.3zM778 465h1.3v1.3h-1.3zM906 526h1.3v1.3h-1.3zM898 601h1.3v1.3h-1.3z"/>
<path fill="rgb(190,190,190)" d="M918 621h1.3v1.3h-1.3zM802 453h1.3v1.3h-1.3zM871 449h1.3v1.3h-1.3zM847 482h1.3v1.3h-1.3zM891 629h1.3v1.3h-1.3zM946 606h1.3v1.3h-1.3zM894 497h1.3v1.3h-1.3zM854 368h1.3v1.3h-1.3zM786 662h1.3v1.3h-1.3zM924 661h1.3v1.3h-1.3zM886 545h1.3v1.3h-1.3zM842 605h1.3v1.3h-1.3zM927 445h1.3v1.3h-1.3zM830 547h1.3v1.3h-1.3zM774 571h1.3v1.3h-1.3zM838 513h1.3v1.3h-1.3zM877 424h1.3v1.3h-1.3zM921 512h1.3v1.3h-1.3zM850 412h1.3v1.3h-1.3zM860 509h1.3v1.3h-1.3zM861 573h1.3v1.3h-1.3zM946 616h1.3v1.3h-1.3zM939 514h1.3v1.3h-1.3zM912 632h1.3v1.3h-1.3zM850 671h1.3v1.3h-1.3zM768 613h1.3v1.3h-1.3zM849 483h1.3v1.3h-1.3zM820 483h1.3v1.3h-1.3zM778 588h1.3v1.3h-1.3zM910 625h1.3v1.3h-1.3zM852 462h1.3v1.3h-1.3zM777 574h1.3v1.3h-1.3zM881 426h1.3v1.3h-1.3zM814 563h1.3v1.3h-1.3zM920 650h1.3v1.3h-1.3zM842 661h1.3v1.3h-1.3zM879 497h1.3v1.3h-1.3zM946 529h1.3v1.3h-1.3zM821 503h1.3v1.3h-1.3zM787 404h1.3v1.3h-1.3zM891 381h1.3v1.3h-1.3zM815 544h1.3v1.3h-1.3zM812 428h1.3v1.3h-1.3zM834 380h1.3v1.3h-1.3zM896 585h1.3v1.3h-1.3zM783 561h1.3v1.3h-1.3zM854 562h1.3v1.3h-1.3zM883 448h1.3v1.3h-1.3zM895 600h1.3v1.3h-1.3zM795 645h1.3v1.3h-1.3zM899 446h1.3v1.3h-1.3zM947 653h1.3v1.3h-1.3zM892 634h1.3v1.3h-1.3zM817 532h1.3v1.3h-1.3zM932 458h1.3v1.3h-1.3zM854 604h1.3v1.3h-1.3zM947 367h1.3v1.3h-1.3zM831 455h1.3v1.3h-1.3zM891 531h1.3v1.3h-1.3zM903 527h1.3v1.3h-1.3zM795 448h1.3v1.3h-1.3zM847 406h1.3v1.3h-1.3zM848 540h1.3v1.3h-1.3zM779 512h1.3v1.3h-1.3zM882 432h1.3v1.3h-1.3zM812 496h1.3v1.3h-1.3zM889 482h1.3v1.3h-1.3zM940 362h1.3v1.3h-1.3zM886 395h1.3v1.3h-1.3zM796 578h1.3v1.3h-1.3zM796 410h1.3v1.3h-1.3zM852 366h1.3v1.3h-1.3zM818 558h1.3v1.3h-1.3zM817 464h1.3v1.3h-1.3zM778 468h1.3v1.3h-1.3zM801 566h1.3v1.3h-1.3zM777 546h1.3v1.3h-1.3zM771 476h1.3v1.3h-1.3zM827 622h1.3v1.3h-1.3zM776 611h1.3v1.3h-1.3zM787 514h1.3v1.3h-1.3zM831 408h1.3v1.3h-1.3zM825 395h1.3v1.3h-1.3zM787 438h1.3v1.3h-1.3zM798 576h1.3v1.3h-1.3zM789 520h1.3v1.3h-1.3zM902 538h1.3v1.3h-1.3zM889 630h1.3v1.3h-1.3zM884 511h1.3v1.3h-1.3zM791 421h1.3v1.3h-1.3zM831 594h1.3v1.3h-1.3zM812 550h1.3v1.3h-1.3zM777 529h1.3v1.3h-1.3zM925 643h1.3v1.3h-1.3zM890 539h1.3v1.3h-1.3zM924 399h1.3v1.3h-1.3zM835 477h1.3v1.3h-1.3zM787 466h1.3v1.3h-1.3zM843 459h1.3v1.3h-1.3zM911 374h1.3v1.3h-1.3zM777 428h1.3v1.3h-1.3zM880 574h1.3v1.3h-1.3zM823 408h1.3v1.3h-1.3zM882 418h1.3v1.3h-1.3zM791 494h1.3v1.3h-1.3zM801 652h1.3v1.3h-1.3zM895 519h1.3v1.3h-1.3zM881 508h1.3v1.3h-1.3zM906 638h1.3v1.3h-1.3zM923 529h1.3v1.3h-1.3zM903 404h1.3v1.3h-1.3zM803 601h1.3v1.3h-1.3zM935 535h1.3v1.3h-1.3zM811 383h1.3v1.3h-1.3zM812 615h1.3v1.3h-1.3zM937 620h1.3v1.3h-1.3zM841 561h1.3v1.3h-1.3zM827 393h1.3v1.3h-1.3zM882 407h1.3v1.3h-1.3zM871 574h1.3v1.3h-1.3zM905 401h1.3v1.3h-1.3zM883 575h1.3v1.3h-1.3zM851 421h1.3v1.3h-1.3zM892 481h1.3v1.3h-1.3zM923 550h1.3v1.3h-1.3zM906 490h1.3v1.3h-1.3zM920 618h1.3v1.3h-1.3zM849 651h1.3v1.3h-1.3zM783 377h1.3v1.3h-1.3zM789 517h1.3v1.3h-1.3zM915 602h1.3v1.3h-1.3zM819 415h1.3v1.3h-1.3zM804 628h1.3v1.3h-1.3zM831 468h1.3v1.3h-1.3zM889 593h1.3v1.3h-1.3zM914 529h1.3v1.3h-1.3zM774 367h1.3v1.3h-1.3zM933 454h1.3v1.3h-1.3zM800 667h1.3v1.3h-1.3zM880 568h1.3v1.3h-1.3zM940 649h1.3v1.3h-1.3zM862 531h1.3v1.3h-1.3zM873 424h1.3v1.3h-1.3zM768 635h1.3v1.3h-1.3zM942 419h1.3v1.3h-1.3zM775 614h1.3v1.3h-1.3zM867 410h1.3v1.3h-1.3zM848 490h1.3v1.3h-1.3zM879 437h1.3v1.3h-1.3zM781 504h1.3v1.3h-1.3zM851 460h1.3v1.3h-1.3zM806 561h1.3v1.3h-1.3zM847 598h1.3v1.3h-1.3zM844 629h1.3v1.3h-1.3zM835 594h1.3v1.3h-1.3zM923 621h1.3v1.3h-1.3zM895 667h1.3v1.3h-1.3zM863 649h1.3v1.3h-1.3zM893 515h1.3v1.3h-1.3zM911 359h1.3v1.3h-1.3zM946 505h1.3v1.3h-1.3zM925 563h1.3v1.3h-1.3zM812 671h1.3v1.3h-1.3zM794 425h1.3v1.3h-1.3zM808 504h1.3v1.3h-1.3zM941 506h1.3v1.3h-1.3zM793 510h1.3v1.3h-1.3zM779 634h1.3v1.3h-1.3zM794 659h1.3v1.3h-1.3zM906 433h1.3v1.3h-1.3zM927 493h1.3v1.3h-1.3zM932 389h1.3v1.3h-1.3zM805 633h1.3v1.3h-1.3zM939 567h1.3v1.3h-1.3zM831 669h1.3v1.3h-1.3zM940 535h1.3v1.3h-1.3zM913 401h1.3v1.3h-1.3zM935 446h1.3v1.3h-1.3zM948 478h1.3v1.3h-1.3zM834 563h1.3v1.3h-1.3zM799 376h1.3v1.3h-1.3zM830 474h1.3v1.3h-1.3zM940 606h1.3v1.3h-1.3zM884 377h1.3v1.3h-1.3zM786 365h1.3v1.3h-1.3zM884 504h1.3v1.3h-1.3zM897 601h1.3v1.3h-1.3zM786 628h1.3v1.3h-1.3zM814 409h1.3v1.3h-1.3zM794 532h1.3v1.3h-1.3zM872 534h1.3v1.3h-1.3zM950 574h1.3v1.3h-1.3zM821 499h1.3v1.3h-1.3zM865 397h1.3v1.3h-1.3zM780 600h1.3v1.3h-1.3zM845 655h1.3v1.3h-1.3zM821 541h1.3v1.3h-1.3zM792 617h1.3v1.3h-1.3zM815 669h1.3v1.3h-1.3zM851 471h1.3v1.3h-1.3zM869 523h1.3v1.3h-1.3zM903 554h1.3v1.3h-1.3zM885 531h1.3v1.3h-1.3zM818 589h1.3v1.3h-1.3zM881 556h1.3v1.3h-1.3zM832 608h1.3v1.3h-1.3zM784 409h1.3v1.3h-1.3zM866 571h1.3v1.3h-1.3zM781 373h1.3v1.3h-1.3zM869 487h1.3v1.3h-1.3zM840 576h1.3v1.3h-1.3zM795 571h1.3v1.3h-1.3zM844 534h1.3v1.3h-1.3zM929 388h1.3v1.3h-1.3zM893 432h1.3v1.3h-1.3zM944 620h1.3v1.3h-1.3zM905 560h1.3v1.3h-1.3zM872 533h1.3v1.3h-1.3zM909 455h1.3v1.3h-1.3zM885 571h1.3v1.3h-1.3zM851 529h1.3v1.3h-1.3zM860 518h1.3v1.3h-1.3zM853 478h1.3v1.3h-1.3zM844 506h1.3v1.3h-1.3zM933 589h1.3v1.3h-1.3zM799 480h1.3v1.3h-1.3zM863 627h1.3v1.3h-1.3zM938 475h1.3v1.3h-1.3zM904 620h1.3v1.3h-1.3zM834 418h1.3v1.3h-1.3zM852 554h1.3v1.3h-1.3zM822 470h1.3v1.3h-1.3zM852 432h1.3v1.3h-1.3zM847 432h1.3v1.3h-1.3zM886 523h1.3v1.3h-1.3zM795 662h1.3v1.3h-1.3zM811 488h1.3v1.3h-1.3zM894 362h1.3v1.3h-1.3zM912 424h1.3v1.3h-1.3zM844 570h1.3v1.3h-1.3zM818 483h1.3v1.3h-1.3zM936 374h1.3v1.3h-1.3zM894 433h1.3v1.3h-1.3zM816 457h1.3v1.3h-1.3zM938 571h1.3v1.3h-1.3zM871 399h1.3v1.3h-1.3zM937 559h1.3v1.3h-1.3zM947 650h1.3v1.3h-1.3zM807 606h1.3v1.3h-1.3zM950 371h1.3v1.3h-1.3zM836 633h1.3v1.3h-1.3zM911 512h1.3v1.3h-1.3zM928 483h1.3v1.3h-1.3zM851 471h1.3v1.3h-1.3zM800 584h1.3v1.3h-1.3zM831 602h1.3v1.3h-1.3zM941 657h1.3v1.3h-1.3zM844 445h1.3v1.3h-1.3zM938 652h1.3v1.3h-1.3zM849 663h1.3v1.3h-1.3zM872 432h1.3v1.3h-1.3zM920 373h1.3v1.3h-1.3zM856 665h1.3v1.3h-1.3zM941 426h1.3v1.3h-1.3zM793 594h1.3v1.3h-1.3zM879 626h1.3v1.3h-1.3zM847 402h1.3v1.3h-1.3zM878 452h1.3v1.3h-1.3zM947 658h1.3v1.3h-1.3zM880 567h1.3v1.3h-1.3zM796 421h1.3v1.3h-1.3zM900 513h1.3v1.3h-1.3zM918 482h1.3v1.3h-1.3zM916 493h1.3v1.3h-1.3zM901 464h1.3v1.3h-1.3zM917 452h1.3v1.3h-1.3zM867 365h1.3v1.3h-1.3zM857 377h1.3v1.3h-1.3zM896 421h1.3v1.3h-1.3zM913 514h1.3v1.3h-1.3zM907 388h1.3v1.3h-1.3zM799 480h1.3v1.3h-1.3zM902 534h1.3v1.3h-1.3zM831 390h1.3v1.3h-1.3zM949 577h1.3v1.3h-1.3zM854 565h1.3v1.3h-1.3zM860 633h1.3v1.3h-1.3zM940 487h1.3v1.3h-1.3zM860 650h1.3v1.3h-1.3zM827 383h1.3v1.3h-1.3zM926 607h1.3v1.3h-1.3zM938 431h1.3v1.3h-1.3zM932 549h1.3v1.3h-1.3zM822 569h1.3v1.3h-1.3zM875 659h1.3v1.3h-1.3zM940 494h1.3v1.3h-1.3zM909 623h1.3v1.3h-1.3zM937 467h1.3v1.3h-1.3zM911 618h1.3v1.3h-1.3zM825 509h1.3v1.3h-1.3zM903 596h1.3v1.3h-1.3zM812 509h1.3v1.3h-1.3zM851 504h1.3v1.3h-1.3zM943 435h1.3v1.3h-1.3zM797 649h1.3v1.3h-1.3zM820 535h1.3v1.3h-1.3zM904 631h1.3v1.3h-1.3zM789 445h1.3v1.3h-1.3zM798 579h1.3v1.3h-1.3zM853 427h1.3v1.3h-1.3zM796 598h1.3v1.3h-1.3zM860 430h1.3v1.3h-1.3zM929 450h1.3v1.3h-1.3zM944 614h1.3v1.3h-1.3zM881 486h1.3v1.3h-1.3zM788 533h1.3v1.3h-1.3zM894 602h1.3v1.3h-1.3zM835 401h1.3v1.3h-1.3zM823 613h1.3v1.3h-1.3zM872 496h1.3v1.3h-1.3zM808 648h1.3v1.3h-1.3zM793 501h1.3v1.3h-1.3zM810 410h1.3v1.3h-1.3zM914 383h1.3v1.3h-1.3zM779 458h1.3v1.3h-1.3zM873 436h1.3v1.3h-1.3zM814 577h1.3v1.3h-1.3zM827 488h1.3v1.3h-1.3zM768 648h1.3v1.3h-1.3zM943 545h1.3v1.3h-1.3zM872 642h1.3v1.3h-1.3zM809 611h1.3v1.3h-1.3zM866 464h1.3v1.3h-1.3zM914 557h1.3v1.3h-1.3zM792 487h1.3v1.3h-1.3zM927 623h1.3v1.3h-1.3zM881 519h1.3v1.3h-1.3zM950 627h1.3v1.3h-1.3zM892 385h1.3v1.3h-1.3zM815 436h1.3v1.3h-1.3zM941 436h1.3v1.3h-1.3zM919 557h1.3v1.3h-1.3z"/>
<path fill="rgb(150,150,150)" d="M784 528h1.3v1.3h-1.3zM878 604h1.3v1.3h-1.3zM889 396h1.3v1.3h-1.3zM862 394h1.3v1.3h-1.3zM932 406h1.3v1.3h-1.3zM804 366h1.3v1.3h-1.3zM864 665h1.3v1.3h-1.3zM786 363h1.3v1.3h-1.3zM897 393h1.3v1.3h-1.3zM922 642h1.3v1.3h-1.3zM879 427h1.3v1.3h-1.3zM788 496h1.3v1.3h-1.3zM857 392h1.3v1.3h-1.3zM941 670h1.3v1.3h-1.3zM873 423h1.3v1.3h-1.3zM870 659h1.3v1.3h-1.3zM769 549h1.3v1.3h-1.3zM920 447h1.3v1.3h-1.3zM826 608h1.3v1.3h-1.3zM776 662h1.3v1.3h-1.3zM839 489h1.3v1.3h-1.3zM823 654h1.3v1.3h-1.3zM935 519h1.3v1.3h-1.3zM806 441h1.3v1.3h-1.3zM882 624h1.3v1.3h-1.3zM838 579h1.3v1.3h-1.3zM916 635h1.3v1.3h-1.3zM868 449h1.3v1.3h-1.3zM914 620h1.3v1.3h-1.3zM947 396h1.3v1.3h-1.3zM803 604h1.3v1.3h-1.3zM805 643h1.3v1.3h-1.3zM789 368h1.3v1.3h-1.3zM946 630h1.3v1.3h-1.3zM942 397h1.3v1.3h-1.3zM904 369h1.3v1.3h-1.3zM817 406h1.3v1.3h-1.3zM815 430h1.3v1.3h-1.3zM845 467h1.3v1.3h-1.3zM943 384h1.3v1.3h-1.3zM795 382h1.3v1.3h-1.3zM779 400h1.3v1.3h-1.3zM921 453h1.3v1.3h-1.3zM899 601h1.3v1.3h-1.3zM781 568h1.3v1.3h-1.3zM775 426h1.3v1.3h-1.3zM897 602h1.3v1.3h-1.3zM802 594h1.3v1.3h-1.3zM819 613h1.3v1.3h-1.3zM816 571h1.3v1.3h-1.3zM769 527h1.3v1.3h-1.3zM932 402h1.3v1.3h-1.3zM945 598h1.3v1.3h-1.3zM812 542h1.3v1.3h-1.3zM833 575h1.3v1.3h-1.3zM795 441h1.3v1.3h-1.3zM775 616h1.3v1.3h-1.3zM864 602h1.3v1.3h-1.3zM832 360h1.3v1.3h-1.3zM815 513h1.3v1.3h-1.3zM919 466h1.3v1.3h-1.3zM827 426h1.3v1.3h-1.3zM907 504h1.3v1.3h-1.3zM834 478h1.3v1.3h-1.3zM924 522h1.3v1.3h-1.3zM808 432h1.3v1.3h-1.3zM932 425h1.3v1.3h-1.3zM823 580h1.3v1.3h-1.3zM858 644h1.3v1.3h-1.3zM840 509h1.3v1.3h-1.3zM937 474h1.3v1.3h-1.3zM824 406h1.3v1.3h-1.3zM901 463h1.3v1.3h-1.3zM911 486h1.3v1.3h-1.3zM937 497h1.3v1.3h-1.3zM918 361h1.3v1.3h-1.3zM835 372h1.3v1.3h-1.3zM854 646h1.3v1.3h-1.3zM909 470h1.3v1.3h-1.3zM889 525h1.3v1.3h-1.3zM808 453h1.3v1.3h-1.3zM835 635h1.3v1.3h-1.3zM900 540h1.3v1.3h-1.3zM854 378h1.3v1.3h-1.3zM933 378h1.3v1.3h-1.3zM808 477h1.3v1.3h-1.3zM916 379h1.3v1.3h-1.3zM946 379h1.3v1.3h-1.3zM863 609h1.3v1.3h-1.3zM884 492h1.3v1.3h-1.3zM769 532h1.3v1.3h-1.3zM799 415h1.3v1.3h-1.3zM943 647h1.3v1.3h-1.3zM864 375h1.3v1.3h-1.3zM952 378h1.3v1.3h-1.3zM952 601h1.3v1.3h-1.3zM930 385h1.3v1.3h-1.3zM836 562h1.3v1.3h-1.3zM798 489h1.3v1.3h-1.3zM851 434h1.3v1.3h-1.3zM799 589h1.3v1.3h-1.3zM952 415h1.3v1.3h-1.3zM774 362h1.3v1.3h-1.3zM903 402h1.3v1.3h-1.3zM863 617h1.3v1.3h-1.3zM880 416h1.3v1.3h-1.3zM782 554h1.3v1.3h-1.3zM898 547h1.3v1.3h-1.3zM775 558h1.3v1.3h-1.3zM842 630h1.3v1.3h-1.3zM854 600h1.3v1.3h-1.3zM931 670h1.3v1.3h-1.3zM938 472h1.3v1.3h-1.3zM820 659h1.3v1.3h-1.3zM895 570h1.3v1.3h-1.3zM818 584h1.3v1.3h-1.3zM938 633h1.3v1.3h-1.3zM796 620h1.3v1.3h-1.3zM936 464h1.3v1.3h-1.3zM920 662h1.3v1.3h-1.3zM856 361h1.3v1.3h-1.3zM852 545h1.3v1.3h-1.3zM797 506h1.3v1.3h-1.3zM825 377h1.3v1.3h-1.3zM917 390h1.3v1.3h-1.3zM912 498h1.3v1.3h-1.3zM815 453h1.3v1.3h-1.3zM909 375h1.3v1.3h-1.3zM835 469h1.3v1.3h-1.3zM862 416h1.3v1.3h-1.3zM785 464h1.3v1.3h-1.3zM917 370h1.3v1.3h-1.3zM787 559h1.3v1.3h-1.3zM897 478h1.3v1.3h-1.3zM806 461h1.3v1.3h-1.3zM937 406h1.3v1.3h-1.3zM787 537h1.3v1.3h-1.3zM800 401h1.3v1.3h-1.3zM819 417h1.3v1.3h-1.3zM911 663h1.3v1.3h-1.3zM877 530h1.3v1.3h-1.3zM889 657h1.3v1.3h-1.3zM879 579h1.3v1.3h-1.3zM788 361h1.3v1.3h-1.3zM866 635h1.3v1.3h-1.3zM786 525h1.3v1.3h-1.3zM924 606h1.3v1.3h-1.3zM924 500h1.3v1.3h-1.3zM841 477h1.3v1.3h-1.3zM824 408h1.3v1.3h-1.3zM877 574h1.3v1.3h-1.3zM862 603h1.3v1.3h-1.3zM892 450h1.3v1.3h-1.3zM882 633h1.3v1.3h-1.3zM811 513h1.3v1.3h-1.3zM867 438h1.3v1.3h-1.3zM893 653h1.3v1.3h-1.3zM890 536h1.3v1.3h-1.3zM797 399h1.3v1.3h-1.3zM924 568h1.3v1.3h-1.3zM865 596h1.3v1.3h-1.3zM824 465h1.3v1.3h-1.3zM809 559h1.3v1.3h-1.3zM795 395h1.3v1.3h-1.3zM870 513h1.3v1.3h-1.3zM945 449h1.3v1.3h-1.3zM950 400h1.3v1.3h-1.3zM790 360h1.3v1.3h-1.3zM877 492h1.3v1.3h-1.3zM951 443h1.3v1.3h-1.3zM949 592h1.3v1.3h-1.3zM806 570h1.3v1.3h-1.3zM841 537h1.3v1.3h-1.3zM786 521h1.3v1.3h-1.3zM770 592h1.3v1.3h-1.3zM784 377h1.3v1.3h-1.3zM930 365h1.3v1.3h-1.3zM910 614h1.3v1.3h-1.3zM810 587h1.3v1.3h-1.3zM939 624h1.3v1.3h-1.3zM796 560h1.3v1.3h-1.3zM797 425h1.3v1.3h-1.3zM819 566h1.3v1.3h-1.3zM811 446h1.3v1.3h-1.3zM942 618h1.3v1.3h-1.3zM942 472h1.3v1.3h-1.3zM832 640h1.3v1.3h-1.3zM916 480h1.3v1.3h-1.3zM851 415h1.3v1.3h-1.3zM865 387h1.3v1.3h-1.3zM783 593h1.3v1.3h-1.3zM898 550h1.3v1.3h-1.3zM796 615h1.3v1.3h-1.3zM852 469h1.3v1.3h-1.3zM916 422h1.3v1.3h-1.3zM789 491h1.3v1.3h-1.3zM789 415h1.3v1.3h-1.3zM919 605h1.3v1.3h-1.3zM901 465h1.3v1.3h-1.3zM795 631h1.3v1.3h-1.3zM930 636h1.3v1.3h-1.3zM884 519h1.3v1.3h-1.3zM780 379h1.3v1.3h-1.3zM857 471h1.3v1.3h-1.3zM926 598h1.3v1.3h-1.3zM949 398h1.3v1.3h-1.3zM901 429h1.3v1.3h-1.3zM830 515h1.3v1.3h-1.3zM853 447h1.3v1.3h-1.3zM925 528h1.3v1.3h-1.3zM859 367h1.3v1.3h-1.3zM930 379h1.3v1.3h-1.3zM943 528h1.3v1.3h-1.3zM890 454h1.3v1.3h-1.3zM915 450h1.3v1.3h-1.3zM834 491h1.3v1.3h-1.3zM839 649h1.3v1.3h-1.3zM949 469h1.3v1.3h-1.3zM807 429h1.3v1.3h-1.3zM834 421h1.3v1.3h-1.3zM869 602h1.3v1.3h-1.3zM843 515h1.3v1.3h-1.3zM767 433h1.3v1.3h-1.3zM907 412h1.3v1.3h-1.3zM946 519h1.3v1.3h-1.3zM944 629h1.3v1.3h-1.3zM849 446h1.3v1.3h-1.3zM824 381h1.3v1.3h-1.3zM797 666h1.3v1.3h-1.3zM838 398h1.3v1.3h-1.3zM840 401h1.3v1.3h-1.3zM904 513h1.3v1.3h-1.3zM886 600h1.3v1.3h-1.3zM801 482h1.3v1.3h-1.3zM888 562h1.3v1.3h-1.3zM871 465h1.3v1.3h-1.3zM832 427h1.3v1.3h-1.3zM782 382h1.3v1.3h-1.3zM932 669h1.3v1.3h-1.3zM823 555h1.3v1.3h-1.3zM770 501h1.3v1.3h-1.3zM824 380h1.3v1.3h-1.3zM872 414h1.3v1.3h-1.3zM808 656h1.3v1.3h-1.3zM928 615h1.3v1.3h-1.3zM884 602h1.3v1.3h-1.3zM861 648h1.3v1.3h-1.3zM929 465h1.3v1.3h-1.3zM858 640h1.3v1.3h-1.3zM908 636h1.3v1.3h-1.3zM807 420h1.3v1.3h-1.3zM831 523h1.3v1.3h-1.3zM844 636h1.3v1.3h-1.3zM930 401h1.3v1.3h-1.3zM769 504h1.3v1.3h-1.3zM851 636h1.3v1.3h-1.3zM830 483h1.3v1.3h-1.3zM880 502h1.3v1.3h-1.3zM793 488h1.3v1.3h-1.3zM838 634h1.3v1.3h-1.3zM916 466h1.3v1.3h-1.3zM910 656h1.3v1.3h-1.3zM769 475h1.3v1.3h-1.3zM905 450h1.3v1.3h-1.3zM902 607h1.3v1.3h-1.3zM776 436h1.3v1.3h-1.3zM814 422h1.3v1.3h-1.3zM951 626h1.3v1.3h-1.3zM846 468h1.3v1.3h-1.3zM772 665h1.3v1.3h-1.3zM851 501h1.3v1.3h-1.3zM801 472h1.3v1.3h-1.3zM836 455h1.3v1.3h-1.3zM793 363h1.3v1.3h-1.3zM887 506h1.3v1.3h-1.3zM928 439h1.3v1.3h-1.3zM901 399h1.3v1.3h-1.3zM934 465h1.3v1.3h-1.3zM851 372h1.3v1.3h-1.3zM912 670h1.3v1.3h-1.3zM878 437h1.3v1.3h-1.3zM951 542h1.3v1.3h-1.3zM863 486h1.3v1.3h-1.3zM770 423h1.3v1.3h-1.3zM800 605h1.3v1.3h-1.3zM911 541h1.3v1.3h-1.3zM801 521h1.3v1.3h-1.3zM946 460h1.3v1.3h-1.3zM945 488h1.3v1.3h-1.3zM838 635h1.3v1.3h-1.3zM789 399h1.3v1.3h-1.3zM907 668h1.3v1.3h-1.3zM941 560h1.3v1.3h-1.3zM790 504h1.3v1.3h-1.3zM780 613h1.3v1.3h-1.3zM930 540h1.3v1.3h-1.3zM822 573h1.3v1.3h-1.3zM941 478h1.3v1.3h-1.3zM900 523h1.3v1.3h-1.3zM902 445h1.3v1.3h-1.3zM794 406h1.3v1.3h-1.3zM913 595h1.3v1.3h-1.3zM816 577h1.3v1.3h-1.3zM855 586h1.3v1.3h-1.3zM773 398h1.3v1.3h-1.3zM903 415h1.3v1.3h-1.3zM847 514h1.3v1.3h-1.3zM790 536h1.3v1.3h-1.3zM896 639h1.3v1.3h-1.3zM779 456h1.3v1.3h-1.3zM844 429h1.3v1.3h-1.3zM781 389h1.3v1.3h-1.3zM940 661h1.3v1.3h-1.3zM819 656h1.3v1.3h-1.3zM784 441h1.3v1.3h-1.3zM813 441h1.3v1.3h-1.3zM847 593h1.3v1.3h-1.3zM807 406h1.3v1.3h-1.3zM804 392h1.3v1.3h-1.3zM899 462h1.3v1.3h-1.3zM777 607h1.3v1.3h-1.3z"/>
<path fill="rgb(80,80,80)" d="M845 566h1.3v1.3h-1.3zM884 646h1.3v1.3h-1.3zM911 666h1.3v1.3h-1.3zM895 443h1.3v1.3h-1.3zM877 365h1.3v1.3h-1.3zM848 654h1.3v1.3h-1.3zM881 409h1.3v1.3h-1.3zM921 553h1.3v1.3h-1.3zM859 639h1.3v1.3h-1.3zM807 621h1.3v1.3h-1.3zM852 658h1.3v1.3h-1.3zM933 584h1.3v1.3h-1.3zM947 378h1.3v1.3h-1.3zM842 595h1.3v1.3h-1.3zM803 634h1.3v1.3h-1.3zM799 501h1.3v1.3h-1.3zM906 558h1.3v1.3h-1.3zM895 521h1.3v1.3h-1.3zM778 665h1.3v1.3h-1.3zM835 652h1.3v1.3h-1.3zM806 633h1.3v1.3h-1.3zM881 455h1.3v1.3h-1.3zM871 515h1.3v1.3h-1.3zM779 637h1.3v1.3h-1.3zM801 592h1.3v1.3h-1.3zM891 648h1.3v1.3h-1.3zM934 480h1.3v1.3h-1.3zM928 587h1.3v1.3h-1.3zM914 611h1.3v1.3h-1.3zM948 376h1.3v1.3h-1.3zM783 604h1.3v1.3h-1.3zM775 535h1.3v1.3h-1.3zM899 380h1.3v1.3h-1.3zM869 445h1.3v1.3h-1.3zM768 659h1.3v1.3h-1.3zM935 513h1.3v1.3h-1.3zM919 388h1.3v1.3h-1.3zM886 533h1.3v1.3h-1.3zM876 471h1.3v1.3h-1.3zM839 408h1.3v1.3h-1.3zM945 432h1.3v1.3h-1.3zM888 614h1.3v1.3h-1.3zM863 428h1.3v1.3h-1.3zM858 618h1.3v1.3h-1.3zM930 361h1.3v1.3h-1.3zM803 447h1.3v1.3h-1.3zM770 543h1.3v1.3h-1.3zM902 554h1.3v1.3h-1.3zM935 543h1.3v1.3h-1.3zM811 573h1.3v1.3h-1.3zM819 558h1.3v1.3h-1.3zM857 597h1.3v1.3h-1.3zM812 364h1.3v1.3h-1.3zM915 396h1.3v1.3h-1.3zM799 602h1.3v1.3h-1.3zM878 449h1.3v1.3h-1.3zM878 488h1.3v1.3h-1.3zM810 650h1.3v1.3h-1.3zM783 455h1.3v1.3h-1.3zM858 451h1.3v1.3h-1.3zM846 601h1.3v1.3h-1.3zM800 582h1.3v1.3h-1.3zM824 415h1.3v1.3h-1.3zM903 376h1.3v1.3h-1.3zM911 636h1.3v1.3h-1.3zM864 668h1.3v1.3h-1.3zM848 630h1.3v1.3h-1.3zM847 400h1.3v1.3h-1.3zM849 363h1.3v1.3h-1.3zM780 368h1.3v1.3h-1.3zM901 651h1.3v1.3h-1.3zM853 552h1.3v1.3h-1.3zM811 370h1.3v1.3h-1.3zM918 615h1.3v1.3h-1.3zM837 567h1.3v1.3h-1.3zM856 400h1.3v1.3h-1.3zM868 550h1.3v1.3h-1.3zM857 522h1.3v1.3h-1.3zM791 603h1.3v1.3h-1.3zM912 463h1.3v1.3h-1.3zM916 617h1.3v1.3h-1.3zM887 465h1.3v1.3h-1.3zM930 606h1.3v1.3h-1.3zM937 537h1.3v1.3h-1.3zM805 397h1.3v1.3h-1.3zM769 472h1.3v1.3h-1.3zM875 440h1.3v1.3h-1.3zM824 579h1.3v1.3h-1.3zM904 574h1.3v1.3h-1.3zM803 548h1.3v1.3h-1.3zM772 517h1.3v1.3h-1.3zM776 538h1.3v1.3h-1.3zM815 566h1.3v1.3h-1.3zM817 437h1.3v1.3h-1.3zM808 554h1.3v1.3h-1.3zM803 573h1.3v1.3h-1.3zM921 656h1.3v1.3h-1.3zM771 379h1.3v1.3h-1.3zM905 516h1.3v1.3h-1.3zM886 660h1.3v1.3h-1.3zM925 370h1.3v1.3h-1.3zM898 570h1.3v1.3h-1.3zM836 562h1.3v1.3h-1.3zM890 525h1.3v1.3h-1.3zM770 430h1.3v1.3h-1.3zM932 530h1.3v1.3h-1.3zM863 423h1.3v1.3h-1.3zM829 578h1.3v1.3h-1.3zM882 634h1.3v1.3h-1.3zM855 391h1.3v1.3h-1.3zM898 407h1.3v1.3h-1.3zM909 547h1.3v1.3h-1.3zM947 537h1.3v1.3h-1.3zM785 591h1.3v1.3h-1.3zM794 443h1.3v1.3h-1.3zM794 521h1.3v1.3h-1.3zM927 434h1.3v1.3h-1.3zM915 404h1.3v1.3h-1.3zM857 396h1.3v1.3h-1.3zM876 582h1.3v1.3h-1.3zM889 365h1.3v1.3h-1.3zM778 430h1.3v1.3h-1.3zM806 574h1.3v1.3h-1.3zM947 401h1.3v1.3h-1.3zM899 559h1.3v1.3h-1.3zM854 651h1.3v1.3h-1.3zM907 406h1.3v1.3h-1.3zM859 440h1.3v1.3h-1.3zM802 386h1.3v1.3h-1.3zM919 371h1.3v1.3h-1.3zM943 530h1.3v1.3h-1.3zM940 539h1.3v1.3h-1.3zM775 630h1.3v1.3h-1.3zM913 578h1.3v1.3h-1.3zM859 660h1.3v1.3h-1.3zM880 371h1.3v1.3h-1.3zM840 533h1.3v1.3h-1.3zM927 564h1.3v1.3h-1.3zM826 548h1.3v1.3h-1.3zM802 421h1.3v1.3h-1.3zM887 425h1.3v1.3h-1.3zM933 523h1.3v1.3h-1.3zM794 480h1.3v1.3h-1.3zM840 377h1.3v1.3h-1.3zM868 670h1.3v1.3h-1.3zM801 402h1.3v1.3h-1.3zM812 671h1.3v1.3h-1.3zM842 617h1.3v1.3h-1.3zM921 525h1.3v1.3h-1.3zM866 523h1.3v1.3h-1.3zM804 522h1.3v1.3h-1.3zM881 639h1.3v1.3h-1.3zM822 376h1.3v1.3h-1.3zM845 381h1.3v1.3h-1.3zM806 543h1.3v1.3h-1.3zM813 494h1.3v1.3h-1.3zM822 605h1.3v1.3h-1.3zM941 384h1.3v1.3h-1.3zM826 505h1.3v1.3h-1.3zM929 635h1.3v1.3h-1.3zM897 639h1.3v1.3h-1.3zM897 427h1.3v1.3h-1.3zM895 537h1.3v1.3h-1.3zM876 453h1.3v1.3h-1.3zM891 548h1.3v1.3h-1.3zM803 437h1.3v1.3h-1.3zM838 430h1.3v1.3h-1.3zM917 581h1.3v1.3h-1.3zM890 387h1.3v1.3h-1.3zM787 574h1.3v1.3h-1.3zM885 429h1.3v1.3h-1.3zM852 396h1.3v1.3h-1.3zM805 583h1.3v1.3h-1.3zM876 449h1.3v1.3h-1.3zM835 472h1.3v1.3h-1.3zM939 610h1.3v1.3h-1.3zM863 671h1.3v1.3h-1.3zM796 570h1.3v1.3h-1.3zM792 579h1.3v1.3h-1.3zM814 415h1.3v1.3h-1.3zM792 466h1.3v1.3h-1.3zM799 493h1.3v1.3h-1.3zM904 481h1.3v1.3h-1.3zM915 630h1.3v1.3h-1.3zM784 525h1.3v1.3h-1.3zM834 472h1.3v1.3h-1.3zM942 490h1.3v1.3h-1.3zM888 640h1.3v1.3h-1.3zM818 381h1.3v1.3h-1.3zM833 380h1.3v1.3h-1.3zM918 630h1.3v1.3h-1.3zM944 416h1.3v1.3h-1.3zM910 596h1.3v1.3h-1.3zM767 656h1.3v1.3h-1.3zM847 598h1.3v1.3h-1.3zM804 442h1.3v1.3h-1.3zM862 576h1.3v1.3h-1.3zM882 648h1.3v1.3h-1.3zM776 521h1.3v1.3h-1.3zM927 626h1.3v1.3h-1.3zM803 540h1.3v1.3h-1.3zM920 656h1.3v1.3h-1.3zM844 433h1.3v1.3h-1.3zM795 586h1.3v1.3h-1.3zM950 432h1.3v1.3h-1.3zM787 425h1.3v1.3h-1.3zM808 433h1.3v1.3h-1.3zM943 390h1.3v1.3h-1.3zM790 607h1.3v1.3h-1.3zM887 556h1.3v1.3h-1.3zM855 617h1.3v1.3h-1.3zM920 436h1.3v1.3h-1.3zM792 432h1.3v1.3h-1.3zM915 581h1.3v1.3h-1.3zM795 378h1.3v1.3h-1.3zM926 550h1.3v1.3h-1.3zM926 567h1.3v1.3h-1.3zM854 381h1.3v1.3h-1.3zM934 414h1.3v1.3h-1.3zM851 580h1.3v1.3h-1.3zM814 651h1.3v1.3h-1.3zM820 653h1.3v1.3h-1.3zM865 546h1.3v1.3h-1.3zM776 370h1.3v1.3h-1.3zM873 450h1.3v1.3h-1.3zM870 394h1.3v1.3h-1.3zM803 374h1.3v1.3h-1.3zM834 654h1.3v1.3h-1.3zM854 521h1.3v1.3h-1.3zM805 418h1.3v1.3h-1.3zM950 502h1.3v1.3h-1.3zM922 502h1.3v1.3h-1.3zM905 564h1.3v1.3h-1.3zM774 597h1.3v1.3h-1.3zM773 591h1.3v1.3h-1.3zM937 565h1.3v1.3h-1.3zM847 622h1.3v1.3h-1.3zM804 475h1.3v1.3h-1.3zM929 581h1.3v1.3h-1.3zM873 388h1.3v1.3h-1.3zM904 624h1.3v1.3h-1.3zM903 386h1.3v1.3h-1.3zM776 655h1.3v1.3h-1.3zM787 656h1.3v1.3h-1.3zM861 665h1.3v1.3h-1.3zM937 383h1.3v1.3h-1.3zM876 389h1.3v1.3h-1.3zM903 474h1.3v1.3h-1.3zM829 463h1.3v1.3h-1.3zM777 641h1.3v1.3h-1.3zM885 628h1.3v1.3h-1.3zM921 532h1.3v1.3h-1.3zM861 539h1.3v1.3h-1.3zM952 586h1.3v1.3h-1.3zM810 447h1.3v1.3h-1.3zM780 572h1.3v1.3h-1.3zM779 583h1.3v1.3h-1.3zM776 426h1.3v1.3h-1.3zM937 589h1.3v1.3h-1.3zM870 597h1.3v1.3h-1.3zM841 360h1.3v1.3h-1.3zM794 672h1.3v1.3h-1.3zM840 672h1.3v1.3h-1.3zM927 469h1.3v1.3h-1.3zM861 651h1.3v1.3h-1.3zM950 396h1.3v1.3h-1.3zM817 485h1.3v1.3h-1.3zM938 374h1.3v1.3h-1.3zM771 615h1.3v1.3h-1.3zM825 534h1.3v1.3h-1.3zM941 465h1.3v1.3h-1.3zM918 371h1.3v1.3h-1.3zM863 543h1.3v1.3h-1.3zM815 632h1.3v1.3h-1.3zM812 415h1.3v1.3h-1.3zM937 595h1.3v1.3h-1.3zM789 526h1.3v1.3h-1.3zM877 465h1.3v1.3h-1.3zM848 611h1.3v1.3h-1.3zM809 640h1.3v1.3h-1.3zM821 602h1.3v1.3h-1.3zM875 613h1.3v1.3h-1.3zM887 494h1.3v1.3h-1.3zM822 610h1.3v1.3h-1.3zM902 381h1.3v1.3h-1.3zM855 417h1.3v1.3h-1.3zM949 431h1.3v1.3h-1.3zM844 520h1.3v1.3h-1.3zM915 646h1.3v1.3h-1.3zM768 559h1.3v1.3h-1.3zM792 661h1.3v1.3h-1.3zM823 462h1.3v1.3h-1.3zM899 484h1.3v1.3h-1.3zM923 610h1.3v1.3h-1.3zM806 504h1.3v1.3h-1.3zM919 496h1.3v1.3h-1.3zM781 506h1.3v1.3h-1.3zM911 570h1.3v1.3h-1.3zM849 658h1.3v1.3h-1.3zM920 530h1.3v1.3h-1.3zM783 475h1.3v1.3h-1.3zM793 456h1.3v1.3h-1.3zM943 612h1.3v1.3h-1.3zM890 613h1.3v1.3h-1.3zM836 640h1.3v1.3h-1.3zM815 646h1.3v1.3h-1.3zM952 575h1.3v1.3h-1.3zM813 573h1.3v1.3h-1.3zM799 466h1.3v1.3h-1.3zM926 593h1.3v1.3h-1.3zM800 438h1.3v1.3h-1.3zM801 544h1.3v1.3h-1.3zM896 613h1.3v1.3h-1.3zM791 459h1.3v1.3h-1.3zM770 485h1.3v1.3h-1.3zM924 577h1.3v1.3h-1.3zM893 501h1.3v1.3h-1.3zM940 627h1.3v1.3h-1.3zM894 585h1.3v1.3h-1.3zM792 367h1.3v1.3h-1.3zM852 499h1.3v1.3h-1.3zM898 508h1.3v1.3h-1.3zM883 405h1.3v1.3h-1.3zM848 424h1.3v1.3h-1.3zM877 548h1.3v1.3h-1.3z"/>
<path fill="#fff" d="M854.9 490.6a0.9 0.9 0 1 0 1.9 0a0.9 0.9 0 1 0 -1.9 0zM833.3 570.1a0.8 0.8 0 1 0 1.7 0a0.8 0.8 0 1 0 -1.7 0zM896.0 565.5a1.3 1.3 0 1 0 2.6 0a1.3 1.3 0 1 0 -2.6 0zM931.6 466.5a1.0 1.0 0 1 0 2.0 0a1.0 1.0 0 1 0 -2.0 0zM810.9 455.3a1.2 1.2 0 1 0 2.4 0a1.2 1.2 0 1 0 -2.4 0zM828.0 402.8a1.1 1.1 0 1 0 2.2 0a1.1 1.1 0 1 0 -2.2 0zM774.5 406.1a1.1 1.1 0 1 0 2.3 0a1.1 1.1 0 1 0 -2.3 0zM772.6 602.6a1.0 1.0 0 1 0 2.1 0a1.0 1.0 0 1 0 -2.1 0zM879.5 547.9a0.9 0.9 0 1 0 1.8 0a0.9 0.9 0 1 0 -1.8 0zM807.6 569.9a1.1 1.1 0 1 0 2.2 0a1.1 1.1 0 1 0 -2.2 0zM816.6 643.5a0.9 0.9 0 1 0 1.8 0a0.9 0.9 0 1 0 -1.8 0zM950.0 369.1a1.0 1.0 0 1 0 2.0 0a1.0 1.0 0 1 0 -2.0 0zM846.1 404.2a0.8 0.8 0 1 0 1.6 0a0.8 0.8 0 1 0 -1.6 0zM868.0 605.5a1.0 1.0 0 1 0 2.0 0a1.0 1.0 0 1 0 -2.0 0zM830.6 627.8a1.0 1.0 0 1 0 2.0 0a1.0 1.0 0 1 0 -2.0 0zM924.4 504.1a1.4 1.4 0 1 0 2.8 0a1.4 1.4 0 1 0 -2.8 0zM804.5 630.1a1.4 1.4 0 1 0 2.7 0a1.4 1.4 0 1 0 -2.7 0zM818.7 636.9a1.2 1.2 0 1 0 2.4 0a1.2 1.2 0 1 0 -2.4 0zM862.6 649.2a1.1 1.1 0 1 0 2.3 0a1.1 1.1 0 1 0 -2.3 0zM941.2 600.2a1.3 1.3 0 1 0 2.6 0a1.3 1.3 0 1 0 -2.6 0zM836.2 648.5a1.4 1.4 0 1 0 2.8 0a1.4 1.4 0 1 0 -2.8 0zM915.5 591.0a1.3 1.3 0 1 0 2.6 0a1.3 1.3 0 1 0 -2.6 0zM848.0 421.5a1.3 1.3 0 1 0 2.6 0a1.3 1.3 0 1 0 -2.6 0zM890.9 423.1a1.1 1.1 0 1 0 2.2 0a1.1 1.1 0 1 0 -2.2 0zM794.4 521.7a1.2 1.2 0 1 0 2.5 0a1.2 1.2 0 1 0 -2.5 0zM926.8 558.7a1.0 1.0 0 1 0 2.0 0a1.0 1.0 0 1 0 -2.0 0zM893.1 386.5a1.0 1.0 0 1 0 2.1 0a1.0 1.0 0 1 0 -2.1 0zM852.5 667.1a1.1 1.1 0 1 0 2.3 0a1.1 1.1 0 1 0 -2.3 0zM929.3 428.7a1.2 1.2 0 1 0 2.4 0a1.2 1.2 0 1 0 -2.4 0zM808.4 615.5a0.9 0.9 0 1 0 1.8 0a0.9 0.9 0 1 0 -1.8 0zM825.6 396.4a1.0 1.0 0 1 0 2.0 0a1.0 1.0 0 1 0 -2.0 0zM915.3 362.8a1.0 1.0 0 1 0 2.1 0a1.0 1.0 0 1 0 -2.1 0zM937.8 463.4a1.2 1.2 0 1 0 2.4 0a1.2 1.2 0 1 0 -2.4 0zM945.6 670.8a0.8 0.8 0 1 0 1.6 0a0.8 0.8 0 1 0 -1.6 0zM862.7 413.9a1.1 1.1 0 1 0 2.1 0a1.1 1.1 0 1 0 -2.1 0zM907.7 365.6a1.3 1.3 0 1 0 2.7 0a1.3 1.3 0 1 0 -2.7 0zM872.6 514.9a1.0 1.0 0 1 0 2.1 0a1.0 1.0 0 1 0 -2.1 0zM817.4 657.5a1.2 1.2 0 1 0 2.5 0a1.2 1.2 0 1 0 -2.5 0zM945.2 575.7a1.0 1.0 0 1 0 2.1 0a1.0 1.0 0 1 0 -2.1 0zM834.0 487.5a1.3 1.3 0 1 0 2.6 0a1.3 1.3 0 1 0 -2.6 0zM919.3 403.9a1.0 1.0 0 1 0 1.9 0a1.0 1.0 0 1 0 -1.9 0zM791.9 567.5a1.2 1.2 0 1 0 2.3 0a1.2 1.2 0 1 0 -2.3 0zM808.0 517.7a1.0 1.0 0 1 0 1.9 0a1.0 1.0 0 1 0 -1.9 0zM773.3 668.1a0.9 0.9 0 1 0 1.8 0a0.9 0.9 0 1 0 -1.8 0zM822.4 545.0a1.2 1.2 0 1 0 2.3 0a1.2 1.2 0 1 0 -2.3 0zM768.8 421.1a1.2 1.2 0 1 0 2.4 0a1.2 1.2 0 1 0 -2.4 0zM855.2 610.8a1.3 1.3 0 1 0 2.6 0a1.3 1.3 0 1 0 -2.6 0zM882.3 650.6a0.9 0.9 0 1 0 1.8 0a0.9 0.9 0 1 0 -1.8 0zM937.7 626.5a0.9 0.9 0 1 0 1.8 0a0.9 0.9 0 1 0 -1.8 0zM914.0 521.7a1.3 1.3 0 1 0 2.5 0a1.3 1.3 0 1 0 -2.5 0zM932.9 653.8a0.8 0.8 0 1 0 1.6 0a0.8 0.8 0 1 0 -1.6 0zM885.5 508.7a1.0 1.0 0 1 0 2.0 0a1.0 1.0 0 1 0 -2.0 0zM920.5 449.8a1.0 1.0 0 1 0 2.0 0a1.0 1.0 0 1 0 -2.0 0zM838.0 432.6a0.9 0.9 0 1 0 1.8 0a0.9 0.9 0 1 0 -1.8 0zM898.2 399.0a0.9 0.9 0 1 0 1.7 0a0.9 0.9 0 1 0 -1.7 0zM833.4 665.0a1.2 1.2 0 1 0 2.4 0a1.2 1.2 0 1 0 -2.4 0zM887.8 608.7a1.0 1.0 0 1 0 2.0 0a1.0 1.0 0 1 0 -2.0 0zM842.3 662.3a1.4 1.4 0 1 0 2.8 0a1.4 1.4 0 1 0 -2.8 0zM870.2 561.6a1.2 1.2 0 1 0 2.3 0a1.2 1.2 0 1 0 -2.3 0zM873.3 472.0a1.0 1.0 0 1 0 1.9 0a1.0 1.0 0 1 0 -1.9 0zM881.8 518.1a1.0 1.0 0 1 0 2.0 0a1.0 1.0 0 1 0 -2.0 0zM784.9 466.4a1.1 1.1 0 1 0 2.2 0a1.1 1.1 0 1 0 -2.2 0zM781.9 394.1a1.3 1.3 0 1 0 2.6 0a1.3 1.3 0 1 0 -2.6 0zM911.8 463.0a1.2 1.2 0 1 0 2.3 0a1.2 1.2 0 1 0 -2.3 0zM768.7 382.7a0.9 0.9 0 1 0 1.7 0a0.9 0.9 0 1 0 -1.7 0zM852.3 597.6a1.2 1.2 0 1 0 2.5 0a1.2 1.2 0 1 0 -2.5 0zM801.4 398.3a0.9 0.9 0 1 0 1.9 0a0.9 0.9 0 1 0 -1.9 0zM795.9 479.6a0.9 0.9 0 1 0 1.8 0a0.9 0.9 0 1 0 -1.8 0zM843.7 518.2a1.2 1.2 0 1 0 2.5 0a1.2 1.2 0 1 0 -2.5 0zM785.4 575.6a1.0 1.0 0 1 0 2.1 0a1.0 1.0 0 1 0 -2.1 0zM781.3 450.9a1.1 1.1 0 1 0 2.1 0a1.1 1.1 0 1 0 -2.1 0zM886.5 613.3a1.3 1.3 0 1 0 2.7 0a1.3 1.3 0 1 0 -2.7 0zM932.6 426.4a0.8 0.8 0 1 0 1.7 0a0.8 0.8 0 1 0 -1.7 0zM916.5 664.5a1.0 1.0 0 1 0 2.0 0a1.0 1.0 0 1 0 -2.0 0zM928.9 661.9a0.9 0.9 0 1 0 1.9 0a0.9 0.9 0 1 0 -1.9 0zM838.8 397.4a0.8 0.8 0 1 0 1.7 0a0.8 0.8 0 1 0 -1.7 0zM913.4 539.9a1.2 1.2 0 1 0 2.5 0a1.2 1.2 0 1 0 -2.5 0zM779.3 447.9a1.2 1.2 0 1 0 2.4 0a1.2 1.2 0 1 0 -2.4 0zM811.1 435.6a1.0 1.0 0 1 0 2.0 0a1.0 1.0 0 1 0 -2.0 0zM846.4 476.7a0.9 0.9 0 1 0 1.9 0a0.9 0.9 0 1 0 -1.9 0zM869.7 578.4a1.1 1.1 0 1 0 2.2 0a1.1 1.1 0 1 0 -2.2 0zM872.9 651.2a0.9 0.9 0 1 0 1.8 0a0.9 0.9 0 1 0 -1.8 0zM943.0 656.4a1.3 1.3 0 1 0 2.5 0a1.3 1.3 0 1 0 -2.5 0zM920.5 511.5a0.8 0.8 0 1 0 1.6 0a0.8 0.8 0 1 0 -1.6 0zM784.6 469.1a1.2 1.2 0 1 0 2.4 0a1.2 1.2 0 1 0 -2.4 0zM944.2 591.3a1.1 1.1 0 1 0 2.2 0a1.1 1.1 0 1 0 -2.2 0zM842.8 644.5a1.0 1.0 0 1 0 1.9 0a1.0 1.0 0 1 0 -1.9 0zM917.0 576.5a0.9 0.9 0 1 0 1.7 0a0.9 0.9 0 1 0 -1.7 0zM780.4 645.0a1.1 1.1 0 1 0 2.1 0a1.1 1.1 0 1 0 -2.1 0zM936.2 364.1a1.2 1.2 0 1 0 2.4 0a1.2 1.2 0 1 0 -2.4 0z"/>
<filter id="gr21" x="0" y="0" width="1" height="1" color-interpolation-filters="sRGB"><feTurbulence type="fractalNoise" baseFrequency="0.85" numOctaves="2" seed="15"/><feColorMatrix type="matrix" values="0 0 0 0 1 0 0 0 0 1 0 0 0 0 1 5 0 0 0 -3.4"/></filter>
<rect x="954.2" y="358" width="187.8" height="315" filter="url(#gr21)" opacity="0.15"/>
<path fill="rgb(90,90,90)" d="M1033 412h1.3v1.3h-1.3zM968 498h1.3v1.3h-1.3zM1012 637h1.3v1.3h-1.3zM1054 405h1.3v1.3h-1.3zM996 667h1.3v1.3h-1.3zM1137 596h1.3v1.3h-1.3zM1012 646h1.3v1.3h-1.3zM995 393h1.3v1.3h-1.3zM1100 663h1.3v1.3h-1.3zM959 654h1.3v1.3h-1.3zM976 639h1.3v1.3h-1.3zM1065 520h1.3v1.3h-1.3zM1031 626h1.3v1.3h-1.3zM999 668h1.3v1.3h-1.3zM1014 470h1.3v1.3h-1.3zM979 457h1.3v1.3h-1.3zM1100 491h1.3v1.3h-1.3zM1064 669h1.3v1.3h-1.3zM1056 557h1.3v1.3h-1.3zM1033 497h1.3v1.3h-1.3zM956 646h1.3v1.3h-1.3zM1026 369h1.3v1.3h-1.3zM1029 480h1.3v1.3h-1.3zM1129 446h1.3v1.3h-1.3zM1075 605h1.3v1.3h-1.3zM1064 405h1.3v1.3h-1.3zM1073 527h1.3v1.3h-1.3zM1039 494h1.3v1.3h-1.3zM1110 377h1.3v1.3h-1.3zM1038 529h1.3v1.3h-1.3zM1104 555h1.3v1.3h-1.3zM1112 550h1.3v1.3h-1.3zM1059 458h1.3v1.3h-1.3zM1030 364h1.3v1.3h-1.3z"/>
<path fill="rgb(170,170,170)" d="M1094 476h1.3v1.3h-1.3zM1038 535h1.3v1.3h-1.3zM976 491h1.3v1.3h-1.3zM995 473h1.3v1.3h-1.3zM958 624h1.3v1.3h-1.3zM1106 529h1.3v1.3h-1.3zM1024 476h1.3v1.3h-1.3zM1034 607h1.3v1.3h-1.3zM999 546h1.3v1.3h-1.3zM972 661h1.3v1.3h-1.3zM999 499h1.3v1.3h-1.3zM1037 568h1.3v1.3h-1.3zM1073 517h1.3v1.3h-1.3zM1064 409h1.3v1.3h-1.3zM1026 490h1.3v1.3h-1.3zM1132 568h1.3v1.3h-1.3zM1051 531h1.3v1.3h-1.3zM980 671h1.3v1.3h-1.3zM1011 539h1.3v1.3h-1.3zM1038 429h1.3v1.3h-1.3zM1130 560h1.3v1.3h-1.3zM1025 451h1.3v1.3h-1.3zM1029 411h1.3v1.3h-1.3zM1040 662h1.3v1.3h-1.3zM1046 635h1.3v1.3h-1.3zM1002 661h1.3v1.3h-1.3zM959 579h1.3v1.3h-1.3z"/>
<path fill="rgb(130,130,130)" d="M1085 525h1.3v1.3h-1.3zM1072 451h1.3v1.3h-1.3zM1072 364h1.3v1.3h-1.3zM1077 525h1.3v1.3h-1.3zM987 482h1.3v1.3h-1.3zM1037 651h1.3v1.3h-1.3zM1138 405h1.3v1.3h-1.3zM1098 438h1.3v1.3h-1.3zM983 493h1.3v1.3h-1.3zM992 592h1.3v1.3h-1.3zM1081 529h1.3v1.3h-1.3zM1125 464h1.3v1.3h-1.3zM974 620h1.3v1.3h-1.3zM992 614h1.3v1.3h-1.3zM1041 558h1.3v1.3h-1.3zM1109 366h1.3v1.3h-1.3zM1112 530h1.3v1.3h-1.3zM1066 619h1.3v1.3h-1.3zM1023 535h1.3v1.3h-1.3zM1058 577h1.3v1.3h-1.3zM1048 598h1.3v1.3h-1.3zM1014 652h1.3v1.3h-1.3zM1014 495h1.3v1.3h-1.3zM1117 521h1.3v1.3h-1.3zM1070 578h1.3v1.3h-1.3zM973 381h1.3v1.3h-1.3zM1041 469h1.3v1.3h-1.3zM964 455h1.3v1.3h-1.3zM980 367h1.3v1.3h-1.3zM1118 589h1.3v1.3h-1.3zM1130 456h1.3v1.3h-1.3zM1064 555h1.3v1.3h-1.3zM987 596h1.3v1.3h-1.3zM979 641h1.3v1.3h-1.3zM1028 378h1.3v1.3h-1.3zM1079 557h1.3v1.3h-1.3z"/>
<path fill="rgb(210,210,210)" d="M1013 420h1.3v1.3h-1.3zM1017 639h1.3v1.3h-1.3zM1098 493h1.3v1.3h-1.3zM1024 533h1.3v1.3h-1.3zM1114 468h1.3v1.3h-1.3zM1027 667h1.3v1.3h-1.3zM960 581h1.3v1.3h-1.3zM1027 601h1.3v1.3h-1.3zM988 524h1.3v1.3h-1.3zM1132 361h1.3v1.3h-1.3zM1064 506h1.3v1.3h-1.3zM1067 371h1.3v1.3h-1.3zM1123 416h1.3v1.3h-1.3zM1037 608h1.3v1.3h-1.3zM1074 561h1.3v1.3h-1.3zM1090 432h1.3v1.3h-1.3zM1041 671h1.3v1.3h-1.3zM1089 398h1.3v1.3h-1.3zM1117 606h1.3v1.3h-1.3zM981 598h1.3v1.3h-1.3zM1016 661h1.3v1.3h-1.3zM963 484h1.3v1.3h-1.3zM955 378h1.3v1.3h-1.3z"/>
<path fill="#fff" d="M1101.5 592.2a0.9 0.9 0 1 0 1.7 0a0.9 0.9 0 1 0 -1.7 0zM1020.2 612.2a1.2 1.2 0 1 0 2.5 0a1.2 1.2 0 1 0 -2.5 0zM966.7 540.2a1.1 1.1 0 1 0 2.2 0a1.1 1.1 0 1 0 -2.2 0zM1002.8 633.2a0.9 0.9 0 1 0 1.7 0a0.9 0.9 0 1 0 -1.7 0zM1006.6 641.6a1.0 1.0 0 1 0 2.1 0a1.0 1.0 0 1 0 -2.1 0zM1110.6 409.7a1.2 1.2 0 1 0 2.5 0a1.2 1.2 0 1 0 -2.5 0zM1086.9 617.2a1.2 1.2 0 1 0 2.4 0a1.2 1.2 0 1 0 -2.4 0zM965.3 622.8a0.9 0.9 0 1 0 1.9 0a0.9 0.9 0 1 0 -1.9 0zM1105.1 398.6a0.8 0.8 0 1 0 1.6 0a0.8 0.8 0 1 0 -1.6 0zM1072.1 557.8a0.9 0.9 0 1 0 1.8 0a0.9 0.9 0 1 0 -1.8 0zM1005.8 540.0a1.3 1.3 0 1 0 2.6 0a1.3 1.3 0 1 0 -2.6 0zM969.3 591.2a0.9 0.9 0 1 0 1.8 0a0.9 0.9 0 1 0 -1.8 0zM1049.9 445.8a1.1 1.1 0 1 0 2.3 0a1.1 1.1 0 1 0 -2.3 0zM969.2 634.0a1.2 1.2 0 1 0 2.4 0a1.2 1.2 0 1 0 -2.4 0zM956.6 392.7a1.0 1.0 0 1 0 2.0 0a1.0 1.0 0 1 0 -2.0 0zM987.1 488.7a1.0 1.0 0 1 0 2.1 0a1.0 1.0 0 1 0 -2.1 0zM1009.2 670.5a1.1 1.1 0 1 0 2.2 0a1.1 1.1 0 1 0 -2.2 0zM983.9 667.2a1.2 1.2 0 1 0 2.4 0a1.2 1.2 0 1 0 -2.4 0zM967.6 463.8a1.2 1.2 0 1 0 2.4 0a1.2 1.2 0 1 0 -2.4 0zM1082.4 667.5a1.2 1.2 0 1 0 2.5 0a1.2 1.2 0 1 0 -2.5 0zM1065.2 493.3a1.0 1.0 0 1 0 1.9 0a1.0 1.0 0 1 0 -1.9 0zM964.5 557.9a0.9 0.9 0 1 0 1.7 0a0.9 0.9 0 1 0 -1.7 0zM1024.9 603.3a0.9 0.9 0 1 0 1.8 0a0.9 0.9 0 1 0 -1.8 0zM1047.3 496.1a0.9 0.9 0 1 0 1.9 0a0.9 0.9 0 1 0 -1.9 0zM1101.0 395.3a1.0 1.0 0 1 0 2.0 0a1.0 1.0 0 1 0 -2.0 0zM1044.6 505.2a0.9 0.9 0 1 0 1.8 0a0.9 0.9 0 1 0 -1.8 0zM1119.2 441.3a0.9 0.9 0 1 0 1.8 0a0.9 0.9 0 1 0 -1.8 0zM1113.9 430.7a1.2 1.2 0 1 0 2.4 0a1.2 1.2 0 1 0 -2.4 0zM1060.8 547.3a1.0 1.0 0 1 0 2.1 0a1.0 1.0 0 1 0 -2.1 0zM1108.9 585.1a1.1 1.1 0 1 0 2.1 0a1.1 1.1 0 1 0 -2.1 0zM1088.4 567.0a1.2 1.2 0 1 0 2.4 0a1.2 1.2 0 1 0 -2.4 0zM996.0 665.9a0.9 0.9 0 1 0 1.7 0a0.9 0.9 0 1 0 -1.7 0zM961.3 669.8a1.1 1.1 0 1 0 2.2 0a1.1 1.1 0 1 0 -2.2 0zM972.4 587.5a1.1 1.1 0 1 0 2.1 0a1.1 1.1 0 1 0 -2.1 0zM1075.5 657.1a1.1 1.1 0 1 0 2.3 0a1.1 1.1 0 1 0 -2.3 0zM979.9 365.9a0.8 0.8 0 1 0 1.7 0a0.8 0.8 0 1 0 -1.7 0zM1046.1 652.0a1.2 1.2 0 1 0 2.5 0a1.2 1.2 0 1 0 -2.5 0zM1052.2 491.7a1.0 1.0 0 1 0 2.0 0a1.0 1.0 0 1 0 -2.0 0zM1033.6 602.4a1.1 1.1 0 1 0 2.3 0a1.1 1.1 0 1 0 -2.3 0zM1131.6 661.1a1.0 1.0 0 1 0 1.9 0a1.0 1.0 0 1 0 -1.9 0zM1113.6 490.6a1.2 1.2 0 1 0 2.5 0a1.2 1.2 0 1 0 -2.5 0zM1010.8 512.3a1.0 1.0 0 1 0 1.9 0a1.0 1.0 0 1 0 -1.9 0zM973.3 360.5a0.8 0.8 0 1 0 1.6 0a0.8 0.8 0 1 0 -1.6 0zM1017.8 459.2a0.9 0.9 0 1 0 1.8 0a0.9 0.9 0 1 0 -1.8 0zM992.7 384.4a1.1 1.1 0 1 0 2.2 0a1.1 1.1 0 1 0 -2.2 0zM1043.3 550.7a1.2 1.2 0 1 0 2.4 0a1.2 1.2 0 1 0 -2.4 0zM984.6 422.6a1.0 1.0 0 1 0 1.9 0a1.0 1.0 0 1 0 -1.9 0zM1034.9 585.2a0.9 0.9 0 1 0 1.7 0a0.9 0.9 0 1 0 -1.7 0zM1017.2 421.7a1.0 1.0 0 1 0 2.0 0a1.0 1.0 0 1 0 -2.0 0zM1032.5 639.5a1.1 1.1 0 1 0 2.3 0a1.1 1.1 0 1 0 -2.3 0zM1050.3 404.2a1.1 1.1 0 1 0 2.1 0a1.1 1.1 0 1 0 -2.1 0zM1135.6 571.5a1.2 1.2 0 1 0 2.5 0a1.2 1.2 0 1 0 -2.5 0zM985.8 610.7a1.0 1.0 0 1 0 2.0 0a1.0 1.0 0 1 0 -2.0 0zM964.6 429.2a1.0 1.0 0 1 0 2.0 0a1.0 1.0 0 1 0 -2.0 0zM1015.2 665.1a1.2 1.2 0 1 0 2.4 0a1.2 1.2 0 1 0 -2.4 0z"/>
<line x1="953.2" y1="358.0" x2="953.2" y2="673.0" stroke="#bbb" stroke-width="1.3" stroke-dasharray="1.5 1.5"/>
<text x="462.7" y="396.2" font-size="28" font-weight="bold" text-anchor="middle" fill="#fff">Cy5</text>
<text x="650.1" y="396.2" font-size="28" font-weight="bold" text-anchor="middle" fill="#fff">Cy3</text>
<text x="859.5" y="396.2" font-size="28" font-weight="bold" text-anchor="middle" fill="#fff">Cy5</text>
<text x="1047.2" y="396.2" font-size="28" font-weight="bold" text-anchor="middle" fill="#fff">Cy3</text>
<g transform="rotate(2 274.5 634)">
<ellipse cx="274.5" cy="657.5" rx="57" ry="17" fill="#BDBDBD"/>
<ellipse cx="274.5" cy="652.8" rx="57" ry="17" fill="#2C9AD0"/>
<ellipse cx="274.5" cy="646.2" rx="57" ry="17" fill="#CFE9F6"/>
<ellipse cx="274.5" cy="645.0" rx="57" ry="17" fill="#2C9AD0"/>
<ellipse cx="274.5" cy="636.4" rx="57" ry="17" fill="#DADADA"/>
<ellipse cx="274.5" cy="649.5" rx="57" ry="17" fill="none" stroke="#9AD3EE" stroke-width="1.3" stroke-dasharray="2 4"/>
<ellipse cx="274.5" cy="641.0" rx="57" ry="17" fill="none" stroke="#9AD3EE" stroke-width="1.3" stroke-dasharray="2 4"/>
<ellipse cx="274.5" cy="634" rx="57" ry="17" fill="#C6C6C6"/>
<ellipse cx="274.5" cy="634" rx="57" ry="17" fill="none" stroke="#B5B5B5" stroke-width="1" stroke-dasharray="1.5 2"/>
</g>
<line x1="271.7" y1="588.6" x2="276.6" y2="617.0" stroke="#222" stroke-width="2.5"/>
<path d="M287.0,369.0 C288.8,368.3 291.8,370.2 294.0,374.0 C296.2,377.8 298.5,385.2 300.0,392.0 C301.5,398.8 302.3,402.0 303.0,415.0 C303.7,428.0 304.2,449.2 304.0,470.0 C303.8,490.8 303.0,520.8 302.0,540.0 C301.0,559.2 299.7,574.8 298.0,585.0 C296.3,595.2 294.2,598.2 292.0,601.0 C289.8,603.8 287.0,603.5 285.0,602.0 C283.0,600.5 281.2,597.3 280.0,592.0 C278.8,586.7 278.2,582.0 278.0,570.0 C277.8,558.0 278.5,540.0 279.0,520.0 C279.5,500.0 280.5,470.0 281.0,450.0 C281.5,430.0 281.7,412.0 282.0,400.0 C282.3,388.0 282.2,383.2 283.0,378.0 C283.8,372.8 285.2,369.7 287.0,369.0Z" fill="#E53F23"/>
<path d="M266.0,370.0 C269.3,367.0 273.2,369.5 276.0,372.0 C278.8,374.5 281.0,377.0 283.0,385.0 C285.0,393.0 286.7,404.2 288.0,420.0 C289.3,435.8 290.3,460.0 291.0,480.0 C291.7,500.0 292.2,524.2 292.0,540.0 C291.8,555.8 291.7,567.0 290.0,575.0 C288.3,583.0 285.3,585.5 282.0,588.0 C278.7,590.5 274.0,590.3 270.0,590.0 C266.0,589.7 261.3,588.5 258.0,586.0 C254.7,583.5 252.0,581.0 250.0,575.0 C248.0,569.0 246.5,564.2 246.0,550.0 C245.5,535.8 246.2,510.0 247.0,490.0 C247.8,470.0 249.5,446.7 251.0,430.0 C252.5,413.3 253.5,400.0 256.0,390.0 C258.5,380.0 262.7,373.0 266.0,370.0Z" fill="#fff" stroke="#8A8A8A" stroke-width="1.8"/>
<path d="M250.0,366.0 C252.3,365.7 255.2,366.0 257.0,368.0 C258.8,370.0 260.7,372.7 261.0,378.0 C261.3,383.3 260.3,389.7 259.0,400.0 C257.7,410.3 254.7,425.0 253.0,440.0 C251.3,455.0 249.5,473.3 249.0,490.0 C248.5,506.7 249.0,525.8 250.0,540.0 C251.0,554.2 253.2,566.3 255.0,575.0 C256.8,583.7 260.7,587.7 261.0,592.0 C261.3,596.3 258.8,599.5 257.0,601.0 C255.2,602.5 252.5,602.2 250.0,601.0 C247.5,599.8 244.3,599.2 242.0,594.0 C239.7,588.8 237.8,582.3 236.0,570.0 C234.2,557.7 232.1,536.7 231.0,520.0 C229.9,503.3 229.5,486.7 229.5,470.0 C229.5,453.3 229.9,433.3 231.0,420.0 C232.1,406.7 234.0,398.3 236.0,390.0 C238.0,381.7 240.7,374.0 243.0,370.0 C245.3,366.0 247.7,366.3 250.0,366.0Z" fill="#E53F23"/>
<path d="M270.0,369.0 C272.3,368.3 274.7,370.2 278.0,374.0 C281.3,377.8 286.3,385.7 290.0,392.0 C293.7,398.3 297.3,405.7 300.0,412.0 C302.7,418.3 303.8,423.7 306.0,430.0 C308.2,436.3 311.2,441.7 313.0,450.0 C314.8,458.3 316.2,468.3 317.0,480.0 C317.8,491.7 318.5,508.3 318.0,520.0 C317.5,531.7 315.8,540.8 314.0,550.0 C312.2,559.2 309.3,568.7 307.0,575.0 C304.7,581.3 302.0,586.0 300.0,588.0 C298.0,590.0 296.7,590.0 295.0,587.0 C293.3,584.0 291.5,577.0 290.0,570.0 C288.5,563.0 288.0,555.0 286.0,545.0 C284.0,535.0 280.5,520.8 278.0,510.0 C275.5,499.2 273.0,491.7 271.0,480.0 C269.0,468.3 267.3,453.3 266.0,440.0 C264.7,426.7 263.3,410.3 263.0,400.0 C262.7,389.7 262.8,383.2 264.0,378.0 C265.2,372.8 267.7,369.7 270.0,369.0Z" fill="#5F8D55"/>
<path d="M276.5,374.7 C277,362 280,357 282.4,358 C285,359 286,364 285.3,371" fill="none" stroke="#222" stroke-width="2.2"/>
<path d="M251,587.5 L255,602 L260,589.4" fill="none" stroke="#222" stroke-width="2.2"/>
<g transform="rotate(3 1220 630.6)">
<ellipse cx="1220" cy="657.6" rx="53" ry="16" fill="#BDBDBD"/>
<ellipse cx="1220" cy="652.2" rx="53" ry="16" fill="#2C9AD0"/>
<ellipse cx="1220" cy="644.6" rx="53" ry="16" fill="#CFE9F6"/>
<ellipse cx="1220" cy="643.3" rx="53" ry="16" fill="#2C9AD0"/>
<ellipse cx="1220" cy="633.3" rx="53" ry="16" fill="#DADADA"/>
<ellipse cx="1220" cy="648.4" rx="53" ry="16" fill="none" stroke="#9AD3EE" stroke-width="1.3" stroke-dasharray="2 4"/>
<ellipse cx="1220" cy="638.7" rx="53" ry="16" fill="none" stroke="#9AD3EE" stroke-width="1.3" stroke-dasharray="2 4"/>
<ellipse cx="1220" cy="630.6" rx="53" ry="16" fill="#C6C6C6"/>
<ellipse cx="1220" cy="630.6" rx="53" ry="16" fill="none" stroke="#B5B5B5" stroke-width="1" stroke-dasharray="1.5 2"/>
</g>
<line x1="1223.6" y1="589.0" x2="1227.5" y2="615.5" stroke="#222" stroke-width="2.2"/>
<path d="M1217.5,374.3 C1229.5,374.3 1236.6,434.3 1238.6,521.65 C1240.6,564 1234.6,589 1221.3,589 C1204,589 1200,559 1198,481.65 C1196,414.3 1207.5,374.3 1217.5,374.3 Z" fill="#fff" stroke="#8A8A8A" stroke-width="1.8"/>
<g transform="rotate(4 124.7 920.5)">
<ellipse cx="124.7" cy="936.0" rx="44" ry="14.5" fill="#BDBDBD"/>
<ellipse cx="124.7" cy="932.9" rx="44" ry="14.5" fill="#2C9AD0"/>
<ellipse cx="124.7" cy="928.6" rx="44" ry="14.5" fill="#CFE9F6"/>
<ellipse cx="124.7" cy="927.8" rx="44" ry="14.5" fill="#2C9AD0"/>
<ellipse cx="124.7" cy="922.0" rx="44" ry="14.5" fill="#DADADA"/>
<ellipse cx="124.7" cy="930.7" rx="44" ry="14.5" fill="none" stroke="#9AD3EE" stroke-width="1.3" stroke-dasharray="2 4"/>
<ellipse cx="124.7" cy="925.1" rx="44" ry="14.5" fill="none" stroke="#9AD3EE" stroke-width="1.3" stroke-dasharray="2 4"/>
<ellipse cx="124.7" cy="920.5" rx="44" ry="14.5" fill="#C6C6C6"/>
<ellipse cx="124.7" cy="920.5" rx="44" ry="14.5" fill="none" stroke="#B5B5B5" stroke-width="1" stroke-dasharray="1.5 2"/>
</g>
<line x1="123.0" y1="886.0" x2="126.5" y2="906.0" stroke="#222" stroke-width="2"/>
<path d="M118.7,723.8 C130.7,723.8 133,783.8 135,844.75 C137,860.7 131,885.7 122.5,885.7 C110,885.7 106,855.7 104,804.75 C102,763.8 108.7,723.8 118.7,723.8 Z" fill="#fff" stroke="#8A8A8A" stroke-width="1.8"/>
<text transform="translate(185.0,826.8) scale(0.9727,1)" font-size="29.3" letter-spacing="0.3">Vamp nanodisc</text>
<ellipse cx="575" cy="814" rx="14" ry="86" fill="#E53F23"/>
<ellipse cx="602.6" cy="816.5" rx="15.6" ry="86" fill="#E53F23"/>
<path d="M601,722 C598,722 590,735 586,760 C582,780 580,790 580,805 C580,830 586,835 585,845 C584,870 582,890 580,902 L576,895" fill="none" stroke="#262626" stroke-width="4.5" stroke-linecap="round"/>
<text transform="translate(644.0,826.3) scale(0.9727,1)" font-size="29.3"><tspan font-size="24.3">N</tspan>SN25-Cy5</text>
<path d="M967,727 C961,727 960,740 961,760 C963,800 975,840 984,880 C986,892 988,898 990,897 C994,897 1000,870 1003,840 C1006,810 1005,795 1002,785 C996,770 985,745 978,735 C974,729 971,727 967,727 Z" fill="#5F8D55"/>
<text transform="translate(1033.5,826.8) scale(0.9727,1)" font-size="29.3"><tspan font-size="24.3">N</tspan>Stx soluble-Cy3</text>
<text x="-1.3" y="1018.6" font-size="32.5" font-weight="bold">c</text>
<clipPath id="c1"><rect x="87.8" y="1026.7" width="553.4000000000001" height="135.5"/></clipPath>
<g clip-path="url(#c1)">
<path d="M88.3,1058.1 L93.2,1060.5 L98.0,1053.2 L102.1,1052.4 L106.9,1066.2 L115.9,1074.3 L120.7,1067.0 L125.6,1071.8 L130.4,1065.4 L134.5,1048.3 L139.3,1065.4 L144.2,1038.6 L149.1,1064.5 L153.9,1050.8 L158.0,1057.3 L162.8,1036.2 L167.4,1055.6 L171.7,1044.3 L176.6,1055.6 L185.5,1061.3 L189.6,1052.4 L194.4,1073.5 L199.3,1058.9 L203.7,1071.8 L213.0,1051.6 L217.9,1066.2 L226.8,1057.3 L231.7,1058.1 L235.7,1084.8 L240.6,1074.3 L245.4,1075.1 L250.3,1079.1 L254.4,1058.9 L258.7,1069.4 L263.3,1062.9 L268.1,1076.7 L273.0,1084.8 L277.8,1130.2 L282.7,1133.4 L287.6,1135.8 L291.6,1130.2 L296.5,1134.2 L300.5,1136.6 L305.4,1139.9 L310.2,1128.5 L315.1,1135.8 L320.0,1136.6 L324.8,1135.0 L329.7,1131.8 L340.0,1136.8 L346.5,1134.3 L351.3,1136.8 L356.2,1140.0 L361.1,1138.4 L365.1,1135.2 L370.0,1128.7 L374.0,1136.8 L378.9,1131.9 L382.9,1135.2 L387.8,1138.4 L392.6,1137.6 L397.5,1132.7 L401.6,1139.2 L406.4,1135.2 L411.3,1140.8 L415.3,1144.1 L420.2,1139.2 L425.0,1140.8 L429.1,1141.6 L434.0,1139.2 L438.0,1132.7 L442.9,1145.7 L447.7,1144.1 L452.6,1136.8 L457.4,1137.6 L461.5,1144.9 L466.3,1129.5 L470.9,1138.4 L476.1,1143.3 L480.1,1133.5 L485.0,1140.8 L489.0,1137.6 L493.9,1141.6 L498.7,1150.5 L502.8,1138.4 L507.7,1137.6 L512.5,1143.3 L517.4,1144.9 L521.4,1144.1 L526.3,1131.1 L531.1,1136.8 L535.2,1140.0 L540.1,1144.9 L544.1,1145.7 L549.0,1147.3 L553.8,1140.0 L558.7,1140.8 L563.5,1154.6 L567.6,1142.4 L572.5,1140.8 L577.3,1142.4 L582.2,1136.8 L586.2,1144.1 L591.1,1144.9 L595.9,1136.8 L600.0,1138.4 L604.8,1139.2 L609.7,1140.8 L613.8,1146.5 L618.6,1143.3 L623.5,1138.4 L628.3,1136.8 L632.4,1140.8 L636.4,1143.3 L638.2,1138.4" fill="none" stroke="#FF0000" stroke-width="3.6" stroke-linejoin="round" stroke-linecap="round"/>
<path d="M88.3,1135.8 L93.2,1131.8 L98.0,1140.7 L102.1,1131.8 L106.9,1135.0 L111.8,1133.4 L120.7,1130.2 L125.6,1133.4 L130.4,1138.3 L135.3,1133.4 L140.2,1129.3 L145.0,1131.0 L149.1,1132.6 L153.9,1142.3 L158.0,1138.3 L162.8,1138.3 L167.4,1138.3 L171.7,1125.3 L176.6,1143.1 L181.5,1139.1 L185.5,1135.8 L190.4,1143.9 L194.4,1122.1 L199.3,1137.4 L203.7,1130.2 L208.2,1133.4 L213.0,1142.3 L217.9,1127.7 L222.0,1128.5 L226.8,1136.6 L231.7,1137.4 L236.0,1140.7 L240.6,1126.9 L245.4,1135.8 L250.3,1127.7 L254.4,1140.7 L258.7,1141.5 L263.3,1130.2 L268.1,1127.7 L273.0,1137.4 L277.8,1133.4 L282.7,1137.4 L287.6,1139.1 L291.6,1145.5 L296.5,1143.1 L300.5,1141.5 L305.4,1140.7 L310.2,1148.8 L315.1,1149.6 L320.0,1136.6 L324.0,1136.6 L328.9,1159.3 L340.0,1140.0 L346.5,1132.7 L351.3,1153.8 L356.2,1136.8 L360.2,1139.2 L365.1,1153.0 L370.0,1146.5 L374.0,1145.7 L378.9,1133.5 L382.9,1143.3 L387.8,1140.8 L392.6,1140.0 L397.5,1145.7 L402.4,1141.6 L406.4,1136.8 L411.3,1136.8 L416.1,1137.6 L420.2,1140.8 L425.0,1134.3 L429.1,1136.8 L434.0,1129.5 L438.0,1141.6 L442.9,1136.8 L447.7,1137.6 L452.6,1144.9 L457.4,1136.8 L461.5,1143.3 L466.3,1136.8 L470.4,1136.8 L475.3,1135.2 L480.1,1140.0 L485.0,1130.3 L489.0,1131.9 L493.9,1135.2 L497.9,1138.4 L502.8,1134.3 L507.7,1132.7 L512.5,1140.0 L517.4,1141.6 L521.4,1135.2 L526.3,1148.9 L531.1,1133.5 L535.2,1152.2 L540.1,1135.2 L544.1,1144.9 L549.0,1150.5 L553.8,1135.2 L558.7,1145.7 L562.7,1133.5 L567.6,1150.5 L572.5,1140.0 L577.3,1143.3 L581.4,1148.9 L586.2,1144.1 L591.1,1140.0 L595.9,1135.2 L600.0,1136.0 L604.8,1139.2 L609.7,1148.9 L613.8,1141.6 L618.6,1140.0 L623.5,1140.0 L628.3,1140.0 L632.4,1132.7 L636.4,1140.8 L638.2,1142.1" fill="none" stroke="#00FF0A" stroke-width="3.6" stroke-linejoin="round" stroke-linecap="round"/>
</g>
<line x1="87.8" y1="1032.7" x2="87.8" y2="1161.2" stroke="#000" stroke-width="2.2"/>
<line x1="81.8" y1="1138.6" x2="87.8" y2="1138.6" stroke="#000" stroke-width="2"/>
<text transform="translate(78.8,1146.3) scale(0.93,1)" font-size="25" font-weight="bold" text-anchor="end">0</text>
<line x1="81.8" y1="1095.0" x2="87.8" y2="1095.0" stroke="#000" stroke-width="2"/>
<text transform="translate(78.8,1102.7) scale(0.93,1)" font-size="25" font-weight="bold" text-anchor="end">100</text>
<line x1="81.8" y1="1051.3" x2="87.8" y2="1051.3" stroke="#000" stroke-width="2"/>
<text transform="translate(78.8,1059.0) scale(0.93,1)" font-size="25" font-weight="bold" text-anchor="end">200</text>
<line x1="86.8" y1="1160.2" x2="637.2" y2="1160.2" stroke="#000" stroke-width="2.2"/>
<line x1="176.4" y1="1160.2" x2="176.4" y2="1165.2" stroke="#000" stroke-width="2"/>
<text transform="translate(176.4,1188.7) scale(0.93,1)" font-size="25" font-weight="bold" text-anchor="middle">5</text>
<line x1="268.3" y1="1160.2" x2="268.3" y2="1165.2" stroke="#000" stroke-width="2"/>
<text transform="translate(268.3,1188.7) scale(0.93,1)" font-size="25" font-weight="bold" text-anchor="middle">10</text>
<line x1="360.2" y1="1160.2" x2="360.2" y2="1165.2" stroke="#000" stroke-width="2"/>
<text transform="translate(360.2,1188.7) scale(0.93,1)" font-size="25" font-weight="bold" text-anchor="middle">15</text>
<line x1="452.1" y1="1160.2" x2="452.1" y2="1165.2" stroke="#000" stroke-width="2"/>
<text transform="translate(452.1,1188.7) scale(0.93,1)" font-size="25" font-weight="bold" text-anchor="middle">20</text>
<line x1="544.0" y1="1160.2" x2="544.0" y2="1165.2" stroke="#000" stroke-width="2"/>
<text transform="translate(544.0,1188.7) scale(0.93,1)" font-size="25" font-weight="bold" text-anchor="middle">25</text>
<line x1="635.9" y1="1160.2" x2="635.9" y2="1165.2" stroke="#000" stroke-width="2"/>
<text transform="translate(635.9,1188.7) scale(0.93,1)" font-size="25" font-weight="bold" text-anchor="middle">30</text>
<line x1="130.4" y1="1160.2" x2="130.4" y2="1163.7" stroke="#000" stroke-width="1.8"/>
<line x1="222.3" y1="1160.2" x2="222.3" y2="1163.7" stroke="#000" stroke-width="1.8"/>
<line x1="314.2" y1="1160.2" x2="314.2" y2="1163.7" stroke="#000" stroke-width="1.8"/>
<line x1="406.1" y1="1160.2" x2="406.1" y2="1163.7" stroke="#000" stroke-width="1.8"/>
<line x1="498.0" y1="1160.2" x2="498.0" y2="1163.7" stroke="#000" stroke-width="1.8"/>
<line x1="590.0" y1="1160.2" x2="590.0" y2="1163.7" stroke="#000" stroke-width="1.8"/>
<clipPath id="c2"><rect x="87.8" y="1195" width="553.4000000000001" height="135.20000000000005"/></clipPath>
<g clip-path="url(#c2)">
<path d="M88.2,1229.8 L93.1,1225.0 L98.0,1246.8 L102.8,1237.9 L106.9,1215.2 L110.9,1241.2 L115.8,1242.8 L120.6,1233.1 L125.5,1244.4 L130.4,1234.7 L134.4,1233.1 L139.3,1223.3 L143.3,1245.2 L148.2,1244.4 L153.0,1253.3 L157.9,1247.6 L162.8,1257.4 L166.8,1245.2 L171.7,1242.8 L176.5,1233.1 L181.4,1244.4 L185.4,1235.5 L190.3,1254.1 L195.2,1247.6 L200.0,1243.6 L204.1,1256.6 L208.1,1233.9 L213.0,1242.0 L217.8,1245.2 L222.7,1240.4 L226.7,1254.1 L231.6,1248.5 L235.6,1225.0 L240.5,1240.4 L245.4,1245.2 L250.2,1244.4 L254.3,1227.4 L259.1,1242.0 L264.0,1237.9 L268.0,1212.8 L272.9,1220.9 L277.8,1229.8 L281.8,1293.8 L286.7,1301.1 L291.5,1297.9 L300.4,1298.7 L305.3,1302.7 L309.4,1297.9 L314.2,1302.7 L323.1,1304.3 L328.0,1306.8 L332.8,1302.7 L337.7,1305.2 L342.6,1303.5 L346.6,1299.5 L351.5,1309.2 L355.5,1306.8 L360.4,1298.7 L365.2,1295.4 L370.1,1301.9 L375.0,1306.8 L379.8,1306.0 L384.7,1300.3 L387.8,1310.8 L392.6,1297.1 L397.5,1311.6 L402.4,1304.3 L406.4,1300.3 L411.3,1293.0 L416.1,1291.4 L420.2,1301.1 L425.0,1295.4 L429.1,1316.5 L434.0,1300.3 L438.8,1296.2 L443.7,1305.2 L447.7,1311.6 L452.6,1304.3 L456.6,1313.3 L461.5,1301.9 L466.3,1306.8 L471.2,1309.2 L475.3,1311.6 L480.1,1303.5 L485.0,1296.2 L489.8,1300.3 L494.7,1304.3 L499.6,1309.2 L502.8,1290.6 L507.7,1309.2 L512.5,1309.2 L517.4,1298.7 L521.4,1305.2 L526.3,1297.9 L531.1,1291.4 L535.2,1306.0 L540.1,1306.8 L544.9,1308.4 L549.0,1312.4 L553.8,1301.9 L558.7,1297.9 L562.7,1304.3 L567.6,1306.8 L572.5,1306.8 L577.3,1310.0 L581.4,1296.2 L586.2,1306.8 L591.1,1301.9 L595.9,1293.8 L600.0,1302.7 L604.8,1289.8 L608.9,1302.7 L613.8,1317.3 L618.6,1304.3 L622.7,1297.9 L627.5,1308.4 L631.6,1294.6 L636.4,1297.9 L638.2,1292.5" fill="none" stroke="#FF0000" stroke-width="3.6" stroke-linejoin="round" stroke-linecap="round"/>
</g>
<line x1="87.8" y1="1201.0" x2="87.8" y2="1329.2" stroke="#000" stroke-width="2.2"/>
<line x1="81.8" y1="1304.3" x2="87.8" y2="1304.3" stroke="#000" stroke-width="2"/>
<text transform="translate(78.8,1312.0) scale(0.93,1)" font-size="25" font-weight="bold" text-anchor="end">0</text>
<line x1="81.8" y1="1258.3" x2="87.8" y2="1258.3" stroke="#000" stroke-width="2"/>
<text transform="translate(78.8,1266.0) scale(0.93,1)" font-size="25" font-weight="bold" text-anchor="end">75</text>
<line x1="81.8" y1="1212.4" x2="87.8" y2="1212.4" stroke="#000" stroke-width="2"/>
<text transform="translate(78.8,1220.1) scale(0.93,1)" font-size="25" font-weight="bold" text-anchor="end">150</text>
<line x1="86.8" y1="1328.2" x2="637.2" y2="1328.2" stroke="#000" stroke-width="2.2"/>
<line x1="176.4" y1="1328.2" x2="176.4" y2="1333.2" stroke="#000" stroke-width="2"/>
<text transform="translate(176.4,1356.2) scale(0.93,1)" font-size="25" font-weight="bold" text-anchor="middle">5</text>
<line x1="268.3" y1="1328.2" x2="268.3" y2="1333.2" stroke="#000" stroke-width="2"/>
<text transform="translate(268.3,1356.2) scale(0.93,1)" font-size="25" font-weight="bold" text-anchor="middle">10</text>
<line x1="360.2" y1="1328.2" x2="360.2" y2="1333.2" stroke="#000" stroke-width="2"/>
<text transform="translate(360.2,1356.2) scale(0.93,1)" font-size="25" font-weight="bold" text-anchor="middle">15</text>
<line x1="452.1" y1="1328.2" x2="452.1" y2="1333.2" stroke="#000" stroke-width="2"/>
<text transform="translate(452.1,1356.2) scale(0.93,1)" font-size="25" font-weight="bold" text-anchor="middle">20</text>
<line x1="544.0" y1="1328.2" x2="544.0" y2="1333.2" stroke="#000" stroke-width="2"/>
<text transform="translate(544.0,1356.2) scale(0.93,1)" font-size="25" font-weight="bold" text-anchor="middle">25</text>
<line x1="635.9" y1="1328.2" x2="635.9" y2="1333.2" stroke="#000" stroke-width="2"/>
<text transform="translate(635.9,1356.2) scale(0.93,1)" font-size="25" font-weight="bold" text-anchor="middle">30</text>
<line x1="130.4" y1="1328.2" x2="130.4" y2="1331.7" stroke="#000" stroke-width="1.8"/>
<line x1="222.3" y1="1328.2" x2="222.3" y2="1331.7" stroke="#000" stroke-width="1.8"/>
<line x1="314.2" y1="1328.2" x2="314.2" y2="1331.7" stroke="#000" stroke-width="1.8"/>
<line x1="406.1" y1="1328.2" x2="406.1" y2="1331.7" stroke="#000" stroke-width="1.8"/>
<line x1="498.0" y1="1328.2" x2="498.0" y2="1331.7" stroke="#000" stroke-width="1.8"/>
<line x1="590.0" y1="1328.2" x2="590.0" y2="1331.7" stroke="#000" stroke-width="1.8"/>
<clipPath id="c3"><rect x="87.8" y="1362.4" width="553.4000000000001" height="135.29999999999995"/></clipPath>
<g clip-path="url(#c3)">
<path d="M88.2,1381.4 L93.1,1386.0 L98.0,1375.8 L102.5,1385.0 L107.7,1382.2 L111.7,1384.4 L116.6,1387.6 L120.6,1388.7 L125.5,1384.7 L130.4,1377.4 L135.2,1383.1 L139.3,1389.2 L144.1,1384.7 L149.0,1384.4 L153.0,1373.3 L157.9,1378.5 L162.8,1377.9 L167.6,1378.2 L171.7,1390.3 L176.5,1372.0 L181.4,1378.2 L185.4,1382.7 L190.3,1372.0 L194.8,1397.6 L199.2,1379.0 L204.1,1390.3 L208.9,1383.9 L213.0,1373.7 L217.8,1391.5 L222.7,1389.2 L226.7,1379.0 L231.6,1379.8 L236.5,1373.0 L240.5,1393.6 L245.4,1382.2 L250.2,1393.1 L254.3,1375.8 L259.1,1373.7 L263.2,1387.1 L268.0,1392.0 L272.9,1404.1 L277.0,1443.0 L281.8,1475.4 L636.2,1476.0" fill="none" stroke="#000" stroke-width="4.4" stroke-linejoin="round" stroke-linecap="round"/>
</g>
<line x1="87.8" y1="1368.4" x2="87.8" y2="1496.7" stroke="#000" stroke-width="2.2"/>
<line x1="81.8" y1="1476.0" x2="87.8" y2="1476.0" stroke="#000" stroke-width="2"/>
<text transform="translate(78.8,1483.7) scale(0.93,1)" font-size="25" font-weight="bold" text-anchor="end">0.0</text>
<line x1="81.8" y1="1436.5" x2="87.8" y2="1436.5" stroke="#000" stroke-width="2"/>
<text transform="translate(78.8,1444.2) scale(0.93,1)" font-size="25" font-weight="bold" text-anchor="end">0.4</text>
<line x1="81.8" y1="1397.0" x2="87.8" y2="1397.0" stroke="#000" stroke-width="2"/>
<text transform="translate(78.8,1404.7) scale(0.93,1)" font-size="25" font-weight="bold" text-anchor="end">0.8</text>
<line x1="86.8" y1="1495.7" x2="637.2" y2="1495.7" stroke="#000" stroke-width="2.2"/>
<line x1="176.4" y1="1495.7" x2="176.4" y2="1500.7" stroke="#000" stroke-width="2"/>
<text transform="translate(176.4,1523.7) scale(0.93,1)" font-size="25" font-weight="bold" text-anchor="middle">5</text>
<line x1="268.3" y1="1495.7" x2="268.3" y2="1500.7" stroke="#000" stroke-width="2"/>
<text transform="translate(268.3,1523.7) scale(0.93,1)" font-size="25" font-weight="bold" text-anchor="middle">10</text>
<line x1="360.2" y1="1495.7" x2="360.2" y2="1500.7" stroke="#000" stroke-width="2"/>
<text transform="translate(360.2,1523.7) scale(0.93,1)" font-size="25" font-weight="bold" text-anchor="middle">15</text>
<line x1="452.1" y1="1495.7" x2="452.1" y2="1500.7" stroke="#000" stroke-width="2"/>
<text transform="translate(452.1,1523.7) scale(0.93,1)" font-size="25" font-weight="bold" text-anchor="middle">20</text>
<line x1="544.0" y1="1495.7" x2="544.0" y2="1500.7" stroke="#000" stroke-width="2"/>
<text transform="translate(544.0,1523.7) scale(0.93,1)" font-size="25" font-weight="bold" text-anchor="middle">25</text>
<line x1="635.9" y1="1495.7" x2="635.9" y2="1500.7" stroke="#000" stroke-width="2"/>
<text transform="translate(635.9,1523.7) scale(0.93,1)" font-size="25" font-weight="bold" text-anchor="middle">30</text>
<line x1="130.4" y1="1495.7" x2="130.4" y2="1499.2" stroke="#000" stroke-width="1.8"/>
<line x1="222.3" y1="1495.7" x2="222.3" y2="1499.2" stroke="#000" stroke-width="1.8"/>
<line x1="314.2" y1="1495.7" x2="314.2" y2="1499.2" stroke="#000" stroke-width="1.8"/>
<line x1="406.1" y1="1495.7" x2="406.1" y2="1499.2" stroke="#000" stroke-width="1.8"/>
<line x1="498.0" y1="1495.7" x2="498.0" y2="1499.2" stroke="#000" stroke-width="1.8"/>
<line x1="590.0" y1="1495.7" x2="590.0" y2="1499.2" stroke="#000" stroke-width="1.8"/>
<line x1="279.0" y1="1032.0" x2="279.0" y2="1495.0" stroke="#222" stroke-width="1.5" stroke-dasharray="5 3"/>
<text transform="translate(626.5,1070.2) scale(0.925,1)" font-size="30.8" font-weight="bold" text-anchor="end">532 nm</text>
<text transform="translate(626.5,1237.8) scale(0.925,1)" font-size="30.8" font-weight="bold" text-anchor="end">640 nm</text>
<text transform="translate(27.2,1180.5) rotate(-90)" font-size="25.8" font-weight="bold" text-anchor="middle">Fl. intensity (arb. units)</text>
<text transform="translate(27.2,1433.3) rotate(-90)" font-size="25.5" font-weight="bold" text-anchor="middle">FRET</text>
<text x="362.6" y="1557.5" font-size="25.3" font-weight="bold" text-anchor="middle">Time (seconds)</text>
<text x="673.7" y="1019.0" font-size="32.5" font-weight="bold">d</text>
<clipPath id="c4"><rect x="762.3" y="1026.7" width="553.2" height="135.5"/></clipPath>
<g clip-path="url(#c4)">
<path d="M763.2,1049.3 L767.3,1049.3 L772.1,1037.6 L777.0,1060.6 L781.9,1054.2 L785.9,1063.9 L790.8,1046.9 L795.3,1054.2 L799.7,1035.0 L804.5,1064.7 L809.4,1072.0 L814.3,1057.4 L819.1,1055.0 L823.2,1086.6 L827.2,1115.7 L832.9,1119.0 L837.8,1121.4 L842.6,1130.3 L846.7,1130.3 L851.5,1128.7 L856.4,1128.7 L860.4,1126.2 L865.3,1120.6 L868.5,1116.5 L872.6,1126.2 L877.4,1119.0 L882.3,1123.8 L887.2,1110.0 L892.0,1128.7 L896.9,1113.3 L901.7,1129.5 L906.6,1116.5 L911.5,1128.7 L916.3,1128.7 L920.4,1135.2 L925.2,1123.8 L929.3,1116.5 L934.1,1127.1 L939.0,1123.0 L943.0,1114.9 L947.9,1112.5 L952.8,1119.8 L956.8,1120.6 L961.7,1130.3 L965.7,1133.5 L970.6,1119.8 L975.4,1123.0 L980.3,1125.4 L984.4,1123.8 L989.2,1116.5 L993.3,1123.8 L998.1,1122.2 L1003.0,1120.6 L1007.8,1125.4 L1011.9,1127.9 L1016.7,1114.9 L1021.6,1125.4 L1025.7,1109.2 L1030.5,1123.8 L1035.4,1113.3 L1039.4,1134.3 L1044.3,1126.2 L1049.1,1127.1 L1054.0,1122.2 L1058.9,1117.3 L1062.8,1115.7 L1066.8,1119.0 L1071.7,1106.0 L1076.6,1123.8 L1080.6,1114.1 L1085.5,1122.2 L1089.5,1118.1 L1094.4,1116.5 L1099.2,1119.0 L1104.1,1113.3 L1109.0,1115.7 L1113.0,1120.6 L1117.9,1111.7 L1121.9,1122.2 L1126.8,1118.1 L1131.6,1123.0 L1136.5,1124.6 L1141.3,1121.4 L1146.2,1123.8 L1150.3,1122.2 L1154.3,1111.7 L1159.2,1122.2 L1163.2,1130.3 L1168.1,1119.8 L1172.9,1136.8 L1177.8,1120.6 L1182.7,1122.2 L1186.7,1123.8 L1191.6,1122.2 L1196.4,1120.6 L1201.3,1121.4 L1205.3,1126.2 L1210.2,1110.9 L1214.2,1119.0 L1219.1,1115.7 L1224.0,1110.0 L1228.8,1122.2 L1232.9,1111.7 L1237.7,1115.7 L1241.8,1118.1 L1246.6,1121.4 L1251.5,1123.0 L1256.4,1122.2 L1260.4,1119.0 L1265.3,1116.5 L1269.3,1135.2 L1274.2,1125.4 L1279.0,1127.9 L1283.9,1129.5 L1288.8,1114.9 L1292.8,1125.4 L1297.7,1110.9 L1302.5,1118.1 L1306.6,1119.0 L1311.4,1123.8 L1312.5,1118.3" fill="none" stroke="#FF0000" stroke-width="3.6" stroke-linejoin="round" stroke-linecap="round"/>
<path d="M763.2,1123.8 L768.1,1127.1 L772.1,1146.5 L777.0,1133.5 L781.9,1140.0 L786.7,1126.2 L790.8,1127.9 L795.6,1124.6 L800.5,1136.0 L804.5,1123.0 L809.4,1119.8 L814.3,1144.9 L818.3,1115.7 L823.2,1132.7 L827.2,1131.9 L832.9,1140.0 L837.8,1136.8 L841.8,1126.2 L845.9,1144.9 L850.7,1154.6 L855.6,1131.9 L859.6,1136.0 L864.5,1114.1 L869.3,1128.7 L873.4,1129.5 L878.3,1124.6 L883.1,1130.3 L888.0,1131.1 L892.0,1135.2 L896.9,1129.5 L901.7,1119.8 L906.6,1119.0 L910.6,1136.8 L915.5,1139.2 L919.6,1144.1 L924.4,1114.1 L929.3,1127.1 L934.1,1115.7 L938.2,1135.2 L943.0,1131.9 L947.9,1112.5 L952.8,1123.8 L956.8,1135.2 L960.9,1123.0 L965.7,1122.2 L970.6,1151.3 L975.4,1138.4 L979.5,1106.8 L984.4,1132.7 L989.2,1127.1 L994.1,1131.9 L998.1,1137.6 L1003.0,1122.2 L1007.8,1130.3 L1011.9,1136.8 L1016.7,1135.2 L1021.6,1149.7 L1026.5,1144.9 L1031.3,1136.8 L1035.4,1133.5 L1040.2,1131.9 L1044.3,1133.5 L1048.3,1115.7 L1053.2,1144.9 L1058.1,1125.4 L1062.8,1140.0 L1066.8,1123.0 L1071.7,1127.1 L1076.6,1132.7 L1081.4,1140.0 L1085.5,1136.8 L1090.3,1119.0 L1094.4,1128.7 L1099.2,1145.7 L1104.1,1144.1 L1109.0,1131.1 L1113.8,1119.8 L1117.9,1136.8 L1122.7,1124.6 L1126.8,1110.0 L1131.6,1116.5 L1136.5,1141.6 L1141.3,1125.4 L1145.4,1140.8 L1150.3,1139.2 L1154.3,1140.0 L1159.2,1136.8 L1163.2,1144.9 L1168.1,1148.9 L1172.9,1144.1 L1177.8,1139.2 L1181.8,1124.6 L1186.7,1148.1 L1191.6,1118.1 L1196.4,1129.5 L1201.3,1141.6 L1205.3,1149.7 L1210.2,1130.3 L1215.1,1132.7 L1219.1,1153.0 L1224.0,1131.1 L1228.8,1146.5 L1232.9,1134.3 L1237.7,1144.9 L1242.6,1145.7 L1246.6,1131.9 L1251.5,1138.4 L1256.4,1140.0 L1261.2,1128.7 L1266.1,1123.8 L1270.1,1123.8 L1274.2,1131.1 L1279.0,1126.2 L1283.9,1113.3 L1288.8,1123.8 L1292.8,1127.1 L1297.7,1115.7 L1301.7,1136.8 L1306.6,1133.5 L1311.4,1136.8 L1312.5,1141.3" fill="none" stroke="#00FF0A" stroke-width="3.6" stroke-linejoin="round" stroke-linecap="round"/>
</g>
<line x1="762.3" y1="1032.7" x2="762.3" y2="1161.2" stroke="#000" stroke-width="2.2"/>
<line x1="756.3" y1="1160.1" x2="762.3" y2="1160.1" stroke="#000" stroke-width="2"/>
<text transform="translate(753.3,1167.8) scale(0.93,1)" font-size="25" font-weight="bold" text-anchor="end">-100</text>
<line x1="756.3" y1="1121.8" x2="762.3" y2="1121.8" stroke="#000" stroke-width="2"/>
<text transform="translate(753.3,1129.5) scale(0.93,1)" font-size="25" font-weight="bold" text-anchor="end">0</text>
<line x1="756.3" y1="1083.5" x2="762.3" y2="1083.5" stroke="#000" stroke-width="2"/>
<text transform="translate(753.3,1091.2) scale(0.93,1)" font-size="25" font-weight="bold" text-anchor="end">100</text>
<line x1="756.3" y1="1045.2" x2="762.3" y2="1045.2" stroke="#000" stroke-width="2"/>
<text transform="translate(753.3,1052.9) scale(0.93,1)" font-size="25" font-weight="bold" text-anchor="end">200</text>
<line x1="761.3" y1="1160.2" x2="1311.5" y2="1160.2" stroke="#000" stroke-width="2.2"/>
<line x1="850.7" y1="1160.2" x2="850.7" y2="1165.2" stroke="#000" stroke-width="2"/>
<text transform="translate(850.7,1188.7) scale(0.93,1)" font-size="25" font-weight="bold" text-anchor="middle">5</text>
<line x1="942.7" y1="1160.2" x2="942.7" y2="1165.2" stroke="#000" stroke-width="2"/>
<text transform="translate(942.7,1188.7) scale(0.93,1)" font-size="25" font-weight="bold" text-anchor="middle">10</text>
<line x1="1034.7" y1="1160.2" x2="1034.7" y2="1165.2" stroke="#000" stroke-width="2"/>
<text transform="translate(1034.7,1188.7) scale(0.93,1)" font-size="25" font-weight="bold" text-anchor="middle">15</text>
<line x1="1126.7" y1="1160.2" x2="1126.7" y2="1165.2" stroke="#000" stroke-width="2"/>
<text transform="translate(1126.7,1188.7) scale(0.93,1)" font-size="25" font-weight="bold" text-anchor="middle">20</text>
<line x1="1218.7" y1="1160.2" x2="1218.7" y2="1165.2" stroke="#000" stroke-width="2"/>
<text transform="translate(1218.7,1188.7) scale(0.93,1)" font-size="25" font-weight="bold" text-anchor="middle">25</text>
<line x1="1310.7" y1="1160.2" x2="1310.7" y2="1165.2" stroke="#000" stroke-width="2"/>
<text transform="translate(1310.7,1188.7) scale(0.93,1)" font-size="25" font-weight="bold" text-anchor="middle">30</text>
<line x1="804.7" y1="1160.2" x2="804.7" y2="1163.7" stroke="#000" stroke-width="1.8"/>
<line x1="896.7" y1="1160.2" x2="896.7" y2="1163.7" stroke="#000" stroke-width="1.8"/>
<line x1="988.7" y1="1160.2" x2="988.7" y2="1163.7" stroke="#000" stroke-width="1.8"/>
<line x1="1080.7" y1="1160.2" x2="1080.7" y2="1163.7" stroke="#000" stroke-width="1.8"/>
<line x1="1172.7" y1="1160.2" x2="1172.7" y2="1163.7" stroke="#000" stroke-width="1.8"/>
<line x1="1264.7" y1="1160.2" x2="1264.7" y2="1163.7" stroke="#000" stroke-width="1.8"/>
<clipPath id="c5"><rect x="762.3" y="1195" width="553.2" height="135.20000000000005"/></clipPath>
<g clip-path="url(#c5)">
<path d="M763.2,1237.9 L767.3,1229.8 L772.1,1225.0 L777.0,1214.4 L781.1,1213.1 L785.9,1208.8 L790.8,1215.2 L795.6,1207.1 L800.5,1209.9 L804.5,1229.0 L809.4,1208.3 L813.5,1237.9 L818.3,1233.9 L823.2,1226.6 L827.2,1229.0 L832.1,1217.7 L836.9,1206.7 L841.0,1221.7 L845.9,1237.9 L850.7,1246.8 L854.8,1210.4 L859.6,1203.9 L864.5,1233.1 L868.5,1204.7 L874.2,1207.1 L878.3,1229.0 L883.1,1220.6 L888.0,1241.2 L892.0,1225.8 L896.9,1250.9 L901.7,1243.6 L906.6,1254.9 L910.6,1227.4 L913.1,1276.0 L914.7,1313.3 L919.6,1293.0 L924.4,1318.1 L929.3,1314.9 L934.1,1310.8 L938.2,1302.7 L943.0,1322.2 L947.9,1312.4 L952.0,1306.8 L956.8,1319.7 L961.7,1306.0 L965.7,1308.4 L970.6,1302.7 L975.4,1306.0 L979.5,1319.7 L984.4,1302.7 L988.4,1310.0 L993.3,1306.8 L998.1,1304.3 L1003.0,1309.2 L1007.8,1309.2 L1011.9,1313.3 L1016.7,1306.8 L1021.1,1314.9 L1025.7,1298.7 L1030.5,1309.2 L1035.4,1309.2 L1039.4,1314.9 L1044.3,1305.2 L1049.1,1310.8 L1053.2,1319.7 L1058.1,1307.6 L1062.8,1311.6 L1066.8,1310.0 L1071.7,1303.5 L1076.6,1306.8 L1081.4,1307.6 L1085.5,1302.7 L1090.3,1310.0 L1094.4,1302.7 L1099.2,1302.7 L1104.1,1304.3 L1109.0,1300.3 L1113.0,1317.3 L1117.1,1310.8 L1122.7,1311.3 L1126.8,1289.0 L1131.6,1298.7 L1136.5,1301.9 L1141.3,1300.3 L1145.4,1302.7 L1150.3,1307.6 L1154.3,1306.0 L1159.2,1309.2 L1163.2,1311.3 L1168.1,1311.6 L1172.1,1301.1 L1177.0,1301.1 L1181.8,1306.0 L1186.7,1309.2 L1191.6,1306.8 L1196.4,1306.8 L1201.3,1313.3 L1205.3,1302.7 L1210.2,1314.9 L1215.1,1308.4 L1219.1,1301.1 L1224.0,1314.9 L1228.8,1310.0 L1232.9,1302.7 L1237.7,1301.1 L1242.6,1308.4 L1247.5,1308.4 L1251.5,1307.6 L1256.4,1302.7 L1260.4,1295.4 L1265.3,1308.4 L1270.1,1310.8 L1274.2,1310.0 L1279.0,1303.5 L1283.9,1304.3 L1288.8,1303.9 L1292.8,1313.3 L1297.7,1306.8 L1301.7,1310.0 L1306.6,1297.9 L1311.4,1293.8 L1312.5,1305.8" fill="none" stroke="#FF0000" stroke-width="3.6" stroke-linejoin="round" stroke-linecap="round"/>
</g>
<line x1="762.3" y1="1201.0" x2="762.3" y2="1329.2" stroke="#000" stroke-width="2.2"/>
<line x1="756.3" y1="1306.8" x2="762.3" y2="1306.8" stroke="#000" stroke-width="2"/>
<text transform="translate(753.3,1314.5) scale(0.93,1)" font-size="25" font-weight="bold" text-anchor="end">0</text>
<line x1="756.3" y1="1268.2" x2="762.3" y2="1268.2" stroke="#000" stroke-width="2"/>
<text transform="translate(753.3,1275.9) scale(0.93,1)" font-size="25" font-weight="bold" text-anchor="end">75</text>
<line x1="756.3" y1="1229.5" x2="762.3" y2="1229.5" stroke="#000" stroke-width="2"/>
<text transform="translate(753.3,1237.2) scale(0.93,1)" font-size="25" font-weight="bold" text-anchor="end">150</text>
<line x1="761.3" y1="1328.2" x2="1311.5" y2="1328.2" stroke="#000" stroke-width="2.2"/>
<line x1="850.7" y1="1328.2" x2="850.7" y2="1333.2" stroke="#000" stroke-width="2"/>
<text transform="translate(850.7,1356.2) scale(0.93,1)" font-size="25" font-weight="bold" text-anchor="middle">5</text>
<line x1="942.7" y1="1328.2" x2="942.7" y2="1333.2" stroke="#000" stroke-width="2"/>
<text transform="translate(942.7,1356.2) scale(0.93,1)" font-size="25" font-weight="bold" text-anchor="middle">10</text>
<line x1="1034.7" y1="1328.2" x2="1034.7" y2="1333.2" stroke="#000" stroke-width="2"/>
<text transform="translate(1034.7,1356.2) scale(0.93,1)" font-size="25" font-weight="bold" text-anchor="middle">15</text>
<line x1="1126.7" y1="1328.2" x2="1126.7" y2="1333.2" stroke="#000" stroke-width="2"/>
<text transform="translate(1126.7,1356.2) scale(0.93,1)" font-size="25" font-weight="bold" text-anchor="middle">20</text>
<line x1="1218.7" y1="1328.2" x2="1218.7" y2="1333.2" stroke="#000" stroke-width="2"/>
<text transform="translate(1218.7,1356.2) scale(0.93,1)" font-size="25" font-weight="bold" text-anchor="middle">25</text>
<line x1="1310.7" y1="1328.2" x2="1310.7" y2="1333.2" stroke="#000" stroke-width="2"/>
<text transform="translate(1310.7,1356.2) scale(0.93,1)" font-size="25" font-weight="bold" text-anchor="middle">30</text>
<line x1="804.7" y1="1328.2" x2="804.7" y2="1331.7" stroke="#000" stroke-width="1.8"/>
<line x1="896.7" y1="1328.2" x2="896.7" y2="1331.7" stroke="#000" stroke-width="1.8"/>
<line x1="988.7" y1="1328.2" x2="988.7" y2="1331.7" stroke="#000" stroke-width="1.8"/>
<line x1="1080.7" y1="1328.2" x2="1080.7" y2="1331.7" stroke="#000" stroke-width="1.8"/>
<line x1="1172.7" y1="1328.2" x2="1172.7" y2="1331.7" stroke="#000" stroke-width="1.8"/>
<line x1="1264.7" y1="1328.2" x2="1264.7" y2="1331.7" stroke="#000" stroke-width="1.8"/>
<clipPath id="c6"><rect x="762.3" y="1362.4" width="553.2" height="135.29999999999995"/></clipPath>
<g clip-path="url(#c6)">
<path d="M763.2,1417.9 L768.1,1414.2 L772.6,1393.6 L777.5,1404.4 L781.9,1397.3 L786.2,1415.5 L790.8,1413.8 L795.6,1416.3 L800.2,1407.4 L804.5,1418.7 L809.4,1422.7 L813.9,1395.2 L818.6,1428.4 L823.2,1387.9 L824.8,1410.6 L826.4,1443.0 L828.0,1470.5 L832.1,1482.7 L1310.5,1483.6" fill="none" stroke="#000" stroke-width="4.4" stroke-linejoin="round" stroke-linecap="round"/>
</g>
<line x1="762.3" y1="1368.4" x2="762.3" y2="1496.7" stroke="#000" stroke-width="2.2"/>
<line x1="756.3" y1="1483.6" x2="762.3" y2="1483.6" stroke="#000" stroke-width="2"/>
<text transform="translate(753.3,1491.3) scale(0.93,1)" font-size="25" font-weight="bold" text-anchor="end">0.0</text>
<line x1="756.3" y1="1451.5" x2="762.3" y2="1451.5" stroke="#000" stroke-width="2"/>
<text transform="translate(753.3,1459.2) scale(0.93,1)" font-size="25" font-weight="bold" text-anchor="end">0.5</text>
<line x1="756.3" y1="1419.4" x2="762.3" y2="1419.4" stroke="#000" stroke-width="2"/>
<text transform="translate(753.3,1427.1) scale(0.93,1)" font-size="25" font-weight="bold" text-anchor="end">1.0</text>
<line x1="756.3" y1="1387.3" x2="762.3" y2="1387.3" stroke="#000" stroke-width="2"/>
<text transform="translate(753.3,1395.0) scale(0.93,1)" font-size="25" font-weight="bold" text-anchor="end">1.5</text>
<line x1="761.3" y1="1495.7" x2="1311.5" y2="1495.7" stroke="#000" stroke-width="2.2"/>
<line x1="850.7" y1="1495.7" x2="850.7" y2="1500.7" stroke="#000" stroke-width="2"/>
<text transform="translate(850.7,1523.7) scale(0.93,1)" font-size="25" font-weight="bold" text-anchor="middle">5</text>
<line x1="942.7" y1="1495.7" x2="942.7" y2="1500.7" stroke="#000" stroke-width="2"/>
<text transform="translate(942.7,1523.7) scale(0.93,1)" font-size="25" font-weight="bold" text-anchor="middle">10</text>
<line x1="1034.7" y1="1495.7" x2="1034.7" y2="1500.7" stroke="#000" stroke-width="2"/>
<text transform="translate(1034.7,1523.7) scale(0.93,1)" font-size="25" font-weight="bold" text-anchor="middle">15</text>
<line x1="1126.7" y1="1495.7" x2="1126.7" y2="1500.7" stroke="#000" stroke-width="2"/>
<text transform="translate(1126.7,1523.7) scale(0.93,1)" font-size="25" font-weight="bold" text-anchor="middle">20</text>
<line x1="1218.7" y1="1495.7" x2="1218.7" y2="1500.7" stroke="#000" stroke-width="2"/>
<text transform="translate(1218.7,1523.7) scale(0.93,1)" font-size="25" font-weight="bold" text-anchor="middle">25</text>
<line x1="1310.7" y1="1495.7" x2="1310.7" y2="1500.7" stroke="#000" stroke-width="2"/>
<text transform="translate(1310.7,1523.7) scale(0.93,1)" font-size="25" font-weight="bold" text-anchor="middle">30</text>
<line x1="804.7" y1="1495.7" x2="804.7" y2="1499.2" stroke="#000" stroke-width="1.8"/>
<line x1="896.7" y1="1495.7" x2="896.7" y2="1499.2" stroke="#000" stroke-width="1.8"/>
<line x1="988.7" y1="1495.7" x2="988.7" y2="1499.2" stroke="#000" stroke-width="1.8"/>
<line x1="1080.7" y1="1495.7" x2="1080.7" y2="1499.2" stroke="#000" stroke-width="1.8"/>
<line x1="1172.7" y1="1495.7" x2="1172.7" y2="1499.2" stroke="#000" stroke-width="1.8"/>
<line x1="1264.7" y1="1495.7" x2="1264.7" y2="1499.2" stroke="#000" stroke-width="1.8"/>
<line x1="826.8" y1="1032.0" x2="826.8" y2="1495.0" stroke="#222" stroke-width="1.5" stroke-dasharray="5 3"/>
<line x1="914.1" y1="1032.0" x2="914.1" y2="1495.0" stroke="#222" stroke-width="1.5" stroke-dasharray="5 3"/>
<text transform="translate(1301.0,1070.2) scale(0.925,1)" font-size="30.8" font-weight="bold" text-anchor="end">532 nm</text>
<text transform="translate(1301.0,1237.8) scale(0.925,1)" font-size="30.8" font-weight="bold" text-anchor="end">640 nm</text>
<text transform="translate(702.2,1180.5) rotate(-90)" font-size="25.8" font-weight="bold" text-anchor="middle">Fl. intensity (arb. units)</text>
<text transform="translate(702.2,1433.3) rotate(-90)" font-size="25.5" font-weight="bold" text-anchor="middle">FRET</text>
<text x="1035.5" y="1557.5" font-size="25.3" font-weight="bold" text-anchor="middle">Time (seconds)</text>
<text x="-1.3" y="1599.2" font-size="32.5" font-weight="bold">e</text>
<clipPath id="c7"><rect x="87.8" y="1607.8" width="553.4000000000001" height="135.60000000000014"/></clipPath>
<g clip-path="url(#c7)">
<path d="M88.2,1626.4 L93.1,1635.3 L97.6,1625.6 L102.5,1645.9 L106.9,1620.8 L111.7,1618.7 L115.8,1640.2 L120.6,1650.7 L125.5,1662.1 L130.0,1648.3 L134.4,1648.3 L139.3,1649.9 L144.1,1626.4 L149.0,1632.9 L153.0,1653.2 L157.9,1644.3 L162.4,1638.6 L166.8,1648.3 L171.7,1651.5 L176.5,1623.2 L180.6,1641.0 L183.0,1668.6 L184.6,1688.0 L187.9,1695.3 L191.9,1704.2 L195.2,1709.1 L200.0,1709.1 L204.1,1700.1 L208.1,1695.3 L213.0,1718.8 L217.8,1704.2 L222.4,1688.8 L226.7,1710.7 L231.6,1708.2 L235.6,1718.8 L240.5,1713.9 L244.6,1709.1 L249.4,1703.4 L254.3,1701.8 L259.1,1713.1 L264.0,1709.1 L268.9,1706.6 L272.9,1710.7 L277.8,1705.8 L282.6,1713.9 L286.7,1701.0 L291.5,1702.6 L296.4,1705.0 L300.4,1696.1 L305.3,1702.6 L309.4,1711.5 L314.2,1704.2 L319.1,1710.7 L323.1,1700.1 L328.0,1696.9 L332.8,1723.6 L337.7,1700.1 L341.7,1712.3 L346.6,1706.6 L351.5,1704.2 L355.5,1700.1 L360.4,1700.1 L365.2,1694.5 L370.1,1706.6 L375.0,1705.8 L379.0,1695.3 L383.9,1713.9 L388.6,1711.5 L392.6,1708.2 L397.5,1698.5 L401.6,1712.3 L406.4,1695.3 L411.3,1704.2 L415.3,1701.0 L420.2,1696.9 L424.2,1702.6 L429.1,1704.2 L434.0,1709.1 L438.0,1703.4 L442.9,1698.5 L447.7,1714.7 L451.8,1701.0 L456.6,1713.9 L461.5,1703.4 L466.3,1710.7 L470.4,1714.7 L475.3,1707.4 L480.1,1700.1 L485.0,1693.7 L489.8,1710.7 L493.9,1710.7 L498.7,1713.9 L502.8,1702.6 L507.7,1715.5 L511.7,1707.4 L516.6,1701.0 L521.4,1696.9 L526.3,1700.1 L531.1,1686.4 L536.0,1705.8 L540.1,1698.5 L544.1,1712.3 L549.0,1705.8 L553.8,1702.6 L558.7,1725.3 L562.7,1707.4 L567.6,1719.6 L572.5,1710.7 L576.5,1696.1 L581.4,1698.5 L586.2,1700.1 L591.1,1712.3 L595.1,1707.4 L600.0,1708.2 L604.8,1712.3 L608.9,1696.9 L613.8,1712.3 L618.6,1709.1 L623.5,1708.2 L627.5,1710.7 L631.6,1703.4 L636.4,1702.6 L638.2,1708.0" fill="none" stroke="#FF0000" stroke-width="3.6" stroke-linejoin="round" stroke-linecap="round"/>
<path d="M88.2,1719.6 L93.1,1712.3 L98.0,1722.0 L102.5,1717.2 L106.9,1727.7 L111.7,1726.1 L116.6,1737.4 L121.4,1734.2 L125.2,1708.2 L130.0,1702.6 L134.4,1714.7 L139.3,1705.8 L144.1,1713.1 L149.0,1710.7 L153.0,1723.6 L157.9,1720.4 L162.4,1726.1 L166.8,1705.0 L171.7,1728.5 L175.7,1700.1 L180.6,1704.2 L183.0,1699.3 L186.2,1686.4 L190.3,1616.7 L194.8,1668.6 L199.2,1640.2 L203.3,1686.4 L208.1,1724.4 L213.0,1714.7 L217.8,1708.2 L222.7,1705.8 L226.7,1706.6 L231.6,1712.3 L236.5,1722.0 L240.5,1703.4 L245.4,1706.6 L249.4,1713.1 L254.3,1713.1 L259.1,1718.8 L264.0,1725.3 L268.0,1711.5 L272.9,1719.6 L277.8,1715.5 L281.8,1692.0 L286.7,1705.0 L291.5,1705.8 L296.4,1712.3 L300.4,1710.7 L305.3,1704.2 L310.2,1704.2 L314.2,1705.0 L319.1,1705.0 L323.1,1696.9 L328.0,1714.7 L332.8,1700.1 L337.7,1703.4 L341.7,1705.8 L346.6,1705.0 L351.5,1709.1 L355.5,1716.3 L360.4,1708.2 L365.2,1700.1 L369.3,1721.2 L374.1,1709.1 L379.0,1709.1 L383.9,1718.8 L388.6,1716.3 L392.6,1713.9 L397.5,1701.8 L401.6,1704.2 L406.4,1715.5 L411.3,1719.6 L415.3,1714.7 L420.2,1701.0 L424.2,1705.0 L429.1,1708.2 L434.0,1711.5 L438.8,1713.9 L443.7,1714.7 L447.7,1708.2 L452.6,1717.2 L456.6,1720.4 L461.5,1713.9 L466.3,1718.8 L470.4,1722.0 L475.3,1712.3 L480.1,1715.5 L485.0,1713.9 L489.8,1708.2 L493.9,1710.7 L498.7,1720.4 L502.8,1725.3 L507.7,1719.6 L512.5,1709.9 L516.6,1715.5 L521.4,1720.4 L526.3,1709.1 L531.1,1713.9 L536.0,1712.3 L540.9,1714.7 L544.9,1716.3 L549.0,1702.6 L553.8,1726.9 L558.7,1718.0 L563.5,1723.6 L568.4,1717.2 L572.5,1711.5 L577.3,1710.7 L581.4,1709.9 L586.2,1719.6 L591.1,1717.2 L595.9,1712.3 L600.0,1713.9 L604.8,1718.8 L608.9,1728.5 L613.8,1714.7 L618.6,1714.7 L622.7,1723.6 L627.5,1706.6 L631.6,1714.7 L636.4,1709.9 L638.2,1708.1" fill="none" stroke="#00FF0A" stroke-width="3.6" stroke-linejoin="round" stroke-linecap="round"/>
</g>
<line x1="87.8" y1="1613.8" x2="87.8" y2="1742.4" stroke="#000" stroke-width="2.2"/>
<line x1="81.8" y1="1706.1" x2="87.8" y2="1706.1" stroke="#000" stroke-width="2"/>
<text transform="translate(78.8,1713.8) scale(0.93,1)" font-size="25" font-weight="bold" text-anchor="end">0</text>
<line x1="81.8" y1="1663.7" x2="87.8" y2="1663.7" stroke="#000" stroke-width="2"/>
<text transform="translate(78.8,1671.4) scale(0.93,1)" font-size="25" font-weight="bold" text-anchor="end">100</text>
<line x1="81.8" y1="1621.3" x2="87.8" y2="1621.3" stroke="#000" stroke-width="2"/>
<text transform="translate(78.8,1629.0) scale(0.93,1)" font-size="25" font-weight="bold" text-anchor="end">200</text>
<line x1="86.8" y1="1741.4" x2="637.2" y2="1741.4" stroke="#000" stroke-width="2.2"/>
<line x1="176.4" y1="1741.4" x2="176.4" y2="1746.4" stroke="#000" stroke-width="2"/>
<text transform="translate(176.4,1769.3) scale(0.93,1)" font-size="25" font-weight="bold" text-anchor="middle">5</text>
<line x1="268.3" y1="1741.4" x2="268.3" y2="1746.4" stroke="#000" stroke-width="2"/>
<text transform="translate(268.3,1769.3) scale(0.93,1)" font-size="25" font-weight="bold" text-anchor="middle">10</text>
<line x1="360.2" y1="1741.4" x2="360.2" y2="1746.4" stroke="#000" stroke-width="2"/>
<text transform="translate(360.2,1769.3) scale(0.93,1)" font-size="25" font-weight="bold" text-anchor="middle">15</text>
<line x1="452.1" y1="1741.4" x2="452.1" y2="1746.4" stroke="#000" stroke-width="2"/>
<text transform="translate(452.1,1769.3) scale(0.93,1)" font-size="25" font-weight="bold" text-anchor="middle">20</text>
<line x1="544.0" y1="1741.4" x2="544.0" y2="1746.4" stroke="#000" stroke-width="2"/>
<text transform="translate(544.0,1769.3) scale(0.93,1)" font-size="25" font-weight="bold" text-anchor="middle">25</text>
<line x1="635.9" y1="1741.4" x2="635.9" y2="1746.4" stroke="#000" stroke-width="2"/>
<text transform="translate(635.9,1769.3) scale(0.93,1)" font-size="25" font-weight="bold" text-anchor="middle">30</text>
<line x1="130.4" y1="1741.4" x2="130.4" y2="1744.9" stroke="#000" stroke-width="1.8"/>
<line x1="222.3" y1="1741.4" x2="222.3" y2="1744.9" stroke="#000" stroke-width="1.8"/>
<line x1="314.2" y1="1741.4" x2="314.2" y2="1744.9" stroke="#000" stroke-width="1.8"/>
<line x1="406.1" y1="1741.4" x2="406.1" y2="1744.9" stroke="#000" stroke-width="1.8"/>
<line x1="498.0" y1="1741.4" x2="498.0" y2="1744.9" stroke="#000" stroke-width="1.8"/>
<line x1="590.0" y1="1741.4" x2="590.0" y2="1744.9" stroke="#000" stroke-width="1.8"/>
<clipPath id="c8"><rect x="87.8" y="1775.3" width="553.4000000000001" height="136.29999999999995"/></clipPath>
<g clip-path="url(#c8)">
<path d="M88.2,1821.2 L93.1,1798.5 L98.0,1822.8 L102.5,1835.7 L106.9,1847.9 L111.7,1834.9 L116.6,1837.4 L121.0,1789.6 L125.5,1826.8 L130.4,1840.6 L134.9,1818.7 L139.8,1831.7 L144.1,1801.7 L149.0,1809.8 L153.8,1817.1 L157.9,1850.3 L162.4,1822.0 L166.8,1839.8 L171.7,1823.6 L176.5,1803.3 L179.8,1844.7 L183.8,1860.9 L189.5,1875.4 L195.2,1879.5 L199.2,1881.1 L203.6,1869.8 L208.1,1890.8 L213.0,1853.6 L217.5,1870.6 L221.9,1894.1 L226.7,1877.1 L231.6,1878.7 L236.0,1891.6 L240.5,1879.5 L245.4,1868.1 L250.2,1872.2 L254.3,1883.5 L259.1,1869.8 L263.2,1885.2 L268.0,1888.4 L272.9,1882.7 L277.0,1864.9 L281.8,1860.9 L286.7,1880.3 L291.5,1886.8 L295.6,1887.6 L300.4,1897.3 L304.5,1874.6 L309.4,1874.6 L314.2,1886.8 L319.1,1894.9 L323.1,1880.3 L328.0,1876.2 L332.8,1886.0 L337.4,1868.1 L341.7,1881.9 L346.6,1878.7 L350.7,1888.4 L355.5,1895.7 L360.4,1877.9 L365.2,1877.1 L370.1,1880.3 L374.1,1891.6 L379.0,1883.5 L383.9,1881.9 L387.8,1880.3 L392.6,1874.6 L396.7,1882.7 L401.6,1877.1 L406.4,1871.4 L411.3,1888.4 L415.3,1878.7 L420.2,1873.0 L425.0,1867.3 L429.1,1890.8 L434.0,1866.5 L438.5,1887.6 L442.9,1871.4 L447.7,1870.6 L452.6,1879.5 L456.6,1872.2 L461.5,1863.3 L466.3,1864.9 L470.4,1884.3 L475.3,1881.1 L480.1,1884.3 L484.2,1864.1 L489.0,1880.3 L493.1,1876.2 L498.7,1886.8 L502.8,1874.6 L507.7,1886.0 L512.5,1857.6 L516.6,1870.6 L521.4,1880.3 L526.3,1884.3 L531.1,1881.1 L535.2,1863.3 L540.1,1886.0 L544.9,1887.6 L549.8,1881.9 L554.6,1881.9 L558.7,1877.9 L562.7,1873.0 L567.6,1893.3 L572.5,1878.7 L576.5,1877.1 L581.4,1871.4 L586.2,1874.6 L591.1,1880.3 L595.1,1877.9 L600.0,1882.7 L604.0,1869.0 L608.9,1879.5 L613.8,1877.1 L618.6,1876.2 L623.5,1866.5 L627.5,1877.9 L631.6,1873.0 L636.4,1877.1 L638.2,1877.2" fill="none" stroke="#FF0000" stroke-width="3.6" stroke-linejoin="round" stroke-linecap="round"/>
</g>
<line x1="87.8" y1="1781.3" x2="87.8" y2="1910.6" stroke="#000" stroke-width="2.2"/>
<line x1="81.8" y1="1874.0" x2="87.8" y2="1874.0" stroke="#000" stroke-width="2"/>
<text transform="translate(78.8,1881.7) scale(0.93,1)" font-size="25" font-weight="bold" text-anchor="end">0</text>
<line x1="81.8" y1="1838.2" x2="87.8" y2="1838.2" stroke="#000" stroke-width="2"/>
<text transform="translate(78.8,1845.9) scale(0.93,1)" font-size="25" font-weight="bold" text-anchor="end">50</text>
<line x1="81.8" y1="1802.3" x2="87.8" y2="1802.3" stroke="#000" stroke-width="2"/>
<text transform="translate(78.8,1810.0) scale(0.93,1)" font-size="25" font-weight="bold" text-anchor="end">100</text>
<line x1="86.8" y1="1909.6" x2="637.2" y2="1909.6" stroke="#000" stroke-width="2.2"/>
<line x1="176.4" y1="1909.6" x2="176.4" y2="1914.6" stroke="#000" stroke-width="2"/>
<text transform="translate(176.4,1936.9) scale(0.93,1)" font-size="25" font-weight="bold" text-anchor="middle">5</text>
<line x1="268.3" y1="1909.6" x2="268.3" y2="1914.6" stroke="#000" stroke-width="2"/>
<text transform="translate(268.3,1936.9) scale(0.93,1)" font-size="25" font-weight="bold" text-anchor="middle">10</text>
<line x1="360.2" y1="1909.6" x2="360.2" y2="1914.6" stroke="#000" stroke-width="2"/>
<text transform="translate(360.2,1936.9) scale(0.93,1)" font-size="25" font-weight="bold" text-anchor="middle">15</text>
<line x1="452.1" y1="1909.6" x2="452.1" y2="1914.6" stroke="#000" stroke-width="2"/>
<text transform="translate(452.1,1936.9) scale(0.93,1)" font-size="25" font-weight="bold" text-anchor="middle">20</text>
<line x1="544.0" y1="1909.6" x2="544.0" y2="1914.6" stroke="#000" stroke-width="2"/>
<text transform="translate(544.0,1936.9) scale(0.93,1)" font-size="25" font-weight="bold" text-anchor="middle">25</text>
<line x1="635.9" y1="1909.6" x2="635.9" y2="1914.6" stroke="#000" stroke-width="2"/>
<text transform="translate(635.9,1936.9) scale(0.93,1)" font-size="25" font-weight="bold" text-anchor="middle">30</text>
<line x1="130.4" y1="1909.6" x2="130.4" y2="1913.1" stroke="#000" stroke-width="1.8"/>
<line x1="222.3" y1="1909.6" x2="222.3" y2="1913.1" stroke="#000" stroke-width="1.8"/>
<line x1="314.2" y1="1909.6" x2="314.2" y2="1913.1" stroke="#000" stroke-width="1.8"/>
<line x1="406.1" y1="1909.6" x2="406.1" y2="1913.1" stroke="#000" stroke-width="1.8"/>
<line x1="498.0" y1="1909.6" x2="498.0" y2="1913.1" stroke="#000" stroke-width="1.8"/>
<line x1="590.0" y1="1909.6" x2="590.0" y2="1913.1" stroke="#000" stroke-width="1.8"/>
<clipPath id="c9"><rect x="87.8" y="1943.2" width="553.4000000000001" height="136.29999999999995"/></clipPath>
<g clip-path="url(#c9)">
<path d="M88.2,1986.7 L93.1,1994.5 L97.6,1984.3 L102.5,1985.9 L106.9,1977.0 L111.7,1981.9 L116.6,1959.2 L121.4,1973.0 L125.5,1995.6 L130.4,2004.2 L134.9,1987.5 L139.8,2001.0 L144.1,1994.0 L149.0,1995.6 L153.0,1965.7 L157.9,1980.3 L162.4,1972.2 L166.8,2002.1 L171.7,1953.0 L175.7,2005.4 L180.6,2002.1 L184.6,2032.1 L190.0,2059.6 L194.8,2069.0 L199.2,2064.2 L636.2,2064.6" fill="none" stroke="#000" stroke-width="4.4" stroke-linejoin="round" stroke-linecap="round"/>
</g>
<line x1="87.8" y1="1949.2" x2="87.8" y2="2078.5" stroke="#000" stroke-width="2.2"/>
<line x1="81.8" y1="2064.6" x2="87.8" y2="2064.6" stroke="#000" stroke-width="2"/>
<text transform="translate(78.8,2072.3) scale(0.93,1)" font-size="25" font-weight="bold" text-anchor="end">0.0</text>
<line x1="81.8" y1="2032.7" x2="87.8" y2="2032.7" stroke="#000" stroke-width="2"/>
<text transform="translate(78.8,2040.4) scale(0.93,1)" font-size="25" font-weight="bold" text-anchor="end">0.5</text>
<line x1="81.8" y1="2000.7" x2="87.8" y2="2000.7" stroke="#000" stroke-width="2"/>
<text transform="translate(78.8,2008.4) scale(0.93,1)" font-size="25" font-weight="bold" text-anchor="end">1.0</text>
<line x1="81.8" y1="1968.8" x2="87.8" y2="1968.8" stroke="#000" stroke-width="2"/>
<text transform="translate(78.8,1976.5) scale(0.93,1)" font-size="25" font-weight="bold" text-anchor="end">1.5</text>
<line x1="86.8" y1="2077.5" x2="637.2" y2="2077.5" stroke="#000" stroke-width="2.2"/>
<line x1="176.4" y1="2077.5" x2="176.4" y2="2082.5" stroke="#000" stroke-width="2"/>
<text transform="translate(176.4,2104.4) scale(0.93,1)" font-size="25" font-weight="bold" text-anchor="middle">5</text>
<line x1="268.3" y1="2077.5" x2="268.3" y2="2082.5" stroke="#000" stroke-width="2"/>
<text transform="translate(268.3,2104.4) scale(0.93,1)" font-size="25" font-weight="bold" text-anchor="middle">10</text>
<line x1="360.2" y1="2077.5" x2="360.2" y2="2082.5" stroke="#000" stroke-width="2"/>
<text transform="translate(360.2,2104.4) scale(0.93,1)" font-size="25" font-weight="bold" text-anchor="middle">15</text>
<line x1="452.1" y1="2077.5" x2="452.1" y2="2082.5" stroke="#000" stroke-width="2"/>
<text transform="translate(452.1,2104.4) scale(0.93,1)" font-size="25" font-weight="bold" text-anchor="middle">20</text>
<line x1="544.0" y1="2077.5" x2="544.0" y2="2082.5" stroke="#000" stroke-width="2"/>
<text transform="translate(544.0,2104.4) scale(0.93,1)" font-size="25" font-weight="bold" text-anchor="middle">25</text>
<line x1="635.9" y1="2077.5" x2="635.9" y2="2082.5" stroke="#000" stroke-width="2"/>
<text transform="translate(635.9,2104.4) scale(0.93,1)" font-size="25" font-weight="bold" text-anchor="middle">30</text>
<line x1="130.4" y1="2077.5" x2="130.4" y2="2081.0" stroke="#000" stroke-width="1.8"/>
<line x1="222.3" y1="2077.5" x2="222.3" y2="2081.0" stroke="#000" stroke-width="1.8"/>
<line x1="314.2" y1="2077.5" x2="314.2" y2="2081.0" stroke="#000" stroke-width="1.8"/>
<line x1="406.1" y1="2077.5" x2="406.1" y2="2081.0" stroke="#000" stroke-width="1.8"/>
<line x1="498.0" y1="2077.5" x2="498.0" y2="2081.0" stroke="#000" stroke-width="1.8"/>
<line x1="590.0" y1="2077.5" x2="590.0" y2="2081.0" stroke="#000" stroke-width="1.8"/>
<line x1="183.5" y1="1613.0" x2="183.5" y2="2077.0" stroke="#222" stroke-width="1.5" stroke-dasharray="5 3"/>
<line x1="207.4" y1="1613.0" x2="207.4" y2="2077.0" stroke="#222" stroke-width="1.5" stroke-dasharray="5 3"/>
<text transform="translate(626.5,1651.7) scale(0.925,1)" font-size="30.8" font-weight="bold" text-anchor="end">532 nm</text>
<text transform="translate(626.5,1819.9) scale(0.925,1)" font-size="30.8" font-weight="bold" text-anchor="end">640 nm</text>
<text transform="translate(27.2,1761.0) rotate(-90)" font-size="25.8" font-weight="bold" text-anchor="middle">Fl. intensity (arb. units)</text>
<text transform="translate(27.2,2014.0) rotate(-90)" font-size="25.5" font-weight="bold" text-anchor="middle">FRET</text>
<text x="362.6" y="2139.0" font-size="25.3" font-weight="bold" text-anchor="middle">Time (seconds)</text>
<text x="677.2" y="1599.6" font-size="32.5" font-weight="bold">f</text>
<clipPath id="c10"><rect x="762.3" y="1607.8" width="553.2" height="135.60000000000014"/></clipPath>
<g clip-path="url(#c10)">
<path d="M763.2,1654.8 L767.3,1628.1 L772.6,1627.2 L777.0,1645.1 L781.9,1641.8 L786.2,1623.2 L790.8,1643.4 L795.6,1634.5 L800.5,1637.0 L805.0,1645.9 L809.4,1652.4 L814.3,1652.4 L819.1,1651.5 L823.2,1644.3 L828.0,1643.4 L832.1,1632.9 L837.4,1629.7 L841.8,1644.3 L846.2,1657.2 L850.7,1649.1 L855.6,1633.7 L860.4,1640.2 L864.5,1641.0 L869.3,1637.8 L874.2,1640.2 L878.6,1655.6 L883.1,1645.1 L888.0,1657.2 L892.8,1655.6 L897.4,1637.0 L901.7,1652.4 L906.6,1633.7 L911.5,1637.8 L915.5,1634.5 L920.0,1619.1 L924.4,1639.4 L929.3,1630.5 L934.1,1638.6 L936.6,1663.7 L938.2,1697.7 L942.2,1713.1 L947.1,1710.7 L952.0,1698.5 L956.8,1706.6 L961.7,1711.5 L966.5,1704.2 L970.6,1697.7 L975.4,1701.0 L979.5,1698.5 L984.4,1707.4 L989.2,1704.2 L993.3,1693.7 L998.1,1707.4 L1003.0,1714.7 L1007.8,1715.5 L1012.7,1709.1 L1016.7,1714.7 L1021.6,1711.5 L1026.5,1711.5 L1030.5,1713.9 L1035.4,1705.0 L1040.2,1712.3 L1044.3,1706.6 L1049.1,1713.1 L1054.0,1705.8 L1058.9,1709.9 L1062.8,1706.6 L1067.6,1712.3 L1071.7,1717.2 L1076.6,1711.5 L1080.6,1708.2 L1085.5,1722.0 L1090.3,1708.2 L1094.4,1715.5 L1099.2,1712.3 L1104.1,1717.2 L1109.0,1718.0 L1113.8,1715.5 L1118.7,1713.9 L1122.7,1718.8 L1127.6,1717.2 L1131.6,1719.6 L1136.5,1712.3 L1140.5,1704.2 L1145.4,1709.9 L1150.3,1705.0 L1154.3,1707.4 L1159.2,1718.8 L1164.0,1730.1 L1168.1,1709.1 L1172.9,1707.4 L1177.8,1710.7 L1182.7,1726.9 L1186.7,1714.7 L1191.6,1726.9 L1195.6,1721.2 L1200.5,1715.5 L1205.3,1709.9 L1210.2,1708.2 L1215.1,1709.9 L1219.1,1705.8 L1224.0,1715.5 L1228.8,1710.7 L1233.7,1712.3 L1237.7,1713.1 L1242.6,1712.3 L1246.6,1718.8 L1251.5,1713.1 L1256.4,1718.0 L1261.2,1713.9 L1266.1,1713.1 L1270.1,1713.1 L1275.0,1708.2 L1279.8,1712.3 L1284.7,1712.3 L1288.8,1710.7 L1293.6,1710.7 L1298.5,1712.3 L1302.5,1713.9 L1306.6,1714.7 L1311.4,1701.8 L1312.5,1716.8" fill="none" stroke="#FF0000" stroke-width="3.6" stroke-linejoin="round" stroke-linecap="round"/>
<path d="M763.2,1714.7 L767.3,1709.9 L772.6,1711.5 L777.0,1709.1 L781.9,1712.3 L786.2,1701.0 L790.8,1704.2 L795.6,1710.7 L800.5,1711.5 L805.0,1705.0 L809.4,1703.4 L814.3,1713.1 L818.3,1695.3 L823.2,1706.6 L828.0,1705.0 L832.1,1708.2 L837.4,1699.3 L841.8,1692.9 L846.7,1700.1 L850.7,1712.3 L855.6,1714.7 L860.4,1712.3 L864.5,1705.0 L869.3,1709.1 L874.2,1710.7 L878.6,1702.6 L883.1,1713.9 L888.0,1700.1 L892.8,1707.4 L897.4,1713.9 L901.7,1706.6 L906.6,1701.8 L910.6,1705.8 L915.5,1712.3 L920.4,1706.6 L925.2,1706.1 L929.3,1701.8 L934.1,1692.9 L938.2,1641.8 L942.2,1675.0 L947.6,1726.1 L952.0,1712.3 L956.8,1696.1 L960.9,1709.9 L965.7,1701.8 L970.6,1686.4 L975.4,1704.2 L979.5,1717.2 L984.4,1710.7 L989.2,1716.3 L993.3,1701.0 L998.1,1710.7 L1003.0,1722.8 L1007.0,1696.9 L1012.7,1695.3 L1015.9,1722.0 L1020.8,1722.0 L1025.7,1714.7 L1030.5,1718.8 L1035.4,1723.6 L1040.2,1706.6 L1044.3,1725.3 L1049.1,1701.8 L1054.0,1713.9 L1058.9,1719.6 L1062.8,1712.3 L1067.6,1709.1 L1071.7,1712.3 L1076.6,1713.1 L1081.4,1719.6 L1086.3,1709.9 L1090.3,1718.0 L1094.4,1713.9 L1099.2,1721.2 L1104.1,1720.4 L1109.0,1705.0 L1113.0,1712.3 L1117.9,1713.1 L1122.7,1703.4 L1126.8,1725.3 L1131.6,1710.7 L1136.5,1702.6 L1141.3,1701.8 L1145.4,1718.8 L1150.3,1728.5 L1154.3,1718.0 L1159.2,1702.6 L1164.0,1709.1 L1168.9,1704.2 L1173.7,1709.1 L1177.8,1722.0 L1182.7,1692.9 L1186.7,1712.3 L1191.6,1710.7 L1195.6,1720.4 L1200.5,1709.1 L1205.3,1709.1 L1210.2,1714.7 L1215.1,1722.8 L1219.1,1720.4 L1224.0,1705.8 L1228.8,1696.9 L1232.9,1713.9 L1237.7,1726.1 L1242.6,1700.1 L1247.5,1709.1 L1251.5,1722.0 L1256.4,1734.2 L1261.2,1699.3 L1266.1,1710.7 L1270.9,1711.5 L1275.0,1713.1 L1279.0,1726.1 L1283.9,1715.5 L1288.8,1706.6 L1293.6,1707.4 L1298.5,1711.5 L1302.5,1716.3 L1306.6,1704.2 L1311.4,1709.1 L1312.5,1710.0" fill="none" stroke="#00FF0A" stroke-width="3.6" stroke-linejoin="round" stroke-linecap="round"/>
</g>
<line x1="762.3" y1="1613.8" x2="762.3" y2="1742.4" stroke="#000" stroke-width="2.2"/>
<line x1="756.3" y1="1711.8" x2="762.3" y2="1711.8" stroke="#000" stroke-width="2"/>
<text transform="translate(753.3,1719.5) scale(0.93,1)" font-size="25" font-weight="bold" text-anchor="end">0</text>
<line x1="756.3" y1="1673.2" x2="762.3" y2="1673.2" stroke="#000" stroke-width="2"/>
<text transform="translate(753.3,1680.9) scale(0.93,1)" font-size="25" font-weight="bold" text-anchor="end">100</text>
<line x1="756.3" y1="1634.5" x2="762.3" y2="1634.5" stroke="#000" stroke-width="2"/>
<text transform="translate(753.3,1642.2) scale(0.93,1)" font-size="25" font-weight="bold" text-anchor="end">200</text>
<line x1="761.3" y1="1741.4" x2="1311.5" y2="1741.4" stroke="#000" stroke-width="2.2"/>
<line x1="850.7" y1="1741.4" x2="850.7" y2="1746.4" stroke="#000" stroke-width="2"/>
<text transform="translate(850.7,1769.3) scale(0.93,1)" font-size="25" font-weight="bold" text-anchor="middle">5</text>
<line x1="942.7" y1="1741.4" x2="942.7" y2="1746.4" stroke="#000" stroke-width="2"/>
<text transform="translate(942.7,1769.3) scale(0.93,1)" font-size="25" font-weight="bold" text-anchor="middle">10</text>
<line x1="1034.7" y1="1741.4" x2="1034.7" y2="1746.4" stroke="#000" stroke-width="2"/>
<text transform="translate(1034.7,1769.3) scale(0.93,1)" font-size="25" font-weight="bold" text-anchor="middle">15</text>
<line x1="1126.7" y1="1741.4" x2="1126.7" y2="1746.4" stroke="#000" stroke-width="2"/>
<text transform="translate(1126.7,1769.3) scale(0.93,1)" font-size="25" font-weight="bold" text-anchor="middle">20</text>
<line x1="1218.7" y1="1741.4" x2="1218.7" y2="1746.4" stroke="#000" stroke-width="2"/>
<text transform="translate(1218.7,1769.3) scale(0.93,1)" font-size="25" font-weight="bold" text-anchor="middle">25</text>
<line x1="1310.7" y1="1741.4" x2="1310.7" y2="1746.4" stroke="#000" stroke-width="2"/>
<text transform="translate(1310.7,1769.3) scale(0.93,1)" font-size="25" font-weight="bold" text-anchor="middle">30</text>
<line x1="804.7" y1="1741.4" x2="804.7" y2="1744.9" stroke="#000" stroke-width="1.8"/>
<line x1="896.7" y1="1741.4" x2="896.7" y2="1744.9" stroke="#000" stroke-width="1.8"/>
<line x1="988.7" y1="1741.4" x2="988.7" y2="1744.9" stroke="#000" stroke-width="1.8"/>
<line x1="1080.7" y1="1741.4" x2="1080.7" y2="1744.9" stroke="#000" stroke-width="1.8"/>
<line x1="1172.7" y1="1741.4" x2="1172.7" y2="1744.9" stroke="#000" stroke-width="1.8"/>
<line x1="1264.7" y1="1741.4" x2="1264.7" y2="1744.9" stroke="#000" stroke-width="1.8"/>
<clipPath id="c11"><rect x="762.3" y="1775.3" width="553.2" height="136.29999999999995"/></clipPath>
<g clip-path="url(#c11)">
<path d="M763.2,1803.3 L767.8,1817.1 L772.6,1803.8 L777.0,1805.0 L781.9,1800.9 L786.2,1813.1 L790.8,1799.3 L795.6,1815.5 L800.5,1813.6 L805.0,1814.7 L809.4,1800.6 L814.3,1797.7 L818.6,1796.1 L823.5,1805.0 L828.0,1800.9 L832.6,1815.5 L837.4,1803.8 L841.8,1805.8 L846.2,1816.3 L850.7,1808.2 L855.6,1809.8 L860.4,1814.7 L864.5,1805.0 L869.8,1802.5 L874.2,1810.6 L878.6,1801.7 L883.1,1814.7 L888.0,1820.0 L892.5,1805.0 L897.4,1805.8 L901.7,1807.4 L906.1,1792.8 L910.6,1792.8 L915.2,1785.5 L920.0,1813.9 L924.4,1792.0 L929.3,1809.0 L934.1,1804.2 L938.2,1802.5 L943.0,1797.7 L947.9,1792.0 L952.4,1804.2 L956.8,1816.3 L961.7,1795.2 L965.7,1800.1 L970.6,1794.4 L975.4,1791.2 L980.3,1791.2 L985.2,1804.2 L988.4,1831.7 L990.8,1856.0 L993.3,1882.7 L998.1,1877.1 L1003.0,1873.0 L1007.5,1886.8 L1011.9,1878.7 L1016.7,1881.1 L1021.6,1881.9 L1026.0,1885.2 L1030.5,1874.6 L1035.4,1884.3 L1039.9,1874.6 L1044.3,1883.5 L1049.1,1879.5 L1054.0,1880.3 L1058.1,1868.1 L1062.8,1878.7 L1066.8,1878.7 L1071.7,1886.8 L1076.6,1870.6 L1081.4,1873.0 L1085.5,1873.8 L1090.3,1882.7 L1094.4,1869.8 L1099.2,1881.9 L1104.1,1886.0 L1109.0,1880.3 L1113.0,1874.6 L1117.9,1877.1 L1122.7,1877.1 L1127.6,1878.7 L1131.6,1881.1 L1135.7,1888.4 L1140.5,1878.7 L1145.4,1870.6 L1150.3,1884.3 L1154.3,1872.2 L1159.2,1885.2 L1163.2,1877.9 L1168.1,1877.1 L1172.9,1878.7 L1177.0,1878.7 L1181.8,1876.2 L1186.7,1875.4 L1191.6,1870.6 L1196.4,1879.5 L1200.5,1869.0 L1205.3,1881.1 L1210.2,1876.2 L1215.1,1875.4 L1219.1,1872.2 L1223.2,1882.7 L1228.0,1882.7 L1232.9,1873.8 L1237.7,1884.3 L1242.6,1883.5 L1246.6,1877.9 L1251.5,1867.3 L1256.4,1878.7 L1261.2,1880.3 L1265.3,1877.9 L1270.1,1881.9 L1274.2,1884.3 L1279.0,1874.6 L1283.9,1884.3 L1288.8,1873.0 L1292.8,1884.3 L1297.7,1869.0 L1301.7,1882.7 L1306.6,1877.1 L1311.4,1879.5 L1312.5,1877.7" fill="none" stroke="#FF0000" stroke-width="3.6" stroke-linejoin="round" stroke-linecap="round"/>
</g>
<line x1="762.3" y1="1781.3" x2="762.3" y2="1910.6" stroke="#000" stroke-width="2.2"/>
<line x1="756.3" y1="1877.2" x2="762.3" y2="1877.2" stroke="#000" stroke-width="2"/>
<text transform="translate(753.3,1884.9) scale(0.93,1)" font-size="25" font-weight="bold" text-anchor="end">0</text>
<line x1="756.3" y1="1835.2" x2="762.3" y2="1835.2" stroke="#000" stroke-width="2"/>
<text transform="translate(753.3,1842.9) scale(0.93,1)" font-size="25" font-weight="bold" text-anchor="end">100</text>
<line x1="756.3" y1="1793.1" x2="762.3" y2="1793.1" stroke="#000" stroke-width="2"/>
<text transform="translate(753.3,1800.8) scale(0.93,1)" font-size="25" font-weight="bold" text-anchor="end">200</text>
<line x1="761.3" y1="1909.6" x2="1311.5" y2="1909.6" stroke="#000" stroke-width="2.2"/>
<line x1="850.7" y1="1909.6" x2="850.7" y2="1914.6" stroke="#000" stroke-width="2"/>
<text transform="translate(850.7,1936.9) scale(0.93,1)" font-size="25" font-weight="bold" text-anchor="middle">5</text>
<line x1="942.7" y1="1909.6" x2="942.7" y2="1914.6" stroke="#000" stroke-width="2"/>
<text transform="translate(942.7,1936.9) scale(0.93,1)" font-size="25" font-weight="bold" text-anchor="middle">10</text>
<line x1="1034.7" y1="1909.6" x2="1034.7" y2="1914.6" stroke="#000" stroke-width="2"/>
<text transform="translate(1034.7,1936.9) scale(0.93,1)" font-size="25" font-weight="bold" text-anchor="middle">15</text>
<line x1="1126.7" y1="1909.6" x2="1126.7" y2="1914.6" stroke="#000" stroke-width="2"/>
<text transform="translate(1126.7,1936.9) scale(0.93,1)" font-size="25" font-weight="bold" text-anchor="middle">20</text>
<line x1="1218.7" y1="1909.6" x2="1218.7" y2="1914.6" stroke="#000" stroke-width="2"/>
<text transform="translate(1218.7,1936.9) scale(0.93,1)" font-size="25" font-weight="bold" text-anchor="middle">25</text>
<line x1="1310.7" y1="1909.6" x2="1310.7" y2="1914.6" stroke="#000" stroke-width="2"/>
<text transform="translate(1310.7,1936.9) scale(0.93,1)" font-size="25" font-weight="bold" text-anchor="middle">30</text>
<line x1="804.7" y1="1909.6" x2="804.7" y2="1913.1" stroke="#000" stroke-width="1.8"/>
<line x1="896.7" y1="1909.6" x2="896.7" y2="1913.1" stroke="#000" stroke-width="1.8"/>
<line x1="988.7" y1="1909.6" x2="988.7" y2="1913.1" stroke="#000" stroke-width="1.8"/>
<line x1="1080.7" y1="1909.6" x2="1080.7" y2="1913.1" stroke="#000" stroke-width="1.8"/>
<line x1="1172.7" y1="1909.6" x2="1172.7" y2="1913.1" stroke="#000" stroke-width="1.8"/>
<line x1="1264.7" y1="1909.6" x2="1264.7" y2="1913.1" stroke="#000" stroke-width="1.8"/>
<clipPath id="c12"><rect x="762.3" y="1943.2" width="553.2" height="136.29999999999995"/></clipPath>
<g clip-path="url(#c12)">
<path d="M763.2,1964.1 L767.3,1972.2 L772.1,1969.7 L777.0,1974.6 L781.9,1969.7 L786.2,1980.3 L790.8,1980.3 L795.6,1971.3 L800.5,1970.5 L805.0,1979.4 L809.4,1982.7 L814.3,1968.1 L818.6,1991.6 L823.2,1976.2 L828.0,1978.6 L832.6,1973.8 L837.4,1982.7 L841.8,1991.6 L846.7,1987.5 L850.7,1968.1 L855.6,1966.5 L860.4,1969.7 L865.0,1978.6 L869.3,1973.0 L874.2,1971.8 L878.6,1984.3 L883.1,1967.0 L887.6,1987.5 L892.0,1977.8 L896.9,1967.3 L901.3,1979.4 L905.8,1981.6 L910.6,1977.8 L915.2,1969.7 L920.0,1974.6 L924.4,1976.2 L929.3,1980.3 L933.7,1990.8 L935.8,2024.0 L938.2,2049.1 L942.7,2067.7 L1310.5,2067.5" fill="none" stroke="#000" stroke-width="4.4" stroke-linejoin="round" stroke-linecap="round"/>
</g>
<line x1="762.3" y1="1949.2" x2="762.3" y2="2078.5" stroke="#000" stroke-width="2.2"/>
<line x1="756.3" y1="2067.5" x2="762.3" y2="2067.5" stroke="#000" stroke-width="2"/>
<text transform="translate(753.3,2075.2) scale(0.93,1)" font-size="25" font-weight="bold" text-anchor="end">0.0</text>
<line x1="756.3" y1="2028.1" x2="762.3" y2="2028.1" stroke="#000" stroke-width="2"/>
<text transform="translate(753.3,2035.8) scale(0.93,1)" font-size="25" font-weight="bold" text-anchor="end">0.4</text>
<line x1="756.3" y1="1988.6" x2="762.3" y2="1988.6" stroke="#000" stroke-width="2"/>
<text transform="translate(753.3,1996.3) scale(0.93,1)" font-size="25" font-weight="bold" text-anchor="end">0.8</text>
<line x1="756.3" y1="1949.2" x2="762.3" y2="1949.2" stroke="#000" stroke-width="2"/>
<text transform="translate(753.3,1956.9) scale(0.93,1)" font-size="25" font-weight="bold" text-anchor="end">1.2</text>
<line x1="761.3" y1="2077.5" x2="1311.5" y2="2077.5" stroke="#000" stroke-width="2.2"/>
<line x1="850.7" y1="2077.5" x2="850.7" y2="2082.5" stroke="#000" stroke-width="2"/>
<text transform="translate(850.7,2104.4) scale(0.93,1)" font-size="25" font-weight="bold" text-anchor="middle">5</text>
<line x1="942.7" y1="2077.5" x2="942.7" y2="2082.5" stroke="#000" stroke-width="2"/>
<text transform="translate(942.7,2104.4) scale(0.93,1)" font-size="25" font-weight="bold" text-anchor="middle">10</text>
<line x1="1034.7" y1="2077.5" x2="1034.7" y2="2082.5" stroke="#000" stroke-width="2"/>
<text transform="translate(1034.7,2104.4) scale(0.93,1)" font-size="25" font-weight="bold" text-anchor="middle">15</text>
<line x1="1126.7" y1="2077.5" x2="1126.7" y2="2082.5" stroke="#000" stroke-width="2"/>
<text transform="translate(1126.7,2104.4) scale(0.93,1)" font-size="25" font-weight="bold" text-anchor="middle">20</text>
<line x1="1218.7" y1="2077.5" x2="1218.7" y2="2082.5" stroke="#000" stroke-width="2"/>
<text transform="translate(1218.7,2104.4) scale(0.93,1)" font-size="25" font-weight="bold" text-anchor="middle">25</text>
<line x1="1310.7" y1="2077.5" x2="1310.7" y2="2082.5" stroke="#000" stroke-width="2"/>
<text transform="translate(1310.7,2104.4) scale(0.93,1)" font-size="25" font-weight="bold" text-anchor="middle">30</text>
<line x1="804.7" y1="2077.5" x2="804.7" y2="2081.0" stroke="#000" stroke-width="1.8"/>
<line x1="896.7" y1="2077.5" x2="896.7" y2="2081.0" stroke="#000" stroke-width="1.8"/>
<line x1="988.7" y1="2077.5" x2="988.7" y2="2081.0" stroke="#000" stroke-width="1.8"/>
<line x1="1080.7" y1="2077.5" x2="1080.7" y2="2081.0" stroke="#000" stroke-width="1.8"/>
<line x1="1172.7" y1="2077.5" x2="1172.7" y2="2081.0" stroke="#000" stroke-width="1.8"/>
<line x1="1264.7" y1="2077.5" x2="1264.7" y2="2081.0" stroke="#000" stroke-width="1.8"/>
<line x1="933.7" y1="1613.0" x2="933.7" y2="2077.0" stroke="#222" stroke-width="1.5" stroke-dasharray="5 3"/>
<line x1="948.7" y1="1613.0" x2="948.7" y2="2077.0" stroke="#222" stroke-width="1.5" stroke-dasharray="5 3"/>
<line x1="993.2" y1="1613.0" x2="993.2" y2="2077.0" stroke="#222" stroke-width="1.5" stroke-dasharray="5 3"/>
<text transform="translate(1301.0,1651.7) scale(0.925,1)" font-size="30.8" font-weight="bold" text-anchor="end">532 nm</text>
<text transform="translate(1301.0,1819.9) scale(0.925,1)" font-size="30.8" font-weight="bold" text-anchor="end">640 nm</text>
<text transform="translate(702.2,1761.0) rotate(-90)" font-size="25.8" font-weight="bold" text-anchor="middle">Fl. intensity (arb. units)</text>
<text transform="translate(702.2,2014.0) rotate(-90)" font-size="25.5" font-weight="bold" text-anchor="middle">FRET</text>
<text x="1035.5" y="2139.0" font-size="25.3" font-weight="bold" text-anchor="middle">Time (seconds)</text>
<text x="1348.7" y="1599.0" font-size="32.5" font-weight="bold">g</text>
<clipPath id="c13"><rect x="1437.1" y="1607.3" width="552.4000000000001" height="136.5"/></clipPath>
<g clip-path="url(#c13)">
<path d="M1438.2,1732.5 L1442.8,1662.1 L1447.1,1630.5 L1452.0,1654.8 L1456.1,1647.5 L1460.9,1649.9 L1465.5,1635.8 L1470.3,1655.6 L1474.7,1648.8 L1478.7,1662.1 L1482.0,1691.2 L1483.6,1718.8 L1488.5,1718.0 L1493.3,1707.4 L1498.2,1705.0 L1502.7,1714.7 L1507.6,1718.4 L1512.4,1718.4 L1516.8,1718.4 L1521.7,1705.0 L1526.5,1708.7 L1531.4,1713.1 L1535.4,1715.2 L1540.3,1717.5 L1545.2,1710.7 L1549.2,1724.4 L1554.1,1705.0 L1558.9,1727.7 L1563.0,1730.9 L1567.8,1725.3 L1572.4,1721.2 L1576.7,1720.4 L1581.6,1718.8 L1586.5,1705.0 L1591.3,1718.8 L1595.4,1715.5 L1600.2,1713.9 L1605.1,1730.1 L1609.9,1707.4 L1614.0,1717.2 L1618.9,1711.5 L1623.7,1722.0 L1627.8,1718.0 L1632.6,1718.8 L1636.7,1721.2 L1641.5,1713.9 L1646.4,1727.7 L1650.4,1718.0 L1656.1,1714.7 L1660.2,1722.0 L1664.7,1715.5 L1669.6,1717.2 L1673.9,1715.5 L1678.8,1718.8 L1683.7,1723.6 L1687.7,1714.7 L1692.6,1718.0 L1697.4,1713.1 L1702.3,1712.3 L1707.1,1730.9 L1711.2,1726.9 L1716.0,1712.3 L1720.9,1706.6 L1725.8,1727.7 L1729.8,1711.5 L1733.9,1708.2 L1739.4,1723.6 L1744.3,1718.8 L1749.1,1719.6 L1754.0,1722.0 L1758.0,1712.3 L1762.9,1717.2 L1766.9,1720.4 L1771.8,1718.8 L1776.7,1729.3 L1780.7,1724.4 L1785.6,1714.7 L1790.4,1724.4 L1795.3,1722.8 L1799.3,1720.4 L1804.2,1721.2 L1809.1,1718.0 L1813.1,1718.8 L1818.0,1714.7 L1822.8,1722.8 L1827.7,1722.8 L1832.5,1714.7 L1837.4,1716.3 L1842.3,1728.5 L1846.3,1710.7 L1851.2,1720.4 L1856.0,1717.2 L1860.1,1719.6 L1864.9,1714.7 L1869.8,1724.4 L1873.9,1715.5 L1878.7,1713.9 L1883.6,1711.5 L1887.6,1718.8 L1892.5,1721.2 L1897.3,1718.8 L1902.2,1724.4 L1907.1,1725.3 L1911.1,1715.5 L1916.0,1720.4 L1920.0,1710.7 L1924.9,1727.7 L1929.7,1725.3 L1934.6,1710.7 L1938.7,1718.8 L1943.5,1724.4 L1948.4,1718.8 L1953.2,1714.7 L1958.1,1721.2 L1962.9,1722.8 L1967.8,1720.4 L1972.7,1721.2 L1976.7,1712.3 L1981.6,1726.1 L1985.6,1726.9" fill="none" stroke="#FF0000" stroke-width="3.6" stroke-linejoin="round" stroke-linecap="round"/>
<path d="M1438.2,1705.8 L1442.8,1711.5 L1447.1,1710.7 L1452.0,1705.8 L1456.1,1710.7 L1460.9,1696.9 L1465.5,1702.6 L1470.3,1685.6 L1474.7,1709.1 L1479.5,1709.1 L1483.6,1641.8 L1487.6,1668.6 L1493.3,1676.7 L1498.2,1658.8 L1502.7,1636.2 L1507.6,1616.7 L1512.4,1628.1 L1516.8,1636.2 L1521.7,1636.2 L1526.5,1636.2 L1530.6,1655.6 L1534.6,1683.1 L1539.5,1688.8 L1543.5,1706.6 L1549.2,1708.2 L1554.1,1727.7 L1558.9,1712.3 L1563.0,1705.0 L1567.8,1711.5 L1572.7,1718.0 L1577.2,1713.9 L1581.6,1721.2 L1586.5,1703.4 L1591.3,1724.9 L1596.2,1719.6 L1600.2,1709.1 L1605.1,1718.0 L1609.9,1704.2 L1614.8,1720.4 L1618.9,1736.6 L1622.9,1738.2 L1627.8,1731.7 L1632.6,1726.9 L1637.5,1722.8 L1641.5,1723.6 L1646.4,1720.4 L1651.3,1722.8 L1656.1,1722.8 L1660.2,1725.3 L1665.0,1726.9 L1669.9,1724.4 L1674.7,1714.7 L1679.6,1718.0 L1683.7,1721.2 L1688.5,1716.3 L1693.4,1719.6 L1697.4,1722.0 L1702.3,1712.3 L1707.1,1716.3 L1712.0,1723.6 L1716.0,1726.1 L1720.9,1721.2 L1725.8,1718.8 L1729.8,1709.9 L1733.9,1718.8 L1739.4,1713.1 L1744.3,1723.6 L1749.1,1716.3 L1754.0,1718.8 L1758.8,1713.9 L1762.9,1715.5 L1767.8,1720.4 L1771.8,1726.9 L1776.7,1719.6 L1781.5,1722.8 L1786.4,1723.6 L1790.4,1705.8 L1795.3,1718.8 L1800.2,1717.2 L1805.0,1713.1 L1809.9,1717.2 L1813.9,1722.8 L1818.8,1711.5 L1823.6,1718.8 L1827.7,1720.4 L1832.5,1709.9 L1837.4,1717.2 L1842.3,1712.3 L1846.3,1709.9 L1851.2,1726.1 L1855.2,1715.5 L1860.1,1718.0 L1864.9,1719.6 L1869.0,1720.4 L1873.9,1723.6 L1878.7,1716.3 L1883.6,1714.7 L1887.6,1723.6 L1892.5,1730.9 L1897.3,1723.6 L1902.2,1721.2 L1907.1,1717.2 L1911.1,1728.5 L1916.0,1713.9 L1920.8,1705.8 L1925.7,1713.9 L1929.7,1721.2 L1934.6,1714.7 L1939.5,1717.2 L1943.5,1713.9 L1948.4,1718.8 L1953.2,1723.6 L1958.1,1718.8 L1962.9,1714.7 L1967.8,1710.7 L1972.7,1723.6 L1976.7,1720.4 L1981.6,1718.8 L1985.6,1722.8" fill="none" stroke="#00FF0A" stroke-width="3.6" stroke-linejoin="round" stroke-linecap="round"/>
</g>
<line x1="1437.1" y1="1613.3" x2="1437.1" y2="1742.8" stroke="#000" stroke-width="2.2"/>
<line x1="1431.1" y1="1718.8" x2="1437.1" y2="1718.8" stroke="#000" stroke-width="2"/>
<text transform="translate(1428.1,1726.5) scale(0.93,1)" font-size="25" font-weight="bold" text-anchor="end">0</text>
<line x1="1431.1" y1="1685.8" x2="1437.1" y2="1685.8" stroke="#000" stroke-width="2"/>
<text transform="translate(1428.1,1693.5) scale(0.93,1)" font-size="25" font-weight="bold" text-anchor="end">100</text>
<line x1="1431.1" y1="1652.9" x2="1437.1" y2="1652.9" stroke="#000" stroke-width="2"/>
<text transform="translate(1428.1,1660.6) scale(0.93,1)" font-size="25" font-weight="bold" text-anchor="end">200</text>
<line x1="1436.1" y1="1741.8" x2="1985.5" y2="1741.8" stroke="#000" stroke-width="2.2"/>
<line x1="1520.6" y1="1741.8" x2="1520.6" y2="1746.8" stroke="#000" stroke-width="2"/>
<text transform="translate(1520.6,1769.5) scale(0.93,1)" font-size="25" font-weight="bold" text-anchor="middle">5</text>
<line x1="1613.9" y1="1741.8" x2="1613.9" y2="1746.8" stroke="#000" stroke-width="2"/>
<text transform="translate(1613.9,1769.5) scale(0.93,1)" font-size="25" font-weight="bold" text-anchor="middle">10</text>
<line x1="1707.2" y1="1741.8" x2="1707.2" y2="1746.8" stroke="#000" stroke-width="2"/>
<text transform="translate(1707.2,1769.5) scale(0.93,1)" font-size="25" font-weight="bold" text-anchor="middle">15</text>
<line x1="1800.5" y1="1741.8" x2="1800.5" y2="1746.8" stroke="#000" stroke-width="2"/>
<text transform="translate(1800.5,1769.5) scale(0.93,1)" font-size="25" font-weight="bold" text-anchor="middle">20</text>
<line x1="1893.8" y1="1741.8" x2="1893.8" y2="1746.8" stroke="#000" stroke-width="2"/>
<text transform="translate(1893.8,1769.5) scale(0.93,1)" font-size="25" font-weight="bold" text-anchor="middle">25</text>
<line x1="1987.1" y1="1741.8" x2="1987.1" y2="1746.8" stroke="#000" stroke-width="2"/>
<text transform="translate(1987.1,1769.5) scale(0.93,1)" font-size="25" font-weight="bold" text-anchor="middle">30</text>
<line x1="1474.0" y1="1741.8" x2="1474.0" y2="1745.3" stroke="#000" stroke-width="1.8"/>
<line x1="1567.2" y1="1741.8" x2="1567.2" y2="1745.3" stroke="#000" stroke-width="1.8"/>
<line x1="1660.5" y1="1741.8" x2="1660.5" y2="1745.3" stroke="#000" stroke-width="1.8"/>
<line x1="1753.8" y1="1741.8" x2="1753.8" y2="1745.3" stroke="#000" stroke-width="1.8"/>
<line x1="1847.2" y1="1741.8" x2="1847.2" y2="1745.3" stroke="#000" stroke-width="1.8"/>
<line x1="1940.4" y1="1741.8" x2="1940.4" y2="1745.3" stroke="#000" stroke-width="1.8"/>
<clipPath id="c14"><rect x="1437.1" y="1775" width="552.4000000000001" height="136.0999999999999"/></clipPath>
<g clip-path="url(#c14)">
<path d="M1438.2,1855.2 L1442.3,1787.1 L1447.1,1818.7 L1451.5,1849.5 L1456.1,1821.2 L1460.9,1830.1 L1465.5,1811.4 L1470.3,1812.3 L1474.7,1803.3 L1479.1,1856.0 L1483.6,1839.8 L1488.5,1862.5 L1493.3,1885.2 L1498.2,1881.9 L1502.7,1874.6 L1507.6,1881.1 L1512.4,1881.9 L1516.8,1879.5 L1521.7,1874.6 L1526.0,1888.4 L1530.6,1863.3 L1535.4,1868.1 L1540.0,1879.5 L1544.8,1881.9 L1549.2,1886.0 L1553.6,1870.6 L1558.4,1869.0 L1563.0,1873.8 L1567.5,1893.3 L1572.4,1885.2 L1577.2,1886.4 L1581.6,1877.9 L1586.5,1897.3 L1590.8,1890.8 L1595.4,1870.6 L1600.2,1876.2 L1604.8,1890.8 L1609.1,1878.7 L1614.0,1875.4 L1618.9,1883.5 L1623.2,1887.6 L1627.8,1881.9 L1632.3,1885.2 L1637.2,1880.3 L1641.5,1886.0 L1646.4,1885.2 L1651.3,1861.7 L1655.6,1875.4 L1660.2,1877.1 L1665.0,1867.3 L1669.6,1867.3 L1674.4,1863.3 L1679.3,1863.8 L1683.7,1869.8 L1688.0,1859.2 L1692.9,1878.7 L1697.4,1864.9 L1702.3,1857.6 L1706.8,1872.2 L1711.2,1886.0 L1716.0,1883.5 L1720.9,1868.1 L1725.8,1881.9 L1729.8,1864.1 L1733.9,1857.6 L1739.9,1887.6 L1744.3,1861.7 L1749.1,1870.6 L1754.0,1873.8 L1758.8,1869.8 L1762.9,1884.3 L1767.8,1881.9 L1772.6,1872.2 L1777.5,1863.3 L1781.5,1881.1 L1786.4,1881.9 L1791.2,1863.3 L1795.3,1872.2 L1800.2,1869.0 L1805.0,1850.3 L1809.4,1878.7 L1813.9,1864.1 L1818.8,1870.6 L1823.6,1866.5 L1828.5,1860.9 L1832.5,1872.2 L1837.4,1880.3 L1842.3,1861.7 L1846.3,1874.6 L1851.2,1867.3 L1856.0,1873.0 L1860.9,1870.6 L1864.9,1859.2 L1869.8,1874.6 L1874.7,1870.6 L1879.5,1867.3 L1883.6,1866.5 L1888.4,1872.2 L1892.5,1869.0 L1897.3,1877.9 L1902.2,1868.1 L1907.1,1863.3 L1911.1,1879.5 L1916.0,1868.1 L1920.0,1873.8 L1924.9,1889.2 L1929.7,1854.4 L1934.6,1870.6 L1939.5,1859.2 L1943.5,1877.9 L1948.4,1869.0 L1953.2,1882.7 L1958.1,1877.9 L1962.9,1880.3 L1967.8,1877.1 L1971.9,1862.5 L1976.7,1866.5 L1981.6,1878.7 L1985.6,1866.5" fill="none" stroke="#FF0000" stroke-width="3.6" stroke-linejoin="round" stroke-linecap="round"/>
</g>
<line x1="1437.1" y1="1781.0" x2="1437.1" y2="1910.1" stroke="#000" stroke-width="2.2"/>
<line x1="1431.1" y1="1898.0" x2="1437.1" y2="1898.0" stroke="#000" stroke-width="2"/>
<text transform="translate(1428.1,1905.8) scale(0.93,1)" font-size="25" font-weight="bold" text-anchor="end">-50</text>
<line x1="1431.1" y1="1870.0" x2="1437.1" y2="1870.0" stroke="#000" stroke-width="2"/>
<text transform="translate(1428.1,1877.7) scale(0.93,1)" font-size="25" font-weight="bold" text-anchor="end">0</text>
<line x1="1431.1" y1="1842.0" x2="1437.1" y2="1842.0" stroke="#000" stroke-width="2"/>
<text transform="translate(1428.1,1849.7) scale(0.93,1)" font-size="25" font-weight="bold" text-anchor="end">50</text>
<line x1="1431.1" y1="1813.9" x2="1437.1" y2="1813.9" stroke="#000" stroke-width="2"/>
<text transform="translate(1428.1,1821.6) scale(0.93,1)" font-size="25" font-weight="bold" text-anchor="end">100</text>
<line x1="1436.1" y1="1909.1" x2="1985.5" y2="1909.1" stroke="#000" stroke-width="2.2"/>
<line x1="1520.6" y1="1909.1" x2="1520.6" y2="1914.1" stroke="#000" stroke-width="2"/>
<text transform="translate(1520.6,1936.8) scale(0.93,1)" font-size="25" font-weight="bold" text-anchor="middle">5</text>
<line x1="1613.9" y1="1909.1" x2="1613.9" y2="1914.1" stroke="#000" stroke-width="2"/>
<text transform="translate(1613.9,1936.8) scale(0.93,1)" font-size="25" font-weight="bold" text-anchor="middle">10</text>
<line x1="1707.2" y1="1909.1" x2="1707.2" y2="1914.1" stroke="#000" stroke-width="2"/>
<text transform="translate(1707.2,1936.8) scale(0.93,1)" font-size="25" font-weight="bold" text-anchor="middle">15</text>
<line x1="1800.5" y1="1909.1" x2="1800.5" y2="1914.1" stroke="#000" stroke-width="2"/>
<text transform="translate(1800.5,1936.8) scale(0.93,1)" font-size="25" font-weight="bold" text-anchor="middle">20</text>
<line x1="1893.8" y1="1909.1" x2="1893.8" y2="1914.1" stroke="#000" stroke-width="2"/>
<text transform="translate(1893.8,1936.8) scale(0.93,1)" font-size="25" font-weight="bold" text-anchor="middle">25</text>
<line x1="1987.1" y1="1909.1" x2="1987.1" y2="1914.1" stroke="#000" stroke-width="2"/>
<text transform="translate(1987.1,1936.8) scale(0.93,1)" font-size="25" font-weight="bold" text-anchor="middle">30</text>
<line x1="1474.0" y1="1909.1" x2="1474.0" y2="1912.6" stroke="#000" stroke-width="1.8"/>
<line x1="1567.2" y1="1909.1" x2="1567.2" y2="1912.6" stroke="#000" stroke-width="1.8"/>
<line x1="1660.5" y1="1909.1" x2="1660.5" y2="1912.6" stroke="#000" stroke-width="1.8"/>
<line x1="1753.8" y1="1909.1" x2="1753.8" y2="1912.6" stroke="#000" stroke-width="1.8"/>
<line x1="1847.2" y1="1909.1" x2="1847.2" y2="1912.6" stroke="#000" stroke-width="1.8"/>
<line x1="1940.4" y1="1909.1" x2="1940.4" y2="1912.6" stroke="#000" stroke-width="1.8"/>
<clipPath id="c15"><rect x="1437.1" y="1943.4" width="552.4000000000001" height="136.0999999999999"/></clipPath>
<g clip-path="url(#c15)">
<path d="M1437.4,1949.5 L1439.0,1952.7 L1442.3,1995.6 L1447.1,1984.3 L1452.0,1991.6 L1456.9,2001.0 L1460.9,1998.9 L1465.5,1992.4 L1470.3,1990.0 L1474.7,2006.2 L1479.5,1990.8 L1483.6,2067.7 L1488.5,2066.9 L1984.5,2068.4" fill="none" stroke="#000" stroke-width="4.4" stroke-linejoin="round" stroke-linecap="round"/>
</g>
<line x1="1437.1" y1="1949.4" x2="1437.1" y2="2078.5" stroke="#000" stroke-width="2.2"/>
<line x1="1431.1" y1="2068.4" x2="1437.1" y2="2068.4" stroke="#000" stroke-width="2"/>
<text transform="translate(1428.1,2076.1) scale(0.93,1)" font-size="25" font-weight="bold" text-anchor="end">0.0</text>
<line x1="1431.1" y1="2022.6" x2="1437.1" y2="2022.6" stroke="#000" stroke-width="2"/>
<text transform="translate(1428.1,2030.3) scale(0.93,1)" font-size="25" font-weight="bold" text-anchor="end">0.5</text>
<line x1="1431.1" y1="1976.8" x2="1437.1" y2="1976.8" stroke="#000" stroke-width="2"/>
<text transform="translate(1428.1,1984.5) scale(0.93,1)" font-size="25" font-weight="bold" text-anchor="end">1.0</text>
<line x1="1436.1" y1="2077.5" x2="1985.5" y2="2077.5" stroke="#000" stroke-width="2.2"/>
<line x1="1520.6" y1="2077.5" x2="1520.6" y2="2082.5" stroke="#000" stroke-width="2"/>
<text transform="translate(1520.6,2104.4) scale(0.93,1)" font-size="25" font-weight="bold" text-anchor="middle">5</text>
<line x1="1613.9" y1="2077.5" x2="1613.9" y2="2082.5" stroke="#000" stroke-width="2"/>
<text transform="translate(1613.9,2104.4) scale(0.93,1)" font-size="25" font-weight="bold" text-anchor="middle">10</text>
<line x1="1707.2" y1="2077.5" x2="1707.2" y2="2082.5" stroke="#000" stroke-width="2"/>
<text transform="translate(1707.2,2104.4) scale(0.93,1)" font-size="25" font-weight="bold" text-anchor="middle">15</text>
<line x1="1800.5" y1="2077.5" x2="1800.5" y2="2082.5" stroke="#000" stroke-width="2"/>
<text transform="translate(1800.5,2104.4) scale(0.93,1)" font-size="25" font-weight="bold" text-anchor="middle">20</text>
<line x1="1893.8" y1="2077.5" x2="1893.8" y2="2082.5" stroke="#000" stroke-width="2"/>
<text transform="translate(1893.8,2104.4) scale(0.93,1)" font-size="25" font-weight="bold" text-anchor="middle">25</text>
<line x1="1987.1" y1="2077.5" x2="1987.1" y2="2082.5" stroke="#000" stroke-width="2"/>
<text transform="translate(1987.1,2104.4) scale(0.93,1)" font-size="25" font-weight="bold" text-anchor="middle">30</text>
<line x1="1474.0" y1="2077.5" x2="1474.0" y2="2081.0" stroke="#000" stroke-width="1.8"/>
<line x1="1567.2" y1="2077.5" x2="1567.2" y2="2081.0" stroke="#000" stroke-width="1.8"/>
<line x1="1660.5" y1="2077.5" x2="1660.5" y2="2081.0" stroke="#000" stroke-width="1.8"/>
<line x1="1753.8" y1="2077.5" x2="1753.8" y2="2081.0" stroke="#000" stroke-width="1.8"/>
<line x1="1847.2" y1="2077.5" x2="1847.2" y2="2081.0" stroke="#000" stroke-width="1.8"/>
<line x1="1940.4" y1="2077.5" x2="1940.4" y2="2081.0" stroke="#000" stroke-width="1.8"/>
<line x1="1480.7" y1="1613.0" x2="1480.7" y2="2077.0" stroke="#222" stroke-width="1.5" stroke-dasharray="5 3"/>
<line x1="1493.6" y1="1613.0" x2="1493.6" y2="2077.0" stroke="#222" stroke-width="1.5" stroke-dasharray="5 3"/>
<line x1="1541.9" y1="1613.0" x2="1541.9" y2="2077.0" stroke="#222" stroke-width="1.5" stroke-dasharray="5 3"/>
<text transform="translate(1977.0,1652.2) scale(0.925,1)" font-size="30.8" font-weight="bold" text-anchor="end">532 nm</text>
<text transform="translate(1977.0,1819.5) scale(0.925,1)" font-size="30.8" font-weight="bold" text-anchor="end">640 nm</text>
<text transform="translate(1376.7,1761.0) rotate(-90)" font-size="25.8" font-weight="bold" text-anchor="middle">Fl. intensity (arb. units)</text>
<text transform="translate(1376.7,2014.0) rotate(-90)" font-size="25.5" font-weight="bold" text-anchor="middle">FRET</text>
<text x="1711.0" y="2138.0" font-size="25.3" font-weight="bold" text-anchor="middle">Time (seconds)</text>
<text x="1336.6" y="23.9" font-size="32.5" font-weight="bold">h</text>
<line x1="1437.0" y1="42.8" x2="1437.0" y2="482.4" stroke="#000" stroke-width="2.2"/>
<line x1="1436.0" y1="481.4" x2="1986.3" y2="481.4" stroke="#000" stroke-width="2.2"/>
<line x1="1431.5" y1="481.4" x2="1437.0" y2="481.4" stroke="#000" stroke-width="2"/>
<text transform="translate(1428.8,490.4) scale(0.93,1)" font-size="25" font-weight="bold" text-anchor="end">0</text>
<line x1="1431.5" y1="401.6" x2="1437.0" y2="401.6" stroke="#000" stroke-width="2"/>
<text transform="translate(1428.8,410.6) scale(0.93,1)" font-size="25" font-weight="bold" text-anchor="end">10</text>
<line x1="1431.5" y1="321.8" x2="1437.0" y2="321.8" stroke="#000" stroke-width="2"/>
<text transform="translate(1428.8,330.8) scale(0.93,1)" font-size="25" font-weight="bold" text-anchor="end">20</text>
<line x1="1431.5" y1="242.0" x2="1437.0" y2="242.0" stroke="#000" stroke-width="2"/>
<text transform="translate(1428.8,251.0) scale(0.93,1)" font-size="25" font-weight="bold" text-anchor="end">30</text>
<line x1="1431.5" y1="162.2" x2="1437.0" y2="162.2" stroke="#000" stroke-width="2"/>
<text transform="translate(1428.8,171.2) scale(0.93,1)" font-size="25" font-weight="bold" text-anchor="end">40</text>
<line x1="1431.5" y1="82.4" x2="1437.0" y2="82.4" stroke="#000" stroke-width="2"/>
<text transform="translate(1428.8,91.4) scale(0.93,1)" font-size="25" font-weight="bold" text-anchor="end">50</text>
<line x1="1433.0" y1="441.5" x2="1437.0" y2="441.5" stroke="#000" stroke-width="1.8"/>
<line x1="1433.0" y1="361.7" x2="1437.0" y2="361.7" stroke="#000" stroke-width="1.8"/>
<line x1="1433.0" y1="281.9" x2="1437.0" y2="281.9" stroke="#000" stroke-width="1.8"/>
<line x1="1433.0" y1="202.1" x2="1437.0" y2="202.1" stroke="#000" stroke-width="1.8"/>
<line x1="1433.0" y1="122.3" x2="1437.0" y2="122.3" stroke="#000" stroke-width="1.8"/>
<line x1="1433.0" y1="42.5" x2="1437.0" y2="42.5" stroke="#000" stroke-width="1.8"/>
<rect x="1477.4" y="139.5" width="102.6" height="341.9" fill="#C0C0C0" stroke="#000" stroke-width="2"/>
<line x1="1528.0" y1="139.5" x2="1528.0" y2="97.6" stroke="#000" stroke-width="2"/>
<line x1="1502.0" y1="97.6" x2="1554.0" y2="97.6" stroke="#000" stroke-width="2.2"/>
<line x1="1528.0" y1="481.4" x2="1528.0" y2="487.4" stroke="#000" stroke-width="2"/>
<rect x="1659.7" y="250.8" width="103.3" height="230.6" fill="#C0C0C0" stroke="#000" stroke-width="2"/>
<line x1="1711.7" y1="250.8" x2="1711.7" y2="170.2" stroke="#000" stroke-width="2"/>
<line x1="1685.7" y1="170.2" x2="1737.7" y2="170.2" stroke="#000" stroke-width="2.2"/>
<line x1="1711.7" y1="481.4" x2="1711.7" y2="487.4" stroke="#000" stroke-width="2"/>
<rect x="1842.8" y="251.6" width="103.2" height="229.8" fill="#C0C0C0" stroke="#000" stroke-width="2"/>
<line x1="1894.0" y1="251.6" x2="1894.0" y2="177.4" stroke="#000" stroke-width="2"/>
<line x1="1868.0" y1="177.4" x2="1920.0" y2="177.4" stroke="#000" stroke-width="2.2"/>
<line x1="1894.0" y1="481.4" x2="1894.0" y2="487.4" stroke="#000" stroke-width="2"/>
<text x="1528.0" y="512.5" font-size="24" font-weight="bold" text-anchor="middle">Stx first</text>
<text x="1711.7" y="512.5" font-size="24" font-weight="bold" text-anchor="middle">Both together</text>
<text x="1894.0" y="512.5" font-size="24" font-weight="bold" text-anchor="middle">SN25 first</text>
<circle cx="1536.0" cy="98.1" r="6.6" fill="#000"/>
<circle cx="1512.2" cy="105.1" r="6.6" fill="#000"/>
<circle cx="1525.0" cy="114.6" r="6.6" fill="#000"/>
<circle cx="1516.6" cy="121.9" r="6.6" fill="#000"/>
<circle cx="1530.5" cy="124.5" r="6.6" fill="#000"/>
<circle cx="1515.9" cy="164.7" r="6.6" fill="#000"/>
<circle cx="1520.2" cy="169.5" r="6.6" fill="#000"/>
<circle cx="1541.5" cy="183.8" r="6.6" fill="#000"/>
<circle cx="1528.7" cy="212.0" r="6.6" fill="#000"/>
<circle cx="1707.0" cy="170.6" r="6.6" fill="#000"/>
<circle cx="1703.7" cy="202.8" r="6.6" fill="#000"/>
<circle cx="1708.1" cy="205.7" r="6.6" fill="#000"/>
<circle cx="1716.1" cy="241.6" r="6.6" fill="#000"/>
<circle cx="1711.0" cy="248.9" r="6.6" fill="#000"/>
<circle cx="1717.2" cy="259.9" r="6.6" fill="#000"/>
<circle cx="1712.4" cy="291.8" r="6.6" fill="#000"/>
<circle cx="1718.3" cy="303.1" r="6.6" fill="#000"/>
<circle cx="1692.7" cy="346.0" r="6.6" fill="#000"/>
<circle cx="1890.4" cy="177.9" r="6.6" fill="#000"/>
<circle cx="1901.3" cy="178.6" r="6.6" fill="#000"/>
<circle cx="1905.7" cy="209.4" r="6.6" fill="#000"/>
<circle cx="1890.4" cy="222.2" r="6.6" fill="#000"/>
<circle cx="1883.0" cy="241.6" r="6.6" fill="#000"/>
<circle cx="1891.1" cy="265.4" r="6.6" fill="#000"/>
<circle cx="1902.1" cy="268.0" r="6.6" fill="#000"/>
<circle cx="1888.2" cy="279.0" r="6.6" fill="#000"/>
<circle cx="1890.4" cy="293.2" r="6.6" fill="#000"/>
<circle cx="1908.3" cy="298.0" r="6.6" fill="#000"/>
<circle cx="1894.8" cy="343.4" r="6.6" fill="#000"/>
<text transform="translate(1376.5,262.5) rotate(-90)" font-size="25.3" font-weight="bold" text-anchor="middle">Traces (%) based on disassembly time</text>
<text x="1342.8" y="548.0" font-size="32.5" font-weight="bold">i</text>
<line x1="1437.1" y1="559.0" x2="1437.1" y2="978.0" stroke="#000" stroke-width="2.2"/>
<line x1="1436.1" y1="977.0" x2="1986.3" y2="977.0" stroke="#000" stroke-width="2.2"/>
<line x1="1430.1" y1="952.5" x2="1437.1" y2="952.5" stroke="#000" stroke-width="2"/>
<text transform="translate(1427.1,960.2) scale(0.93,1)" font-size="25" font-weight="bold" text-anchor="end">60</text>
<line x1="1430.1" y1="854.3" x2="1437.1" y2="854.3" stroke="#000" stroke-width="2"/>
<text transform="translate(1427.1,862.0) scale(0.93,1)" font-size="25" font-weight="bold" text-anchor="end">80</text>
<line x1="1430.1" y1="756.1" x2="1437.1" y2="756.1" stroke="#000" stroke-width="2"/>
<text transform="translate(1427.1,763.8) scale(0.93,1)" font-size="25" font-weight="bold" text-anchor="end">100</text>
<line x1="1430.1" y1="657.9" x2="1437.1" y2="657.9" stroke="#000" stroke-width="2"/>
<text transform="translate(1427.1,665.6) scale(0.93,1)" font-size="25" font-weight="bold" text-anchor="end">120</text>
<line x1="1430.1" y1="559.7" x2="1437.1" y2="559.7" stroke="#000" stroke-width="2"/>
<text transform="translate(1427.1,567.4) scale(0.93,1)" font-size="25" font-weight="bold" text-anchor="end">140</text>
<line x1="1433.1" y1="903.4" x2="1437.1" y2="903.4" stroke="#000" stroke-width="1.8"/>
<line x1="1433.1" y1="805.2" x2="1437.1" y2="805.2" stroke="#000" stroke-width="1.8"/>
<line x1="1433.1" y1="707.0" x2="1437.1" y2="707.0" stroke="#000" stroke-width="1.8"/>
<line x1="1433.1" y1="608.8" x2="1437.1" y2="608.8" stroke="#000" stroke-width="1.8"/>
<line x1="1491.3" y1="977.0" x2="1491.3" y2="984.0" stroke="#000" stroke-width="2"/>
<text transform="translate(1491.3,1004.2) scale(0.93,1)" font-size="25" font-weight="bold" text-anchor="middle">0.2</text>
<line x1="1601.1" y1="977.0" x2="1601.1" y2="984.0" stroke="#000" stroke-width="2"/>
<text transform="translate(1601.1,1004.2) scale(0.93,1)" font-size="25" font-weight="bold" text-anchor="middle">0.4</text>
<line x1="1710.9" y1="977.0" x2="1710.9" y2="984.0" stroke="#000" stroke-width="2"/>
<text transform="translate(1710.9,1004.2) scale(0.93,1)" font-size="25" font-weight="bold" text-anchor="middle">0.6</text>
<line x1="1820.7" y1="977.0" x2="1820.7" y2="984.0" stroke="#000" stroke-width="2"/>
<text transform="translate(1820.7,1004.2) scale(0.93,1)" font-size="25" font-weight="bold" text-anchor="middle">0.8</text>
<line x1="1930.5" y1="977.0" x2="1930.5" y2="984.0" stroke="#000" stroke-width="2"/>
<text transform="translate(1930.5,1004.2) scale(0.93,1)" font-size="25" font-weight="bold" text-anchor="middle">1.0</text>
<line x1="1546.2" y1="977.0" x2="1546.2" y2="981.0" stroke="#000" stroke-width="1.8"/>
<line x1="1656.0" y1="977.0" x2="1656.0" y2="981.0" stroke="#000" stroke-width="1.8"/>
<line x1="1765.8" y1="977.0" x2="1765.8" y2="981.0" stroke="#000" stroke-width="1.8"/>
<line x1="1875.6" y1="977.0" x2="1875.6" y2="981.0" stroke="#000" stroke-width="1.8"/>
<line x1="1985.4" y1="977.0" x2="1985.4" y2="981.0" stroke="#000" stroke-width="1.8"/>
<path d="M1491.3,925.5 L1498.7,909.3 L1506.2,893.9 L1513.6,879.1 L1521.1,865.0 L1528.5,851.5 L1536.0,838.6 L1543.4,826.3 L1550.9,814.5 L1558.3,803.3 L1565.7,792.5 L1573.2,782.2 L1580.6,772.4 L1588.1,763.0 L1595.5,754.0 L1603.0,745.4 L1610.4,737.2 L1617.8,729.4 L1625.3,721.9 L1632.7,714.7 L1640.2,707.9 L1647.6,701.4 L1655.1,695.1 L1662.5,689.1 L1670.0,683.4 L1677.4,677.9 L1684.8,672.7 L1692.3,667.7 L1699.7,663.0 L1707.2,658.4 L1714.6,654.0 L1722.1,649.9 L1729.5,645.9 L1737.0,642.1 L1744.4,638.5 L1751.8,635.0 L1759.3,631.7 L1766.7,628.5 L1774.2,625.4 L1781.6,622.5 L1789.1,619.8 L1796.5,617.1 L1804.0,614.6 L1811.4,612.2 L1818.8,609.9 L1826.3,607.6 L1833.7,605.5 L1841.2,603.5 L1848.6,601.6 L1856.1,599.7 L1863.5,598.0 L1870.9,596.3 L1878.4,594.7 L1885.8,593.1 L1893.3,591.7 L1900.7,590.2 L1908.2,588.9 L1915.6,587.6 L1923.1,586.4 L1930.5,585.2" fill="none" stroke="#FF0000" stroke-width="4" stroke-linejoin="round" stroke-linecap="round"/>
<rect x="1484.8" y="921.5" width="13" height="13" fill="#000"/>
<rect x="1594.6" y="739.8" width="13" height="13" fill="#000"/>
<rect x="1704.4" y="651.4" width="13" height="13" fill="#000"/>
<rect x="1814.2" y="612.1" width="13" height="13" fill="#000"/>
<rect x="1924.0" y="572.8" width="13" height="13" fill="#000"/>
<text x="1647.0" y="786.0" font-size="28.35" font-weight="bold">t<tspan font-size="20.2" dy="7">Stx</tspan><tspan dy="-7">= 0.30&#177;0.03 seconds</tspan></text>
<text x="1711.0" y="1038.6" font-size="25.3" font-weight="bold" text-anchor="middle">Time (seconds)</text>
<text transform="translate(1377.0,771.2) rotate(-90)" font-size="25" font-weight="bold" text-anchor="middle">Cumulative count of traces</text>
<text x="1353.0" y="1074.0" font-size="32.5" font-weight="bold">j</text>
<line x1="1437.1" y1="1090.6" x2="1437.1" y2="1496.5" stroke="#000" stroke-width="2.2"/>
<line x1="1436.1" y1="1495.5" x2="1986.3" y2="1495.5" stroke="#000" stroke-width="2.2"/>
<line x1="1430.1" y1="1460.4" x2="1437.1" y2="1460.4" stroke="#000" stroke-width="2"/>
<text transform="translate(1427.1,1468.1) scale(0.93,1)" font-size="25" font-weight="bold" text-anchor="end">40</text>
<line x1="1430.1" y1="1386.5" x2="1437.1" y2="1386.5" stroke="#000" stroke-width="2"/>
<text transform="translate(1427.1,1394.2) scale(0.93,1)" font-size="25" font-weight="bold" text-anchor="end">50</text>
<line x1="1430.1" y1="1312.6" x2="1437.1" y2="1312.6" stroke="#000" stroke-width="2"/>
<text transform="translate(1427.1,1320.3) scale(0.93,1)" font-size="25" font-weight="bold" text-anchor="end">60</text>
<line x1="1430.1" y1="1238.8" x2="1437.1" y2="1238.8" stroke="#000" stroke-width="2"/>
<text transform="translate(1427.1,1246.5) scale(0.93,1)" font-size="25" font-weight="bold" text-anchor="end">70</text>
<line x1="1430.1" y1="1164.9" x2="1437.1" y2="1164.9" stroke="#000" stroke-width="2"/>
<text transform="translate(1427.1,1172.6) scale(0.93,1)" font-size="25" font-weight="bold" text-anchor="end">80</text>
<line x1="1430.1" y1="1091.0" x2="1437.1" y2="1091.0" stroke="#000" stroke-width="2"/>
<text transform="translate(1427.1,1098.7) scale(0.93,1)" font-size="25" font-weight="bold" text-anchor="end">90</text>
<line x1="1433.1" y1="1423.5" x2="1437.1" y2="1423.5" stroke="#000" stroke-width="1.8"/>
<line x1="1433.1" y1="1349.6" x2="1437.1" y2="1349.6" stroke="#000" stroke-width="1.8"/>
<line x1="1433.1" y1="1275.7" x2="1437.1" y2="1275.7" stroke="#000" stroke-width="1.8"/>
<line x1="1433.1" y1="1201.8" x2="1437.1" y2="1201.8" stroke="#000" stroke-width="1.8"/>
<line x1="1433.1" y1="1127.9" x2="1437.1" y2="1127.9" stroke="#000" stroke-width="1.8"/>
<line x1="1491.3" y1="1495.5" x2="1491.3" y2="1502.5" stroke="#000" stroke-width="2"/>
<text transform="translate(1491.3,1524.2) scale(0.93,1)" font-size="25" font-weight="bold" text-anchor="middle">0.2</text>
<line x1="1601.1" y1="1495.5" x2="1601.1" y2="1502.5" stroke="#000" stroke-width="2"/>
<text transform="translate(1601.1,1524.2) scale(0.93,1)" font-size="25" font-weight="bold" text-anchor="middle">0.4</text>
<line x1="1710.9" y1="1495.5" x2="1710.9" y2="1502.5" stroke="#000" stroke-width="2"/>
<text transform="translate(1710.9,1524.2) scale(0.93,1)" font-size="25" font-weight="bold" text-anchor="middle">0.6</text>
<line x1="1820.7" y1="1495.5" x2="1820.7" y2="1502.5" stroke="#000" stroke-width="2"/>
<text transform="translate(1820.7,1524.2) scale(0.93,1)" font-size="25" font-weight="bold" text-anchor="middle">0.8</text>
<line x1="1930.5" y1="1495.5" x2="1930.5" y2="1502.5" stroke="#000" stroke-width="2"/>
<text transform="translate(1930.5,1524.2) scale(0.93,1)" font-size="25" font-weight="bold" text-anchor="middle">1.0</text>
<line x1="1546.2" y1="1495.5" x2="1546.2" y2="1499.5" stroke="#000" stroke-width="1.8"/>
<line x1="1656.0" y1="1495.5" x2="1656.0" y2="1499.5" stroke="#000" stroke-width="1.8"/>
<line x1="1765.8" y1="1495.5" x2="1765.8" y2="1499.5" stroke="#000" stroke-width="1.8"/>
<line x1="1875.6" y1="1495.5" x2="1875.6" y2="1499.5" stroke="#000" stroke-width="1.8"/>
<line x1="1985.4" y1="1495.5" x2="1985.4" y2="1499.5" stroke="#000" stroke-width="1.8"/>
<path d="M1491.3,1457.8 L1498.7,1437.9 L1506.2,1419.0 L1513.6,1401.2 L1521.1,1384.4 L1528.5,1368.4 L1536.0,1353.4 L1543.4,1339.2 L1550.9,1325.7 L1558.3,1313.0 L1565.7,1301.0 L1573.2,1289.7 L1580.6,1279.0 L1588.1,1268.8 L1595.5,1259.3 L1603.0,1250.2 L1610.4,1241.7 L1617.8,1233.6 L1625.3,1226.0 L1632.7,1218.7 L1640.2,1211.9 L1647.6,1205.5 L1655.1,1199.4 L1662.5,1193.6 L1670.0,1188.2 L1677.4,1183.0 L1684.8,1178.2 L1692.3,1173.6 L1699.7,1169.2 L1707.2,1165.1 L1714.6,1161.3 L1722.1,1157.6 L1729.5,1154.1 L1737.0,1150.9 L1744.4,1147.8 L1751.8,1144.8 L1759.3,1142.1 L1766.7,1139.5 L1774.2,1137.0 L1781.6,1134.7 L1789.1,1132.5 L1796.5,1130.4 L1804.0,1128.4 L1811.4,1126.6 L1818.8,1124.8 L1826.3,1123.1 L1833.7,1121.6 L1841.2,1120.1 L1848.6,1118.7 L1856.1,1117.3 L1863.5,1116.1 L1870.9,1114.9 L1878.4,1113.8 L1885.8,1112.7 L1893.3,1111.7 L1900.7,1110.8 L1908.2,1109.9 L1915.6,1109.1 L1923.1,1108.3 L1930.5,1107.5" fill="none" stroke="#000" stroke-width="4" stroke-linejoin="round" stroke-linecap="round"/>
<rect x="1484.8" y="1452.4" width="13" height="13" fill="#0000FF"/>
<rect x="1594.6" y="1247.0" width="13" height="13" fill="#0000FF"/>
<rect x="1704.4" y="1158.4" width="13" height="13" fill="#0000FF"/>
<rect x="1814.2" y="1121.4" width="13" height="13" fill="#0000FF"/>
<rect x="1924.0" y="1099.3" width="13" height="13" fill="#0000FF"/>
<text x="1647.0" y="1317.0" font-size="28.35" font-weight="bold">t<tspan font-size="20.2" dy="7">SN</tspan><tspan dy="-7">= 0.24&#177;0.01 seconds</tspan></text>
<text x="1711.0" y="1558.6" font-size="25.3" font-weight="bold" text-anchor="middle">Time (seconds)</text>
<text transform="translate(1377.0,1274.8) rotate(-90)" font-size="25" font-weight="bold" text-anchor="middle">Cumulative count of traces</text>
</svg></body></html>
